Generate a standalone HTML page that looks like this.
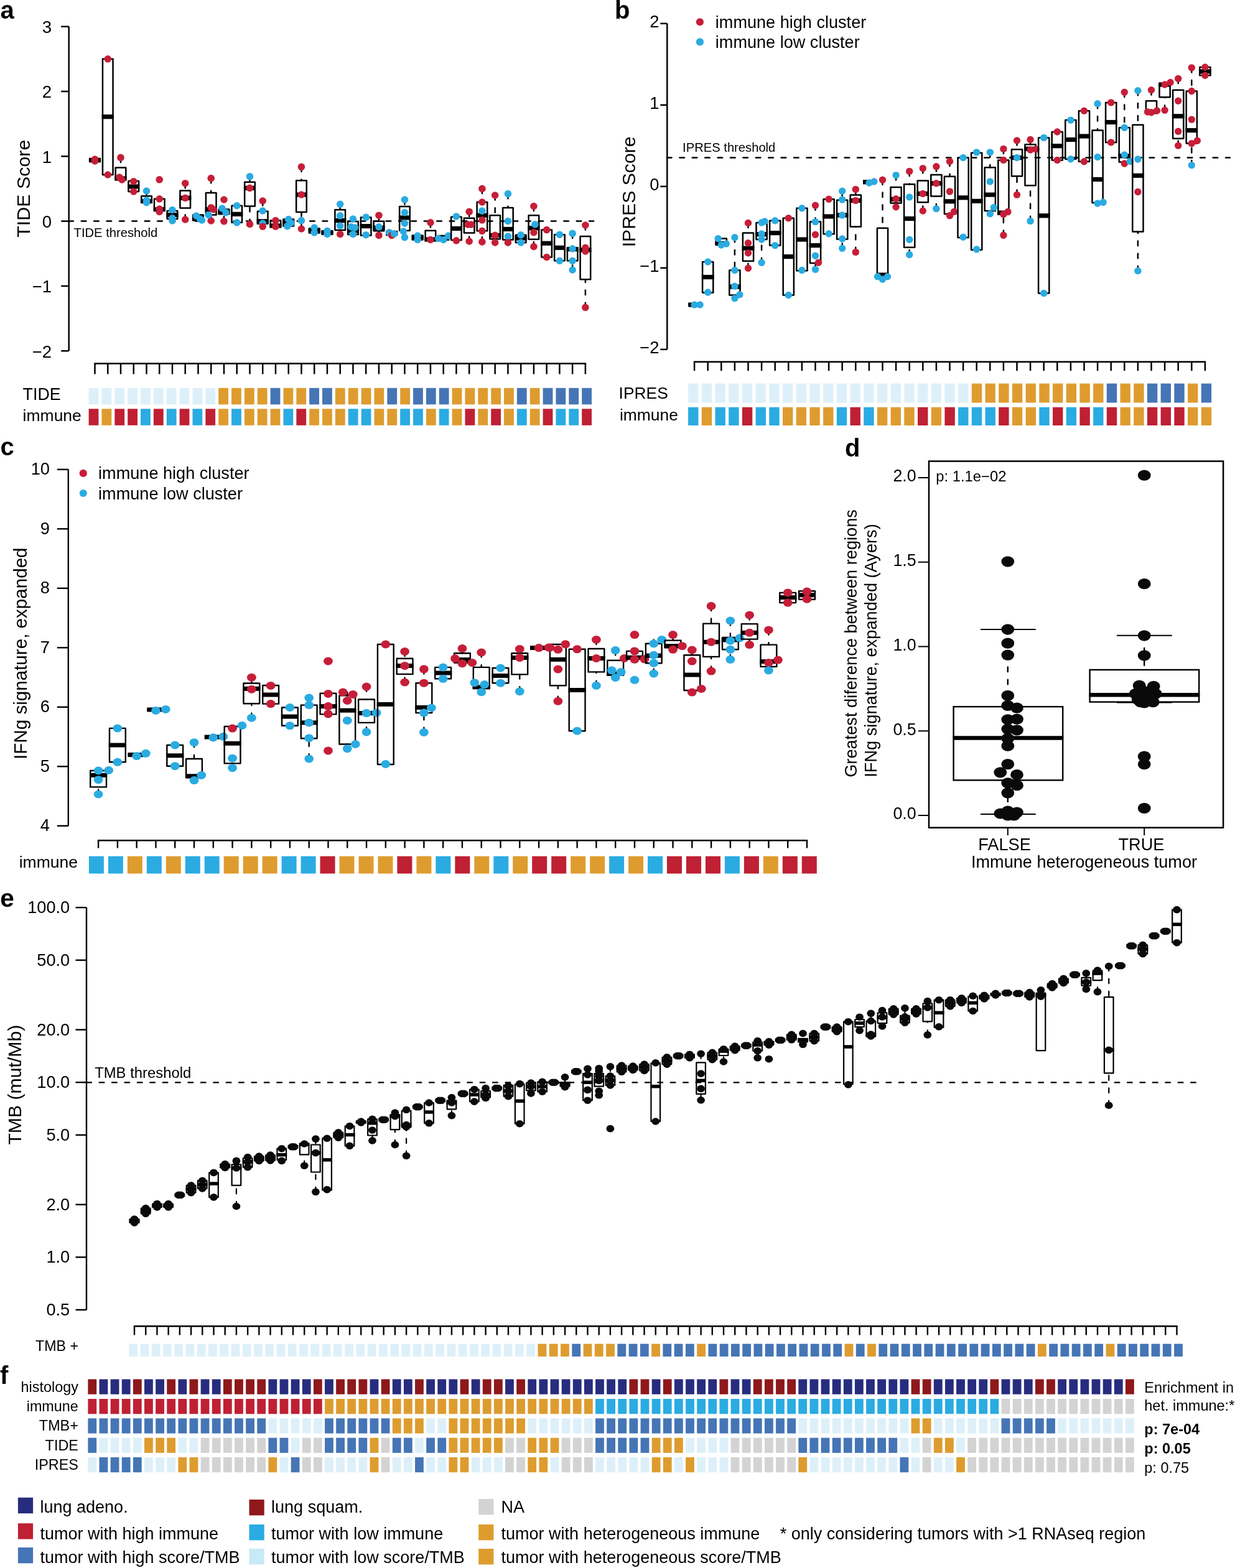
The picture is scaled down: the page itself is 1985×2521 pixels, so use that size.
<!DOCTYPE html>
<html><head><meta charset="utf-8"><title>Figure</title>
<style>html,body{margin:0;padding:0;background:#fff;} svg{display:block;} text{font-family:"Liberation Sans", Arial, Helvetica, sans-serif;}</style>
</head><body>
<svg xmlns="http://www.w3.org/2000/svg" width="1985" height="2521" viewBox="0 0 1985 2521">
<rect x="0" y="0" width="1985" height="2521" fill="#fff"/>
<line x1="110.7" y1="42.7" x2="110.7" y2="564.2" stroke="#000" stroke-width="2.5" stroke-linecap="butt"/>
<line x1="98.2" y1="42.7" x2="110.7" y2="42.7" stroke="#000" stroke-width="2.5" stroke-linecap="butt"/>
<text x="83" y="53.1" font-size="27.6" text-anchor="end" fill="#000">3</text>
<line x1="98.2" y1="147" x2="110.7" y2="147" stroke="#000" stroke-width="2.5" stroke-linecap="butt"/>
<text x="83" y="157.4" font-size="27.6" text-anchor="end" fill="#000">2</text>
<line x1="98.2" y1="251.3" x2="110.7" y2="251.3" stroke="#000" stroke-width="2.5" stroke-linecap="butt"/>
<text x="83" y="261.7" font-size="27.6" text-anchor="end" fill="#000">1</text>
<line x1="98.2" y1="355.6" x2="110.7" y2="355.6" stroke="#000" stroke-width="2.5" stroke-linecap="butt"/>
<text x="83" y="366" font-size="27.6" text-anchor="end" fill="#000">0</text>
<line x1="98.2" y1="459.9" x2="110.7" y2="459.9" stroke="#000" stroke-width="2.5" stroke-linecap="butt"/>
<text x="83" y="470.3" font-size="27.6" text-anchor="end" fill="#000">−1</text>
<line x1="98.2" y1="564.2" x2="110.7" y2="564.2" stroke="#000" stroke-width="2.5" stroke-linecap="butt"/>
<text x="83" y="574.6" font-size="27.6" text-anchor="end" fill="#000">−2</text>
<line x1="110.34" y1="355.6" x2="954.1" y2="355.6" stroke="#000" stroke-width="2.5" stroke-dasharray="7.6 12.81" stroke-linecap="round"/>
<text x="118.6" y="380.5" font-size="20.2" text-anchor="start" fill="#000">TIDE threshold</text>
<text transform="translate(48.4,303.2) rotate(-90)" font-size="30.4" text-anchor="middle" fill="#000">TIDE Score</text>
<text x="0.5" y="30.3" font-size="40" text-anchor="start" font-weight="bold" fill="#000">a</text>
<rect x="144.2" y="255" width="16.6" height="5" fill="none" stroke="#000" stroke-width="2.5" stroke-linejoin="round"/>
<line x1="142.95" y1="257.5" x2="162.05" y2="257.5" stroke="#000" stroke-width="7.2" stroke-linecap="butt"/>
<circle cx="152.5" cy="256" r="5.8" fill="#C61E38"/>
<circle cx="152.5" cy="259" r="5.8" fill="#C61E38"/>
<rect x="164.95" y="94.8" width="16.6" height="186.2" fill="none" stroke="#000" stroke-width="2.5" stroke-linejoin="round"/>
<line x1="163.7" y1="187.7" x2="182.8" y2="187.7" stroke="#000" stroke-width="7.2" stroke-linecap="butt"/>
<circle cx="173.25" cy="94.8" r="5.8" fill="#C61E38"/>
<circle cx="173.25" cy="281" r="5.8" fill="#C61E38"/>
<line x1="193.99" y1="253.4" x2="193.99" y2="269.6" stroke="#000" stroke-width="2.5" stroke-dasharray="7.6 12.6" stroke-linecap="round"/>
<line x1="193.99" y1="289" x2="193.99" y2="288" stroke="#000" stroke-width="2.5" stroke-dasharray="7.6 12.6" stroke-linecap="round"/>
<rect x="185.69" y="269.6" width="16.6" height="18.4" fill="none" stroke="#000" stroke-width="2.5" stroke-linejoin="round"/>
<line x1="184.44" y1="287" x2="203.54" y2="287" stroke="#000" stroke-width="7.2" stroke-linecap="butt"/>
<circle cx="193.99" cy="253.4" r="5.8" fill="#C61E38"/>
<circle cx="191.99" cy="285" r="5.8" fill="#C61E38"/>
<circle cx="195.99" cy="289" r="5.8" fill="#C61E38"/>
<rect x="206.44" y="291" width="16.6" height="17" fill="none" stroke="#000" stroke-width="2.5" stroke-linejoin="round"/>
<line x1="205.19" y1="300" x2="224.29" y2="300" stroke="#000" stroke-width="7.2" stroke-linecap="butt"/>
<circle cx="214.74" cy="291.7" r="5.8" fill="#C61E38"/>
<circle cx="214.74" cy="308" r="5.8" fill="#C61E38"/>
<line x1="235.49" y1="307" x2="235.49" y2="315.3" stroke="#000" stroke-width="2.5" stroke-dasharray="7.6 12.6" stroke-linecap="round"/>
<line x1="235.49" y1="325.7" x2="235.49" y2="325" stroke="#000" stroke-width="2.5" stroke-dasharray="7.6 12.6" stroke-linecap="round"/>
<rect x="227.19" y="315.3" width="16.6" height="9.7" fill="none" stroke="#000" stroke-width="2.5" stroke-linejoin="round"/>
<line x1="225.94" y1="323.5" x2="245.04" y2="323.5" stroke="#000" stroke-width="7.2" stroke-linecap="butt"/>
<circle cx="235.49" cy="307" r="5.8" fill="#2AABE2"/>
<circle cx="235.49" cy="322" r="5.8" fill="#2AABE2"/>
<circle cx="235.49" cy="325.7" r="5.8" fill="#2AABE2"/>
<line x1="256.24" y1="340.4" x2="256.24" y2="337.5" stroke="#000" stroke-width="2.5" stroke-dasharray="7.6 12.6" stroke-linecap="round"/>
<rect x="247.94" y="319.8" width="16.6" height="17.7" fill="none" stroke="#000" stroke-width="2.5" stroke-linejoin="round"/>
<line x1="246.69" y1="336.7" x2="265.79" y2="336.7" stroke="#000" stroke-width="7.2" stroke-linecap="butt"/>
<circle cx="256.24" cy="288.8" r="5.8" fill="#C61E38"/>
<circle cx="256.24" cy="319.8" r="5.8" fill="#C61E38"/>
<circle cx="256.24" cy="336" r="5.8" fill="#C61E38"/>
<circle cx="256.24" cy="340.4" r="5.8" fill="#C61E38"/>
<line x1="276.98" y1="337.5" x2="276.98" y2="339" stroke="#000" stroke-width="2.5" stroke-dasharray="7.6 12.6" stroke-linecap="round"/>
<line x1="276.98" y1="355" x2="276.98" y2="352" stroke="#000" stroke-width="2.5" stroke-dasharray="7.6 12.6" stroke-linecap="round"/>
<rect x="268.68" y="339" width="16.6" height="13" fill="none" stroke="#000" stroke-width="2.5" stroke-linejoin="round"/>
<line x1="267.43" y1="345.6" x2="286.53" y2="345.6" stroke="#000" stroke-width="7.2" stroke-linecap="butt"/>
<circle cx="276.98" cy="337.5" r="5.8" fill="#2AABE2"/>
<circle cx="276.98" cy="350.8" r="5.8" fill="#2AABE2"/>
<circle cx="276.98" cy="355" r="5.8" fill="#2AABE2"/>
<line x1="297.73" y1="294.7" x2="297.73" y2="306.5" stroke="#000" stroke-width="2.5" stroke-dasharray="7.6 12.6" stroke-linecap="round"/>
<line x1="297.73" y1="353" x2="297.73" y2="334.5" stroke="#000" stroke-width="2.5" stroke-dasharray="7.6 12.6" stroke-linecap="round"/>
<rect x="289.43" y="306.5" width="16.6" height="28" fill="none" stroke="#000" stroke-width="2.5" stroke-linejoin="round"/>
<line x1="288.18" y1="318.3" x2="307.28" y2="318.3" stroke="#000" stroke-width="7.2" stroke-linecap="butt"/>
<circle cx="297.73" cy="294.7" r="5.8" fill="#C61E38"/>
<circle cx="297.73" cy="318.3" r="5.8" fill="#C61E38"/>
<circle cx="297.73" cy="353" r="5.8" fill="#C61E38"/>
<rect x="310.18" y="345.6" width="16.6" height="8.9" fill="none" stroke="#000" stroke-width="2.5" stroke-linejoin="round"/>
<line x1="308.93" y1="350" x2="328.03" y2="350" stroke="#000" stroke-width="7.2" stroke-linecap="butt"/>
<circle cx="315.48" cy="347" r="5.8" fill="#2AABE2"/>
<circle cx="321.48" cy="352" r="5.8" fill="#2AABE2"/>
<circle cx="324.48" cy="354" r="5.8" fill="#2AABE2"/>
<line x1="339.23" y1="286.6" x2="339.23" y2="310" stroke="#000" stroke-width="2.5" stroke-dasharray="7.6 12.6" stroke-linecap="round"/>
<line x1="339.23" y1="355" x2="339.23" y2="345.6" stroke="#000" stroke-width="2.5" stroke-dasharray="7.6 12.6" stroke-linecap="round"/>
<rect x="330.93" y="310" width="16.6" height="35.6" fill="none" stroke="#000" stroke-width="2.5" stroke-linejoin="round"/>
<line x1="329.68" y1="336.7" x2="348.78" y2="336.7" stroke="#000" stroke-width="7.2" stroke-linecap="butt"/>
<circle cx="339.23" cy="286.6" r="5.8" fill="#C61E38"/>
<circle cx="339.23" cy="333.8" r="5.8" fill="#C61E38"/>
<circle cx="343.23" cy="336.7" r="5.8" fill="#C61E38"/>
<circle cx="339.23" cy="355" r="5.8" fill="#C61E38"/>
<circle cx="335.23" cy="345.6" r="5.8" fill="#2AABE2"/>
<line x1="359.97" y1="335" x2="359.97" y2="336.5" stroke="#000" stroke-width="2.5" stroke-dasharray="7.6 12.6" stroke-linecap="round"/>
<line x1="359.97" y1="355.8" x2="359.97" y2="344.3" stroke="#000" stroke-width="2.5" stroke-dasharray="7.6 12.6" stroke-linecap="round"/>
<rect x="351.67" y="336.5" width="16.6" height="7.8" fill="none" stroke="#000" stroke-width="2.5" stroke-linejoin="round"/>
<line x1="350.42" y1="341" x2="369.52" y2="341" stroke="#000" stroke-width="7.2" stroke-linecap="butt"/>
<circle cx="359.97" cy="321" r="5.8" fill="#C61E38"/>
<circle cx="356.97" cy="335" r="5.8" fill="#2AABE2"/>
<circle cx="362.97" cy="341.7" r="5.8" fill="#2AABE2"/>
<circle cx="359.97" cy="355.8" r="5.8" fill="#C61E38"/>
<rect x="372.42" y="330.7" width="16.6" height="27.1" fill="none" stroke="#000" stroke-width="2.5" stroke-linejoin="round"/>
<line x1="371.17" y1="344.3" x2="390.27" y2="344.3" stroke="#000" stroke-width="7.2" stroke-linecap="butt"/>
<circle cx="380.72" cy="330.7" r="5.8" fill="#2AABE2"/>
<circle cx="380.72" cy="357.8" r="5.8" fill="#2AABE2"/>
<line x1="401.47" y1="283.7" x2="401.47" y2="292.7" stroke="#000" stroke-width="2.5" stroke-dasharray="7.6 12.6" stroke-linecap="round"/>
<line x1="401.47" y1="360.4" x2="401.47" y2="331.4" stroke="#000" stroke-width="2.5" stroke-dasharray="7.6 12.6" stroke-linecap="round"/>
<rect x="393.17" y="292.7" width="16.6" height="38.7" fill="none" stroke="#000" stroke-width="2.5" stroke-linejoin="round"/>
<line x1="391.92" y1="302.4" x2="411.02" y2="302.4" stroke="#000" stroke-width="7.2" stroke-linecap="butt"/>
<circle cx="401.47" cy="283.7" r="5.8" fill="#2AABE2"/>
<circle cx="401.47" cy="302.4" r="5.8" fill="#C61E38"/>
<circle cx="401.47" cy="360.4" r="5.8" fill="#C61E38"/>
<line x1="422.22" y1="323" x2="422.22" y2="339.7" stroke="#000" stroke-width="2.5" stroke-dasharray="7.6 12.6" stroke-linecap="round"/>
<line x1="422.22" y1="364.2" x2="422.22" y2="359.7" stroke="#000" stroke-width="2.5" stroke-dasharray="7.6 12.6" stroke-linecap="round"/>
<rect x="413.92" y="339.7" width="16.6" height="20" fill="none" stroke="#000" stroke-width="2.5" stroke-linejoin="round"/>
<line x1="412.67" y1="355.8" x2="431.77" y2="355.8" stroke="#000" stroke-width="7.2" stroke-linecap="butt"/>
<circle cx="422.22" cy="323" r="5.8" fill="#C61E38"/>
<circle cx="422.22" cy="339" r="5.8" fill="#2AABE2"/>
<circle cx="422.22" cy="359" r="5.8" fill="#2AABE2"/>
<circle cx="422.22" cy="364.2" r="5.8" fill="#C61E38"/>
<rect x="434.66" y="354.6" width="16.6" height="9.6" fill="none" stroke="#000" stroke-width="2.5" stroke-linejoin="round"/>
<line x1="433.41" y1="363" x2="452.51" y2="363" stroke="#000" stroke-width="7.2" stroke-linecap="butt"/>
<circle cx="442.96" cy="354.6" r="5.8" fill="#C61E38"/>
<circle cx="442.96" cy="364.2" r="5.8" fill="#C61E38"/>
<rect x="455.41" y="352.6" width="16.6" height="11" fill="none" stroke="#000" stroke-width="2.5" stroke-linejoin="round"/>
<line x1="454.16" y1="358" x2="473.26" y2="358" stroke="#000" stroke-width="7.2" stroke-linecap="butt"/>
<circle cx="463.71" cy="352.6" r="5.8" fill="#2AABE2"/>
<circle cx="467.71" cy="358.4" r="5.8" fill="#2AABE2"/>
<circle cx="461.71" cy="363.6" r="5.8" fill="#2AABE2"/>
<line x1="484.46" y1="268.3" x2="484.46" y2="290.2" stroke="#000" stroke-width="2.5" stroke-dasharray="7.6 12.6" stroke-linecap="round"/>
<line x1="484.46" y1="368" x2="484.46" y2="341" stroke="#000" stroke-width="2.5" stroke-dasharray="7.6 12.6" stroke-linecap="round"/>
<rect x="476.16" y="290.2" width="16.6" height="50.8" fill="none" stroke="#000" stroke-width="2.5" stroke-linejoin="round"/>
<line x1="474.91" y1="313" x2="494.01" y2="313" stroke="#000" stroke-width="7.2" stroke-linecap="butt"/>
<circle cx="484.46" cy="268.3" r="5.8" fill="#C61E38"/>
<circle cx="484.46" cy="313" r="5.8" fill="#C61E38"/>
<circle cx="484.46" cy="354.6" r="5.8" fill="#2AABE2"/>
<circle cx="484.46" cy="368" r="5.8" fill="#C61E38"/>
<line x1="505.21" y1="366" x2="505.21" y2="367.4" stroke="#000" stroke-width="2.5" stroke-dasharray="7.6 12.6" stroke-linecap="round"/>
<rect x="496.91" y="367.4" width="16.6" height="7.1" fill="none" stroke="#000" stroke-width="2.5" stroke-linejoin="round"/>
<line x1="495.66" y1="370" x2="514.76" y2="370" stroke="#000" stroke-width="7.2" stroke-linecap="butt"/>
<circle cx="505.21" cy="366" r="5.8" fill="#2AABE2"/>
<circle cx="505.21" cy="374" r="5.8" fill="#2AABE2"/>
<rect x="517.65" y="371.3" width="16.6" height="5.2" fill="none" stroke="#000" stroke-width="2.5" stroke-linejoin="round"/>
<line x1="516.4" y1="374" x2="535.5" y2="374" stroke="#000" stroke-width="7.2" stroke-linecap="butt"/>
<circle cx="525.95" cy="371.3" r="5.8" fill="#2AABE2"/>
<circle cx="525.95" cy="376.5" r="5.8" fill="#2AABE2"/>
<line x1="546.7" y1="328.2" x2="546.7" y2="337.2" stroke="#000" stroke-width="2.5" stroke-dasharray="7.6 12.6" stroke-linecap="round"/>
<line x1="546.7" y1="376.5" x2="546.7" y2="370" stroke="#000" stroke-width="2.5" stroke-dasharray="7.6 12.6" stroke-linecap="round"/>
<rect x="538.4" y="337.2" width="16.6" height="32.8" fill="none" stroke="#000" stroke-width="2.5" stroke-linejoin="round"/>
<line x1="537.15" y1="354.6" x2="556.25" y2="354.6" stroke="#000" stroke-width="7.2" stroke-linecap="butt"/>
<circle cx="546.7" cy="328.2" r="5.8" fill="#2AABE2"/>
<circle cx="546.7" cy="346.8" r="5.8" fill="#2AABE2"/>
<circle cx="546.7" cy="363" r="5.8" fill="#2AABE2"/>
<circle cx="546.7" cy="376.5" r="5.8" fill="#C61E38"/>
<line x1="567.45" y1="352" x2="567.45" y2="356" stroke="#000" stroke-width="2.5" stroke-dasharray="7.6 12.6" stroke-linecap="round"/>
<rect x="559.15" y="356" width="16.6" height="21" fill="none" stroke="#000" stroke-width="2.5" stroke-linejoin="round"/>
<line x1="557.9" y1="371" x2="577" y2="371" stroke="#000" stroke-width="7.2" stroke-linecap="butt"/>
<circle cx="567.45" cy="352" r="5.8" fill="#2AABE2"/>
<circle cx="564.45" cy="364.9" r="5.8" fill="#2AABE2"/>
<circle cx="570.45" cy="366" r="5.8" fill="#2AABE2"/>
<circle cx="567.45" cy="376.5" r="5.8" fill="#2AABE2"/>
<rect x="579.89" y="349.4" width="16.6" height="29" fill="none" stroke="#000" stroke-width="2.5" stroke-linejoin="round"/>
<line x1="578.64" y1="363.6" x2="597.74" y2="363.6" stroke="#000" stroke-width="7.2" stroke-linecap="butt"/>
<circle cx="588.19" cy="349.4" r="5.8" fill="#2AABE2"/>
<circle cx="588.19" cy="377.7" r="5.8" fill="#2AABE2"/>
<line x1="608.94" y1="346.2" x2="608.94" y2="355.8" stroke="#000" stroke-width="2.5" stroke-dasharray="7.6 12.6" stroke-linecap="round"/>
<line x1="608.94" y1="378.4" x2="608.94" y2="371.3" stroke="#000" stroke-width="2.5" stroke-dasharray="7.6 12.6" stroke-linecap="round"/>
<rect x="600.64" y="355.8" width="16.6" height="15.5" fill="none" stroke="#000" stroke-width="2.5" stroke-linejoin="round"/>
<line x1="599.39" y1="366.2" x2="618.49" y2="366.2" stroke="#000" stroke-width="7.2" stroke-linecap="butt"/>
<circle cx="608.94" cy="346.2" r="5.8" fill="#C61E38"/>
<circle cx="608.94" cy="364.9" r="5.8" fill="#2AABE2"/>
<circle cx="608.94" cy="378.4" r="5.8" fill="#C61E38"/>
<rect x="621.39" y="372" width="16.6" height="6" fill="none" stroke="#000" stroke-width="2.5" stroke-linejoin="round"/>
<line x1="620.14" y1="375" x2="639.24" y2="375" stroke="#000" stroke-width="7.2" stroke-linecap="butt"/>
<circle cx="625.69" cy="373.9" r="5.8" fill="#2AABE2"/>
<circle cx="629.69" cy="378.4" r="5.8" fill="#C61E38"/>
<circle cx="633.69" cy="376" r="5.8" fill="#2AABE2"/>
<line x1="650.44" y1="321" x2="650.44" y2="332" stroke="#000" stroke-width="2.5" stroke-dasharray="7.6 12.6" stroke-linecap="round"/>
<line x1="650.44" y1="381.6" x2="650.44" y2="370.7" stroke="#000" stroke-width="2.5" stroke-dasharray="7.6 12.6" stroke-linecap="round"/>
<rect x="642.14" y="332" width="16.6" height="38.7" fill="none" stroke="#000" stroke-width="2.5" stroke-linejoin="round"/>
<line x1="640.89" y1="350" x2="659.99" y2="350" stroke="#000" stroke-width="7.2" stroke-linecap="butt"/>
<circle cx="650.44" cy="321" r="5.8" fill="#2AABE2"/>
<circle cx="650.44" cy="341.7" r="5.8" fill="#2AABE2"/>
<circle cx="650.44" cy="359" r="5.8" fill="#2AABE2"/>
<circle cx="648.44" cy="372" r="5.8" fill="#2AABE2"/>
<circle cx="650.44" cy="381.6" r="5.8" fill="#2AABE2"/>
<rect x="662.88" y="378.4" width="16.6" height="7.1" fill="none" stroke="#000" stroke-width="2.5" stroke-linejoin="round"/>
<line x1="661.63" y1="382" x2="680.73" y2="382" stroke="#000" stroke-width="7.2" stroke-linecap="butt"/>
<circle cx="671.18" cy="379" r="5.8" fill="#2AABE2"/>
<circle cx="671.18" cy="385.5" r="5.8" fill="#2AABE2"/>
<line x1="691.93" y1="357.8" x2="691.93" y2="370.7" stroke="#000" stroke-width="2.5" stroke-dasharray="7.6 12.6" stroke-linecap="round"/>
<rect x="683.63" y="370.7" width="16.6" height="14.8" fill="none" stroke="#000" stroke-width="2.5" stroke-linejoin="round"/>
<line x1="682.38" y1="385" x2="701.48" y2="385" stroke="#000" stroke-width="7.2" stroke-linecap="butt"/>
<circle cx="691.93" cy="357.8" r="5.8" fill="#C61E38"/>
<circle cx="691.93" cy="385.5" r="5.8" fill="#C61E38"/>
<rect x="704.38" y="379" width="16.6" height="6.5" fill="none" stroke="#000" stroke-width="2.5" stroke-linejoin="round"/>
<line x1="703.13" y1="383" x2="722.23" y2="383" stroke="#000" stroke-width="7.2" stroke-linecap="butt"/>
<circle cx="704.68" cy="383.5" r="5.8" fill="#2AABE2"/>
<circle cx="712.68" cy="385.5" r="5.8" fill="#2AABE2"/>
<circle cx="720.68" cy="379" r="5.8" fill="#2AABE2"/>
<line x1="733.43" y1="348" x2="733.43" y2="348.8" stroke="#000" stroke-width="2.5" stroke-dasharray="7.6 12.6" stroke-linecap="round"/>
<line x1="733.43" y1="386.8" x2="733.43" y2="386" stroke="#000" stroke-width="2.5" stroke-dasharray="7.6 12.6" stroke-linecap="round"/>
<rect x="725.13" y="348.8" width="16.6" height="37.2" fill="none" stroke="#000" stroke-width="2.5" stroke-linejoin="round"/>
<line x1="723.88" y1="367.4" x2="742.98" y2="367.4" stroke="#000" stroke-width="7.2" stroke-linecap="butt"/>
<circle cx="733.43" cy="348" r="5.8" fill="#2AABE2"/>
<circle cx="733.43" cy="386.8" r="5.8" fill="#C61E38"/>
<line x1="754.17" y1="340.4" x2="754.17" y2="350.7" stroke="#000" stroke-width="2.5" stroke-dasharray="7.6 12.6" stroke-linecap="round"/>
<line x1="754.17" y1="388" x2="754.17" y2="374.5" stroke="#000" stroke-width="2.5" stroke-dasharray="7.6 12.6" stroke-linecap="round"/>
<rect x="745.87" y="350.7" width="16.6" height="23.8" fill="none" stroke="#000" stroke-width="2.5" stroke-linejoin="round"/>
<line x1="744.62" y1="361" x2="763.72" y2="361" stroke="#000" stroke-width="7.2" stroke-linecap="butt"/>
<circle cx="754.17" cy="340.4" r="5.8" fill="#C61E38"/>
<circle cx="752.17" cy="361" r="5.8" fill="#C61E38"/>
<circle cx="757.17" cy="361" r="5.8" fill="#C61E38"/>
<circle cx="754.17" cy="388" r="5.8" fill="#C61E38"/>
<line x1="774.92" y1="303.4" x2="774.92" y2="325.1" stroke="#000" stroke-width="2.5" stroke-dasharray="7.6 12.6" stroke-linecap="round"/>
<line x1="774.92" y1="388.9" x2="774.92" y2="371.3" stroke="#000" stroke-width="2.5" stroke-dasharray="7.6 12.6" stroke-linecap="round"/>
<rect x="766.62" y="325.1" width="16.6" height="46.2" fill="none" stroke="#000" stroke-width="2.5" stroke-linejoin="round"/>
<line x1="765.37" y1="346.2" x2="784.47" y2="346.2" stroke="#000" stroke-width="7.2" stroke-linecap="butt"/>
<circle cx="774.92" cy="303.4" r="5.8" fill="#C61E38"/>
<circle cx="774.92" cy="325" r="5.8" fill="#C61E38"/>
<circle cx="774.92" cy="339.1" r="5.8" fill="#2AABE2"/>
<circle cx="774.92" cy="353.8" r="5.8" fill="#C61E38"/>
<circle cx="774.92" cy="371.3" r="5.8" fill="#C61E38"/>
<circle cx="774.92" cy="388.9" r="5.8" fill="#C61E38"/>
<line x1="795.67" y1="314" x2="795.67" y2="346.2" stroke="#000" stroke-width="2.5" stroke-dasharray="7.6 12.6" stroke-linecap="round"/>
<line x1="795.67" y1="390" x2="795.67" y2="384.2" stroke="#000" stroke-width="2.5" stroke-dasharray="7.6 12.6" stroke-linecap="round"/>
<rect x="787.37" y="346.2" width="16.6" height="38" fill="none" stroke="#000" stroke-width="2.5" stroke-linejoin="round"/>
<line x1="786.12" y1="378.4" x2="805.22" y2="378.4" stroke="#000" stroke-width="7.2" stroke-linecap="butt"/>
<circle cx="795.67" cy="314" r="5.8" fill="#C61E38"/>
<circle cx="795.67" cy="378.4" r="5.8" fill="#C61E38"/>
<circle cx="795.67" cy="390" r="5.8" fill="#C61E38"/>
<line x1="816.42" y1="311.6" x2="816.42" y2="333.9" stroke="#000" stroke-width="2.5" stroke-dasharray="7.6 12.6" stroke-linecap="round"/>
<line x1="816.42" y1="390" x2="816.42" y2="385.4" stroke="#000" stroke-width="2.5" stroke-dasharray="7.6 12.6" stroke-linecap="round"/>
<rect x="808.12" y="333.9" width="16.6" height="51.5" fill="none" stroke="#000" stroke-width="2.5" stroke-linejoin="round"/>
<line x1="806.87" y1="368.4" x2="825.97" y2="368.4" stroke="#000" stroke-width="7.2" stroke-linecap="butt"/>
<circle cx="816.42" cy="311.6" r="5.8" fill="#2AABE2"/>
<circle cx="816.42" cy="355.5" r="5.8" fill="#2AABE2"/>
<circle cx="816.42" cy="380.1" r="5.8" fill="#2AABE2"/>
<circle cx="816.42" cy="390" r="5.8" fill="#C61E38"/>
<rect x="828.86" y="377.8" width="16.6" height="12.2" fill="none" stroke="#000" stroke-width="2.5" stroke-linejoin="round"/>
<line x1="827.61" y1="383" x2="846.71" y2="383" stroke="#000" stroke-width="7.2" stroke-linecap="butt"/>
<circle cx="837.16" cy="377.8" r="5.8" fill="#2AABE2"/>
<circle cx="837.16" cy="390" r="5.8" fill="#2AABE2"/>
<line x1="857.91" y1="331.5" x2="857.91" y2="346.2" stroke="#000" stroke-width="2.5" stroke-dasharray="7.6 12.6" stroke-linecap="round"/>
<line x1="857.91" y1="396.5" x2="857.91" y2="384.8" stroke="#000" stroke-width="2.5" stroke-dasharray="7.6 12.6" stroke-linecap="round"/>
<rect x="849.61" y="346.2" width="16.6" height="38.6" fill="none" stroke="#000" stroke-width="2.5" stroke-linejoin="round"/>
<line x1="848.36" y1="366.7" x2="867.46" y2="366.7" stroke="#000" stroke-width="7.2" stroke-linecap="butt"/>
<circle cx="857.91" cy="331.5" r="5.8" fill="#C61E38"/>
<circle cx="859.91" cy="360.8" r="5.8" fill="#2AABE2"/>
<circle cx="857.91" cy="373.7" r="5.8" fill="#C61E38"/>
<circle cx="857.91" cy="396.5" r="5.8" fill="#C61E38"/>
<rect x="870.36" y="369.6" width="16.6" height="43.9" fill="none" stroke="#000" stroke-width="2.5" stroke-linejoin="round"/>
<line x1="869.11" y1="391.2" x2="888.21" y2="391.2" stroke="#000" stroke-width="7.2" stroke-linecap="butt"/>
<circle cx="878.66" cy="369.6" r="5.8" fill="#C61E38"/>
<circle cx="878.66" cy="413.5" r="5.8" fill="#C61E38"/>
<rect x="891.11" y="377.2" width="16.6" height="42.1" fill="none" stroke="#000" stroke-width="2.5" stroke-linejoin="round"/>
<line x1="889.86" y1="398.3" x2="908.96" y2="398.3" stroke="#000" stroke-width="7.2" stroke-linecap="butt"/>
<circle cx="899.41" cy="377.2" r="5.8" fill="#2AABE2"/>
<circle cx="899.41" cy="419.3" r="5.8" fill="#2AABE2"/>
<line x1="920.15" y1="375.4" x2="920.15" y2="399.4" stroke="#000" stroke-width="2.5" stroke-dasharray="7.6 12.6" stroke-linecap="round"/>
<line x1="920.15" y1="434" x2="920.15" y2="419.3" stroke="#000" stroke-width="2.5" stroke-dasharray="7.6 12.6" stroke-linecap="round"/>
<rect x="911.85" y="399.4" width="16.6" height="19.9" fill="none" stroke="#000" stroke-width="2.5" stroke-linejoin="round"/>
<line x1="910.6" y1="400.6" x2="929.7" y2="400.6" stroke="#000" stroke-width="7.2" stroke-linecap="butt"/>
<circle cx="920.15" cy="375.4" r="5.8" fill="#2AABE2"/>
<circle cx="920.15" cy="400" r="5.8" fill="#2AABE2"/>
<circle cx="920.15" cy="419.3" r="5.8" fill="#2AABE2"/>
<circle cx="920.15" cy="434" r="5.8" fill="#2AABE2"/>
<line x1="940.9" y1="362" x2="940.9" y2="380.1" stroke="#000" stroke-width="2.5" stroke-dasharray="7.6 12.6" stroke-linecap="round"/>
<line x1="940.9" y1="494.3" x2="940.9" y2="449.2" stroke="#000" stroke-width="2.5" stroke-dasharray="7.6 12.6" stroke-linecap="round"/>
<rect x="932.6" y="380.1" width="16.6" height="69.1" fill="none" stroke="#000" stroke-width="2.5" stroke-linejoin="round"/>
<line x1="931.35" y1="401.8" x2="950.45" y2="401.8" stroke="#000" stroke-width="7.2" stroke-linecap="butt"/>
<circle cx="940.9" cy="362" r="5.8" fill="#C61E38"/>
<circle cx="940.9" cy="398.3" r="5.8" fill="#C61E38"/>
<circle cx="940.9" cy="404" r="5.8" fill="#C61E38"/>
<circle cx="940.9" cy="494.3" r="5.8" fill="#C61E38"/>
<line x1="151.3" y1="584.5" x2="942.1" y2="584.5" stroke="#000" stroke-width="2.5" stroke-linecap="butt"/>
<line x1="152.5" y1="584.5" x2="152.5" y2="601.5" stroke="#000" stroke-width="2.5" stroke-linecap="butt"/>
<line x1="173.25" y1="584.5" x2="173.25" y2="601.5" stroke="#000" stroke-width="2.5" stroke-linecap="butt"/>
<line x1="193.99" y1="584.5" x2="193.99" y2="601.5" stroke="#000" stroke-width="2.5" stroke-linecap="butt"/>
<line x1="214.74" y1="584.5" x2="214.74" y2="601.5" stroke="#000" stroke-width="2.5" stroke-linecap="butt"/>
<line x1="235.49" y1="584.5" x2="235.49" y2="601.5" stroke="#000" stroke-width="2.5" stroke-linecap="butt"/>
<line x1="256.24" y1="584.5" x2="256.24" y2="601.5" stroke="#000" stroke-width="2.5" stroke-linecap="butt"/>
<line x1="276.98" y1="584.5" x2="276.98" y2="601.5" stroke="#000" stroke-width="2.5" stroke-linecap="butt"/>
<line x1="297.73" y1="584.5" x2="297.73" y2="601.5" stroke="#000" stroke-width="2.5" stroke-linecap="butt"/>
<line x1="318.48" y1="584.5" x2="318.48" y2="601.5" stroke="#000" stroke-width="2.5" stroke-linecap="butt"/>
<line x1="339.23" y1="584.5" x2="339.23" y2="601.5" stroke="#000" stroke-width="2.5" stroke-linecap="butt"/>
<line x1="359.97" y1="584.5" x2="359.97" y2="601.5" stroke="#000" stroke-width="2.5" stroke-linecap="butt"/>
<line x1="380.72" y1="584.5" x2="380.72" y2="601.5" stroke="#000" stroke-width="2.5" stroke-linecap="butt"/>
<line x1="401.47" y1="584.5" x2="401.47" y2="601.5" stroke="#000" stroke-width="2.5" stroke-linecap="butt"/>
<line x1="422.22" y1="584.5" x2="422.22" y2="601.5" stroke="#000" stroke-width="2.5" stroke-linecap="butt"/>
<line x1="442.96" y1="584.5" x2="442.96" y2="601.5" stroke="#000" stroke-width="2.5" stroke-linecap="butt"/>
<line x1="463.71" y1="584.5" x2="463.71" y2="601.5" stroke="#000" stroke-width="2.5" stroke-linecap="butt"/>
<line x1="484.46" y1="584.5" x2="484.46" y2="601.5" stroke="#000" stroke-width="2.5" stroke-linecap="butt"/>
<line x1="505.21" y1="584.5" x2="505.21" y2="601.5" stroke="#000" stroke-width="2.5" stroke-linecap="butt"/>
<line x1="525.95" y1="584.5" x2="525.95" y2="601.5" stroke="#000" stroke-width="2.5" stroke-linecap="butt"/>
<line x1="546.7" y1="584.5" x2="546.7" y2="601.5" stroke="#000" stroke-width="2.5" stroke-linecap="butt"/>
<line x1="567.45" y1="584.5" x2="567.45" y2="601.5" stroke="#000" stroke-width="2.5" stroke-linecap="butt"/>
<line x1="588.19" y1="584.5" x2="588.19" y2="601.5" stroke="#000" stroke-width="2.5" stroke-linecap="butt"/>
<line x1="608.94" y1="584.5" x2="608.94" y2="601.5" stroke="#000" stroke-width="2.5" stroke-linecap="butt"/>
<line x1="629.69" y1="584.5" x2="629.69" y2="601.5" stroke="#000" stroke-width="2.5" stroke-linecap="butt"/>
<line x1="650.44" y1="584.5" x2="650.44" y2="601.5" stroke="#000" stroke-width="2.5" stroke-linecap="butt"/>
<line x1="671.18" y1="584.5" x2="671.18" y2="601.5" stroke="#000" stroke-width="2.5" stroke-linecap="butt"/>
<line x1="691.93" y1="584.5" x2="691.93" y2="601.5" stroke="#000" stroke-width="2.5" stroke-linecap="butt"/>
<line x1="712.68" y1="584.5" x2="712.68" y2="601.5" stroke="#000" stroke-width="2.5" stroke-linecap="butt"/>
<line x1="733.43" y1="584.5" x2="733.43" y2="601.5" stroke="#000" stroke-width="2.5" stroke-linecap="butt"/>
<line x1="754.17" y1="584.5" x2="754.17" y2="601.5" stroke="#000" stroke-width="2.5" stroke-linecap="butt"/>
<line x1="774.92" y1="584.5" x2="774.92" y2="601.5" stroke="#000" stroke-width="2.5" stroke-linecap="butt"/>
<line x1="795.67" y1="584.5" x2="795.67" y2="601.5" stroke="#000" stroke-width="2.5" stroke-linecap="butt"/>
<line x1="816.42" y1="584.5" x2="816.42" y2="601.5" stroke="#000" stroke-width="2.5" stroke-linecap="butt"/>
<line x1="837.16" y1="584.5" x2="837.16" y2="601.5" stroke="#000" stroke-width="2.5" stroke-linecap="butt"/>
<line x1="857.91" y1="584.5" x2="857.91" y2="601.5" stroke="#000" stroke-width="2.5" stroke-linecap="butt"/>
<line x1="878.66" y1="584.5" x2="878.66" y2="601.5" stroke="#000" stroke-width="2.5" stroke-linecap="butt"/>
<line x1="899.41" y1="584.5" x2="899.41" y2="601.5" stroke="#000" stroke-width="2.5" stroke-linecap="butt"/>
<line x1="920.15" y1="584.5" x2="920.15" y2="601.5" stroke="#000" stroke-width="2.5" stroke-linecap="butt"/>
<line x1="940.9" y1="584.5" x2="940.9" y2="601.5" stroke="#000" stroke-width="2.5" stroke-linecap="butt"/>
<rect x="142.6" y="623.8" width="15.8" height="26.5" fill="#DDF0F9"/>
<rect x="163.46" y="623.8" width="15.8" height="26.5" fill="#DDF0F9"/>
<rect x="184.32" y="623.8" width="15.8" height="26.5" fill="#DDF0F9"/>
<rect x="205.17" y="623.8" width="15.8" height="26.5" fill="#DDF0F9"/>
<rect x="226.03" y="623.8" width="15.8" height="26.5" fill="#DDF0F9"/>
<rect x="246.89" y="623.8" width="15.8" height="26.5" fill="#DDF0F9"/>
<rect x="267.75" y="623.8" width="15.8" height="26.5" fill="#DDF0F9"/>
<rect x="288.61" y="623.8" width="15.8" height="26.5" fill="#DDF0F9"/>
<rect x="309.46" y="623.8" width="15.8" height="26.5" fill="#DDF0F9"/>
<rect x="330.32" y="623.8" width="15.8" height="26.5" fill="#DDF0F9"/>
<rect x="351.18" y="623.8" width="15.8" height="26.5" fill="#DE9C2F"/>
<rect x="372.04" y="623.8" width="15.8" height="26.5" fill="#DE9C2F"/>
<rect x="392.89" y="623.8" width="15.8" height="26.5" fill="#DE9C2F"/>
<rect x="413.75" y="623.8" width="15.8" height="26.5" fill="#DE9C2F"/>
<rect x="434.61" y="623.8" width="15.8" height="26.5" fill="#4575B5"/>
<rect x="455.47" y="623.8" width="15.8" height="26.5" fill="#DE9C2F"/>
<rect x="476.33" y="623.8" width="15.8" height="26.5" fill="#DE9C2F"/>
<rect x="497.18" y="623.8" width="15.8" height="26.5" fill="#4575B5"/>
<rect x="518.04" y="623.8" width="15.8" height="26.5" fill="#4575B5"/>
<rect x="538.9" y="623.8" width="15.8" height="26.5" fill="#DE9C2F"/>
<rect x="559.76" y="623.8" width="15.8" height="26.5" fill="#DE9C2F"/>
<rect x="580.62" y="623.8" width="15.8" height="26.5" fill="#DE9C2F"/>
<rect x="601.47" y="623.8" width="15.8" height="26.5" fill="#DE9C2F"/>
<rect x="622.33" y="623.8" width="15.8" height="26.5" fill="#4575B5"/>
<rect x="643.19" y="623.8" width="15.8" height="26.5" fill="#DE9C2F"/>
<rect x="664.05" y="623.8" width="15.8" height="26.5" fill="#4575B5"/>
<rect x="684.91" y="623.8" width="15.8" height="26.5" fill="#4575B5"/>
<rect x="705.76" y="623.8" width="15.8" height="26.5" fill="#4575B5"/>
<rect x="726.62" y="623.8" width="15.8" height="26.5" fill="#DE9C2F"/>
<rect x="747.48" y="623.8" width="15.8" height="26.5" fill="#DE9C2F"/>
<rect x="768.34" y="623.8" width="15.8" height="26.5" fill="#DE9C2F"/>
<rect x="789.19" y="623.8" width="15.8" height="26.5" fill="#DE9C2F"/>
<rect x="810.05" y="623.8" width="15.8" height="26.5" fill="#DE9C2F"/>
<rect x="830.91" y="623.8" width="15.8" height="26.5" fill="#4575B5"/>
<rect x="851.77" y="623.8" width="15.8" height="26.5" fill="#DE9C2F"/>
<rect x="872.63" y="623.8" width="15.8" height="26.5" fill="#4575B5"/>
<rect x="893.48" y="623.8" width="15.8" height="26.5" fill="#4575B5"/>
<rect x="914.34" y="623.8" width="15.8" height="26.5" fill="#4575B5"/>
<rect x="935.2" y="623.8" width="15.8" height="26.5" fill="#4575B5"/>
<rect x="142.6" y="657.3" width="15.8" height="26.5" fill="#BF2033"/>
<rect x="163.46" y="657.3" width="15.8" height="26.5" fill="#DE9C2F"/>
<rect x="184.32" y="657.3" width="15.8" height="26.5" fill="#BF2033"/>
<rect x="205.17" y="657.3" width="15.8" height="26.5" fill="#BF2033"/>
<rect x="226.03" y="657.3" width="15.8" height="26.5" fill="#2AABE2"/>
<rect x="246.89" y="657.3" width="15.8" height="26.5" fill="#BF2033"/>
<rect x="267.75" y="657.3" width="15.8" height="26.5" fill="#2AABE2"/>
<rect x="288.61" y="657.3" width="15.8" height="26.5" fill="#BF2033"/>
<rect x="309.46" y="657.3" width="15.8" height="26.5" fill="#2AABE2"/>
<rect x="330.32" y="657.3" width="15.8" height="26.5" fill="#BF2033"/>
<rect x="351.18" y="657.3" width="15.8" height="26.5" fill="#DE9C2F"/>
<rect x="372.04" y="657.3" width="15.8" height="26.5" fill="#2AABE2"/>
<rect x="392.89" y="657.3" width="15.8" height="26.5" fill="#DE9C2F"/>
<rect x="413.75" y="657.3" width="15.8" height="26.5" fill="#DE9C2F"/>
<rect x="434.61" y="657.3" width="15.8" height="26.5" fill="#DE9C2F"/>
<rect x="455.47" y="657.3" width="15.8" height="26.5" fill="#2AABE2"/>
<rect x="476.33" y="657.3" width="15.8" height="26.5" fill="#BF2033"/>
<rect x="497.18" y="657.3" width="15.8" height="26.5" fill="#DE9C2F"/>
<rect x="518.04" y="657.3" width="15.8" height="26.5" fill="#DE9C2F"/>
<rect x="538.9" y="657.3" width="15.8" height="26.5" fill="#DE9C2F"/>
<rect x="559.76" y="657.3" width="15.8" height="26.5" fill="#2AABE2"/>
<rect x="580.62" y="657.3" width="15.8" height="26.5" fill="#2AABE2"/>
<rect x="601.47" y="657.3" width="15.8" height="26.5" fill="#DE9C2F"/>
<rect x="622.33" y="657.3" width="15.8" height="26.5" fill="#DE9C2F"/>
<rect x="643.19" y="657.3" width="15.8" height="26.5" fill="#2AABE2"/>
<rect x="664.05" y="657.3" width="15.8" height="26.5" fill="#2AABE2"/>
<rect x="684.91" y="657.3" width="15.8" height="26.5" fill="#DE9C2F"/>
<rect x="705.76" y="657.3" width="15.8" height="26.5" fill="#2AABE2"/>
<rect x="726.62" y="657.3" width="15.8" height="26.5" fill="#DE9C2F"/>
<rect x="747.48" y="657.3" width="15.8" height="26.5" fill="#BF2033"/>
<rect x="768.34" y="657.3" width="15.8" height="26.5" fill="#DE9C2F"/>
<rect x="789.19" y="657.3" width="15.8" height="26.5" fill="#BF2033"/>
<rect x="810.05" y="657.3" width="15.8" height="26.5" fill="#DE9C2F"/>
<rect x="830.91" y="657.3" width="15.8" height="26.5" fill="#2AABE2"/>
<rect x="851.77" y="657.3" width="15.8" height="26.5" fill="#DE9C2F"/>
<rect x="872.63" y="657.3" width="15.8" height="26.5" fill="#BF2033"/>
<rect x="893.48" y="657.3" width="15.8" height="26.5" fill="#2AABE2"/>
<rect x="914.34" y="657.3" width="15.8" height="26.5" fill="#2AABE2"/>
<rect x="935.2" y="657.3" width="15.8" height="26.5" fill="#BF2033"/>
<text x="36.6" y="643" font-size="26.8" text-anchor="start" fill="#000">TIDE</text>
<text x="36.6" y="676.8" font-size="26.5" text-anchor="start" fill="#000">immune</text>
<line x1="1072.3" y1="37.8" x2="1072.3" y2="561.8" stroke="#000" stroke-width="2.5" stroke-linecap="butt"/>
<line x1="1061.3" y1="37.8" x2="1072.3" y2="37.8" stroke="#000" stroke-width="2.5" stroke-linecap="butt"/>
<text x="1059.5" y="44.1" font-size="27.4" text-anchor="end" fill="#000">2</text>
<line x1="1061.3" y1="168.8" x2="1072.3" y2="168.8" stroke="#000" stroke-width="2.5" stroke-linecap="butt"/>
<text x="1059.5" y="175.1" font-size="27.4" text-anchor="end" fill="#000">1</text>
<line x1="1061.3" y1="299.8" x2="1072.3" y2="299.8" stroke="#000" stroke-width="2.5" stroke-linecap="butt"/>
<text x="1059.5" y="306.1" font-size="27.4" text-anchor="end" fill="#000">0</text>
<line x1="1061.3" y1="430.8" x2="1072.3" y2="430.8" stroke="#000" stroke-width="2.5" stroke-linecap="butt"/>
<text x="1059.5" y="437.1" font-size="27.4" text-anchor="end" fill="#000">−1</text>
<line x1="1061.3" y1="561.8" x2="1072.3" y2="561.8" stroke="#000" stroke-width="2.5" stroke-linecap="butt"/>
<text x="1059.5" y="568.1" font-size="27.4" text-anchor="end" fill="#000">−2</text>
<line x1="1071.94" y1="253.6" x2="1976.8" y2="253.6" stroke="#000" stroke-width="2.5" stroke-dasharray="7.6 12.81" stroke-linecap="round"/>
<text x="1097.1" y="244.4" font-size="20.2" text-anchor="start" fill="#000">IPRES threshold</text>
<text transform="translate(1021,308.4) rotate(-90)" font-size="30.2" text-anchor="middle" fill="#000">IPRES Score</text>
<text x="988" y="30.4" font-size="40" text-anchor="start" font-weight="bold" fill="#000">b</text>
<circle cx="1124.9" cy="35.3" r="6.1" fill="#C61E38"/>
<circle cx="1124.9" cy="67.4" r="6.1" fill="#2AABE2"/>
<text x="1149.8" y="44.5" font-size="27.1" text-anchor="start" fill="#000">immune high cluster</text>
<text x="1149.8" y="76.7" font-size="27.1" text-anchor="start" fill="#000">immune low cluster</text>
<rect x="1107.5" y="489" width="17.2" height="2" fill="none" stroke="#000" stroke-width="2.5" stroke-linejoin="round"/>
<line x1="1106.25" y1="490" x2="1125.95" y2="490" stroke="#000" stroke-width="7.2" stroke-linecap="butt"/>
<circle cx="1116.1" cy="490" r="5.7" fill="#2AABE2"/>
<circle cx="1125.1" cy="490" r="5.7" fill="#2AABE2"/>
<rect x="1129.1" y="421" width="17.2" height="49.6" fill="none" stroke="#000" stroke-width="2.5" stroke-linejoin="round"/>
<line x1="1127.85" y1="445.5" x2="1147.55" y2="445.5" stroke="#000" stroke-width="7.2" stroke-linecap="butt"/>
<circle cx="1137.7" cy="421" r="5.7" fill="#2AABE2"/>
<circle cx="1137.7" cy="470" r="5.7" fill="#2AABE2"/>
<line x1="1159.3" y1="394" x2="1159.3" y2="392.7" stroke="#000" stroke-width="2.5" stroke-dasharray="7.6 12.6" stroke-linecap="round"/>
<rect x="1150.7" y="383.6" width="17.2" height="9.1" fill="none" stroke="#000" stroke-width="2.5" stroke-linejoin="round"/>
<line x1="1149.45" y1="391.4" x2="1169.15" y2="391.4" stroke="#000" stroke-width="7.2" stroke-linecap="butt"/>
<circle cx="1154.3" cy="383.6" r="5.7" fill="#2AABE2"/>
<circle cx="1159.3" cy="394" r="5.7" fill="#2AABE2"/>
<circle cx="1167.3" cy="392" r="5.7" fill="#2AABE2"/>
<line x1="1180.9" y1="381.7" x2="1180.9" y2="434.5" stroke="#000" stroke-width="2.5" stroke-dasharray="7.6 12.6" stroke-linecap="round"/>
<line x1="1180.9" y1="479.6" x2="1180.9" y2="474.5" stroke="#000" stroke-width="2.5" stroke-dasharray="7.6 12.6" stroke-linecap="round"/>
<rect x="1172.3" y="434.5" width="17.2" height="40" fill="none" stroke="#000" stroke-width="2.5" stroke-linejoin="round"/>
<line x1="1171.05" y1="461" x2="1190.75" y2="461" stroke="#000" stroke-width="7.2" stroke-linecap="butt"/>
<circle cx="1180.9" cy="381.7" r="5.7" fill="#2AABE2"/>
<circle cx="1180.9" cy="434.5" r="5.7" fill="#2AABE2"/>
<circle cx="1180.9" cy="460.3" r="5.7" fill="#2AABE2"/>
<circle cx="1188.9" cy="473.8" r="5.7" fill="#2AABE2"/>
<circle cx="1180.9" cy="479.6" r="5.7" fill="#2AABE2"/>
<line x1="1202.5" y1="358.5" x2="1202.5" y2="374.6" stroke="#000" stroke-width="2.5" stroke-dasharray="7.6 12.6" stroke-linecap="round"/>
<line x1="1202.5" y1="431.3" x2="1202.5" y2="419.7" stroke="#000" stroke-width="2.5" stroke-dasharray="7.6 12.6" stroke-linecap="round"/>
<rect x="1193.9" y="374.6" width="17.2" height="45.1" fill="none" stroke="#000" stroke-width="2.5" stroke-linejoin="round"/>
<line x1="1192.65" y1="399.1" x2="1212.35" y2="399.1" stroke="#000" stroke-width="7.2" stroke-linecap="butt"/>
<circle cx="1202.5" cy="358.5" r="5.7" fill="#C61E38"/>
<circle cx="1202.5" cy="390.7" r="5.7" fill="#C61E38"/>
<circle cx="1202.5" cy="406.8" r="5.7" fill="#C61E38"/>
<circle cx="1202.5" cy="431.3" r="5.7" fill="#C61E38"/>
<line x1="1224.1" y1="356" x2="1224.1" y2="357.9" stroke="#000" stroke-width="2.5" stroke-dasharray="7.6 12.6" stroke-linecap="round"/>
<line x1="1224.1" y1="422.3" x2="1224.1" y2="385" stroke="#000" stroke-width="2.5" stroke-dasharray="7.6 12.6" stroke-linecap="round"/>
<rect x="1215.5" y="357.9" width="17.2" height="27.1" fill="none" stroke="#000" stroke-width="2.5" stroke-linejoin="round"/>
<line x1="1214.25" y1="376.6" x2="1233.95" y2="376.6" stroke="#000" stroke-width="7.2" stroke-linecap="butt"/>
<circle cx="1229.1" cy="356" r="5.7" fill="#2AABE2"/>
<circle cx="1224.1" cy="358" r="5.7" fill="#2AABE2"/>
<circle cx="1224.1" cy="376" r="5.7" fill="#2AABE2"/>
<circle cx="1224.1" cy="385" r="5.7" fill="#2AABE2"/>
<circle cx="1224.1" cy="422.3" r="5.7" fill="#2AABE2"/>
<rect x="1237.1" y="354.7" width="17.2" height="39.9" fill="none" stroke="#000" stroke-width="2.5" stroke-linejoin="round"/>
<line x1="1235.85" y1="374.6" x2="1255.55" y2="374.6" stroke="#000" stroke-width="7.2" stroke-linecap="butt"/>
<circle cx="1245.7" cy="354.7" r="5.7" fill="#2AABE2"/>
<circle cx="1245.7" cy="394.6" r="5.7" fill="#2AABE2"/>
<rect x="1258.7" y="350.8" width="17.2" height="123.7" fill="none" stroke="#000" stroke-width="2.5" stroke-linejoin="round"/>
<line x1="1257.45" y1="412.6" x2="1277.15" y2="412.6" stroke="#000" stroke-width="7.2" stroke-linecap="butt"/>
<circle cx="1267.3" cy="350.8" r="5.7" fill="#C61E38"/>
<circle cx="1267.3" cy="474.5" r="5.7" fill="#2AABE2"/>
<rect x="1280.3" y="334.7" width="17.2" height="100.5" fill="none" stroke="#000" stroke-width="2.5" stroke-linejoin="round"/>
<line x1="1279.05" y1="385" x2="1298.75" y2="385" stroke="#000" stroke-width="7.2" stroke-linecap="butt"/>
<circle cx="1288.9" cy="334.7" r="5.7" fill="#2AABE2"/>
<circle cx="1288.9" cy="434.5" r="5.7" fill="#2AABE2"/>
<line x1="1310.5" y1="330.2" x2="1310.5" y2="356.6" stroke="#000" stroke-width="2.5" stroke-dasharray="7.6 12.6" stroke-linecap="round"/>
<line x1="1310.5" y1="433.2" x2="1310.5" y2="422.9" stroke="#000" stroke-width="2.5" stroke-dasharray="7.6 12.6" stroke-linecap="round"/>
<rect x="1301.9" y="356.6" width="17.2" height="66.3" fill="none" stroke="#000" stroke-width="2.5" stroke-linejoin="round"/>
<line x1="1300.65" y1="394.6" x2="1320.35" y2="394.6" stroke="#000" stroke-width="7.2" stroke-linecap="butt"/>
<circle cx="1310.5" cy="330.2" r="5.7" fill="#C61E38"/>
<circle cx="1310.5" cy="356.6" r="5.7" fill="#2AABE2"/>
<circle cx="1310.5" cy="377.2" r="5.7" fill="#C61E38"/>
<circle cx="1310.5" cy="411.3" r="5.7" fill="#2AABE2"/>
<circle cx="1315.5" cy="422.3" r="5.7" fill="#C61E38"/>
<circle cx="1310.5" cy="433.2" r="5.7" fill="#2AABE2"/>
<rect x="1323.5" y="320.3" width="17.2" height="56" fill="none" stroke="#000" stroke-width="2.5" stroke-linejoin="round"/>
<line x1="1322.25" y1="348" x2="1341.95" y2="348" stroke="#000" stroke-width="7.2" stroke-linecap="butt"/>
<circle cx="1332.1" cy="320.3" r="5.7" fill="#C61E38"/>
<circle cx="1332.1" cy="375.7" r="5.7" fill="#2AABE2"/>
<line x1="1353.7" y1="307.2" x2="1353.7" y2="321.7" stroke="#000" stroke-width="2.5" stroke-dasharray="7.6 12.6" stroke-linecap="round"/>
<line x1="1353.7" y1="399.2" x2="1353.7" y2="384.6" stroke="#000" stroke-width="2.5" stroke-dasharray="7.6 12.6" stroke-linecap="round"/>
<rect x="1345.1" y="321.7" width="17.2" height="62.9" fill="none" stroke="#000" stroke-width="2.5" stroke-linejoin="round"/>
<line x1="1343.85" y1="345.9" x2="1363.55" y2="345.9" stroke="#000" stroke-width="7.2" stroke-linecap="butt"/>
<circle cx="1353.7" cy="307.2" r="5.7" fill="#2AABE2"/>
<circle cx="1353.7" cy="321" r="5.7" fill="#2AABE2"/>
<circle cx="1353.7" cy="346" r="5.7" fill="#2AABE2"/>
<circle cx="1353.7" cy="384" r="5.7" fill="#2AABE2"/>
<circle cx="1353.7" cy="399.2" r="5.7" fill="#2AABE2"/>
<line x1="1375.3" y1="304.4" x2="1375.3" y2="313.4" stroke="#000" stroke-width="2.5" stroke-dasharray="7.6 12.6" stroke-linecap="round"/>
<line x1="1375.3" y1="405.4" x2="1375.3" y2="364.6" stroke="#000" stroke-width="2.5" stroke-dasharray="7.6 12.6" stroke-linecap="round"/>
<rect x="1366.7" y="313.4" width="17.2" height="51.2" fill="none" stroke="#000" stroke-width="2.5" stroke-linejoin="round"/>
<line x1="1365.45" y1="322.4" x2="1385.15" y2="322.4" stroke="#000" stroke-width="7.2" stroke-linecap="butt"/>
<circle cx="1375.3" cy="304.4" r="5.7" fill="#C61E38"/>
<circle cx="1375.3" cy="322.4" r="5.7" fill="#C61E38"/>
<circle cx="1375.3" cy="405.4" r="5.7" fill="#C61E38"/>
<rect x="1388.3" y="291.5" width="17.2" height="2" fill="none" stroke="#000" stroke-width="2.5" stroke-linejoin="round"/>
<line x1="1387.05" y1="292.7" x2="1406.75" y2="292.7" stroke="#000" stroke-width="7.2" stroke-linecap="butt"/>
<circle cx="1396.9" cy="294" r="5.7" fill="#2AABE2"/>
<circle cx="1404.9" cy="292" r="5.7" fill="#2AABE2"/>
<line x1="1418.5" y1="289.2" x2="1418.5" y2="366.7" stroke="#000" stroke-width="2.5" stroke-dasharray="7.6 12.6" stroke-linecap="round"/>
<line x1="1418.5" y1="449" x2="1418.5" y2="442" stroke="#000" stroke-width="2.5" stroke-dasharray="7.6 12.6" stroke-linecap="round"/>
<rect x="1409.9" y="366.7" width="17.2" height="75.3" fill="none" stroke="#000" stroke-width="2.5" stroke-linejoin="round"/>
<line x1="1408.65" y1="442" x2="1428.35" y2="442" stroke="#000" stroke-width="7.2" stroke-linecap="butt"/>
<circle cx="1418.5" cy="289.2" r="5.7" fill="#C61E38"/>
<circle cx="1410.5" cy="444.8" r="5.7" fill="#2AABE2"/>
<circle cx="1418.5" cy="449" r="5.7" fill="#2AABE2"/>
<circle cx="1426.5" cy="444.8" r="5.7" fill="#2AABE2"/>
<line x1="1440.1" y1="281.6" x2="1440.1" y2="301" stroke="#000" stroke-width="2.5" stroke-dasharray="7.6 12.6" stroke-linecap="round"/>
<line x1="1440.1" y1="332.8" x2="1440.1" y2="326.6" stroke="#000" stroke-width="2.5" stroke-dasharray="7.6 12.6" stroke-linecap="round"/>
<rect x="1431.5" y="301" width="17.2" height="25.6" fill="none" stroke="#000" stroke-width="2.5" stroke-linejoin="round"/>
<line x1="1430.25" y1="320.3" x2="1449.95" y2="320.3" stroke="#000" stroke-width="7.2" stroke-linecap="butt"/>
<circle cx="1440.1" cy="281.6" r="5.7" fill="#2AABE2"/>
<circle cx="1440.1" cy="319.7" r="5.7" fill="#C61E38"/>
<circle cx="1440.1" cy="332.8" r="5.7" fill="#C61E38"/>
<line x1="1461.7" y1="275.4" x2="1461.7" y2="296.2" stroke="#000" stroke-width="2.5" stroke-dasharray="7.6 12.6" stroke-linecap="round"/>
<line x1="1461.7" y1="409.5" x2="1461.7" y2="397.8" stroke="#000" stroke-width="2.5" stroke-dasharray="7.6 12.6" stroke-linecap="round"/>
<rect x="1453.1" y="296.2" width="17.2" height="101.6" fill="none" stroke="#000" stroke-width="2.5" stroke-linejoin="round"/>
<line x1="1451.85" y1="351.5" x2="1471.55" y2="351.5" stroke="#000" stroke-width="7.2" stroke-linecap="butt"/>
<circle cx="1461.7" cy="275.4" r="5.7" fill="#C61E38"/>
<circle cx="1461.7" cy="316.9" r="5.7" fill="#2AABE2"/>
<circle cx="1461.7" cy="385.3" r="5.7" fill="#2AABE2"/>
<circle cx="1461.7" cy="409.5" r="5.7" fill="#2AABE2"/>
<line x1="1483.3" y1="270.6" x2="1483.3" y2="290.6" stroke="#000" stroke-width="2.5" stroke-dasharray="7.6 12.6" stroke-linecap="round"/>
<line x1="1483.3" y1="339" x2="1483.3" y2="325.2" stroke="#000" stroke-width="2.5" stroke-dasharray="7.6 12.6" stroke-linecap="round"/>
<rect x="1474.7" y="290.6" width="17.2" height="34.6" fill="none" stroke="#000" stroke-width="2.5" stroke-linejoin="round"/>
<line x1="1473.45" y1="311.4" x2="1493.15" y2="311.4" stroke="#000" stroke-width="7.2" stroke-linecap="butt"/>
<circle cx="1483.3" cy="270.6" r="5.7" fill="#C61E38"/>
<circle cx="1483.3" cy="311.4" r="5.7" fill="#C61E38"/>
<circle cx="1483.3" cy="339" r="5.7" fill="#C61E38"/>
<line x1="1504.9" y1="267.8" x2="1504.9" y2="281" stroke="#000" stroke-width="2.5" stroke-dasharray="7.6 12.6" stroke-linecap="round"/>
<line x1="1504.9" y1="335.6" x2="1504.9" y2="315.5" stroke="#000" stroke-width="2.5" stroke-dasharray="7.6 12.6" stroke-linecap="round"/>
<rect x="1496.3" y="281" width="17.2" height="34.5" fill="none" stroke="#000" stroke-width="2.5" stroke-linejoin="round"/>
<line x1="1495.05" y1="294.8" x2="1514.75" y2="294.8" stroke="#000" stroke-width="7.2" stroke-linecap="butt"/>
<circle cx="1504.9" cy="267.8" r="5.7" fill="#C61E38"/>
<circle cx="1504.9" cy="294.8" r="5.7" fill="#C61E38"/>
<circle cx="1504.9" cy="335.6" r="5.7" fill="#2AABE2"/>
<line x1="1526.5" y1="259.5" x2="1526.5" y2="283.7" stroke="#000" stroke-width="2.5" stroke-dasharray="7.6 12.6" stroke-linecap="round"/>
<line x1="1526.5" y1="346.6" x2="1526.5" y2="343.9" stroke="#000" stroke-width="2.5" stroke-dasharray="7.6 12.6" stroke-linecap="round"/>
<rect x="1517.9" y="283.7" width="17.2" height="60.2" fill="none" stroke="#000" stroke-width="2.5" stroke-linejoin="round"/>
<line x1="1516.65" y1="323.8" x2="1536.35" y2="323.8" stroke="#000" stroke-width="7.2" stroke-linecap="butt"/>
<circle cx="1526.5" cy="259.5" r="5.7" fill="#C61E38"/>
<circle cx="1526.5" cy="307.9" r="5.7" fill="#C61E38"/>
<circle cx="1526.5" cy="346.6" r="5.7" fill="#C61E38"/>
<circle cx="1533.5" cy="340.4" r="5.7" fill="#C61E38"/>
<rect x="1539.5" y="253.5" width="17.2" height="128.6" fill="none" stroke="#000" stroke-width="2.5" stroke-linejoin="round"/>
<line x1="1538.25" y1="317.8" x2="1557.95" y2="317.8" stroke="#000" stroke-width="7.2" stroke-linecap="butt"/>
<circle cx="1548.1" cy="253.5" r="5.7" fill="#2AABE2"/>
<circle cx="1548.1" cy="381.3" r="5.7" fill="#2AABE2"/>
<line x1="1569.7" y1="244.9" x2="1569.7" y2="245.7" stroke="#000" stroke-width="2.5" stroke-dasharray="7.6 12.6" stroke-linecap="round"/>
<rect x="1561.1" y="245.7" width="17.2" height="156" fill="none" stroke="#000" stroke-width="2.5" stroke-linejoin="round"/>
<line x1="1559.85" y1="323.3" x2="1579.55" y2="323.3" stroke="#000" stroke-width="7.2" stroke-linecap="butt"/>
<circle cx="1569.7" cy="244.9" r="5.7" fill="#2AABE2"/>
<circle cx="1569.7" cy="400.9" r="5.7" fill="#2AABE2"/>
<line x1="1591.3" y1="244.9" x2="1591.3" y2="269.2" stroke="#000" stroke-width="2.5" stroke-dasharray="7.6 12.6" stroke-linecap="round"/>
<line x1="1591.3" y1="343.7" x2="1591.3" y2="339" stroke="#000" stroke-width="2.5" stroke-dasharray="7.6 12.6" stroke-linecap="round"/>
<rect x="1582.7" y="269.2" width="17.2" height="69.8" fill="none" stroke="#000" stroke-width="2.5" stroke-linejoin="round"/>
<line x1="1581.45" y1="313.1" x2="1601.15" y2="313.1" stroke="#000" stroke-width="7.2" stroke-linecap="butt"/>
<circle cx="1591.3" cy="244.9" r="5.7" fill="#2AABE2"/>
<circle cx="1591.3" cy="291.9" r="5.7" fill="#2AABE2"/>
<circle cx="1597.3" cy="333.5" r="5.7" fill="#2AABE2"/>
<circle cx="1591.3" cy="343.7" r="5.7" fill="#2AABE2"/>
<line x1="1612.9" y1="239.4" x2="1612.9" y2="257.4" stroke="#000" stroke-width="2.5" stroke-dasharray="7.6 12.6" stroke-linecap="round"/>
<line x1="1612.9" y1="378.2" x2="1612.9" y2="344.4" stroke="#000" stroke-width="2.5" stroke-dasharray="7.6 12.6" stroke-linecap="round"/>
<rect x="1604.3" y="257.4" width="17.2" height="87" fill="none" stroke="#000" stroke-width="2.5" stroke-linejoin="round"/>
<line x1="1603.05" y1="342.1" x2="1622.75" y2="342.1" stroke="#000" stroke-width="7.2" stroke-linecap="butt"/>
<circle cx="1612.9" cy="239.4" r="5.7" fill="#C61E38"/>
<circle cx="1612.9" cy="257.4" r="5.7" fill="#C61E38"/>
<circle cx="1619.9" cy="340.5" r="5.7" fill="#C61E38"/>
<circle cx="1612.9" cy="344.4" r="5.7" fill="#C61E38"/>
<circle cx="1612.9" cy="378.2" r="5.7" fill="#C61E38"/>
<line x1="1634.5" y1="226" x2="1634.5" y2="240.2" stroke="#000" stroke-width="2.5" stroke-dasharray="7.6 12.6" stroke-linecap="round"/>
<line x1="1634.5" y1="313.1" x2="1634.5" y2="283.3" stroke="#000" stroke-width="2.5" stroke-dasharray="7.6 12.6" stroke-linecap="round"/>
<rect x="1625.9" y="240.2" width="17.2" height="43.1" fill="none" stroke="#000" stroke-width="2.5" stroke-linejoin="round"/>
<line x1="1624.65" y1="253.5" x2="1644.35" y2="253.5" stroke="#000" stroke-width="7.2" stroke-linecap="butt"/>
<circle cx="1634.5" cy="226" r="5.7" fill="#C61E38"/>
<circle cx="1634.5" cy="253.5" r="5.7" fill="#2AABE2"/>
<circle cx="1634.5" cy="313.1" r="5.7" fill="#C61E38"/>
<line x1="1656.1" y1="224.5" x2="1656.1" y2="232.3" stroke="#000" stroke-width="2.5" stroke-dasharray="7.6 12.6" stroke-linecap="round"/>
<line x1="1656.1" y1="355.4" x2="1656.1" y2="298.2" stroke="#000" stroke-width="2.5" stroke-dasharray="7.6 12.6" stroke-linecap="round"/>
<rect x="1647.5" y="232.3" width="17.2" height="65.9" fill="none" stroke="#000" stroke-width="2.5" stroke-linejoin="round"/>
<line x1="1646.25" y1="239.4" x2="1665.95" y2="239.4" stroke="#000" stroke-width="7.2" stroke-linecap="butt"/>
<circle cx="1656.1" cy="224.5" r="5.7" fill="#C61E38"/>
<circle cx="1656.1" cy="241" r="5.7" fill="#C61E38"/>
<circle cx="1665.1" cy="240" r="5.7" fill="#C61E38"/>
<circle cx="1656.1" cy="355.4" r="5.7" fill="#2AABE2"/>
<rect x="1669.1" y="221.4" width="17.2" height="250.1" fill="none" stroke="#000" stroke-width="2.5" stroke-linejoin="round"/>
<line x1="1667.85" y1="346.8" x2="1687.55" y2="346.8" stroke="#000" stroke-width="7.2" stroke-linecap="butt"/>
<circle cx="1677.7" cy="221.4" r="5.7" fill="#2AABE2"/>
<circle cx="1677.7" cy="471.5" r="5.7" fill="#2AABE2"/>
<rect x="1690.7" y="212" width="17.2" height="45.4" fill="none" stroke="#000" stroke-width="2.5" stroke-linejoin="round"/>
<line x1="1689.45" y1="234.7" x2="1709.15" y2="234.7" stroke="#000" stroke-width="7.2" stroke-linecap="butt"/>
<circle cx="1699.3" cy="212" r="5.7" fill="#C61E38"/>
<circle cx="1699.3" cy="257.4" r="5.7" fill="#C61E38"/>
<rect x="1712.3" y="193.1" width="17.2" height="62.7" fill="none" stroke="#000" stroke-width="2.5" stroke-linejoin="round"/>
<line x1="1711.05" y1="224.5" x2="1730.75" y2="224.5" stroke="#000" stroke-width="7.2" stroke-linecap="butt"/>
<circle cx="1720.9" cy="193.1" r="5.7" fill="#2AABE2"/>
<circle cx="1720.9" cy="255.8" r="5.7" fill="#2AABE2"/>
<rect x="1733.9" y="178.2" width="17.2" height="81.6" fill="none" stroke="#000" stroke-width="2.5" stroke-linejoin="round"/>
<line x1="1732.65" y1="219" x2="1752.35" y2="219" stroke="#000" stroke-width="7.2" stroke-linecap="butt"/>
<circle cx="1742.5" cy="178.2" r="5.7" fill="#C61E38"/>
<circle cx="1742.5" cy="259.8" r="5.7" fill="#C61E38"/>
<line x1="1764.1" y1="166.7" x2="1764.1" y2="209.6" stroke="#000" stroke-width="2.5" stroke-dasharray="7.6 12.6" stroke-linecap="round"/>
<line x1="1764.1" y1="327" x2="1764.1" y2="326" stroke="#000" stroke-width="2.5" stroke-dasharray="7.6 12.6" stroke-linecap="round"/>
<rect x="1755.5" y="209.6" width="17.2" height="116.4" fill="none" stroke="#000" stroke-width="2.5" stroke-linejoin="round"/>
<line x1="1754.25" y1="288.4" x2="1773.95" y2="288.4" stroke="#000" stroke-width="7.2" stroke-linecap="butt"/>
<circle cx="1764.1" cy="166.7" r="5.7" fill="#2AABE2"/>
<circle cx="1764.1" cy="252.5" r="5.7" fill="#2AABE2"/>
<circle cx="1764.1" cy="327" r="5.7" fill="#2AABE2"/>
<circle cx="1773.1" cy="325.2" r="5.7" fill="#2AABE2"/>
<rect x="1777.1" y="164.9" width="17.2" height="64" fill="none" stroke="#000" stroke-width="2.5" stroke-linejoin="round"/>
<line x1="1775.85" y1="196.5" x2="1795.55" y2="196.5" stroke="#000" stroke-width="7.2" stroke-linecap="butt"/>
<circle cx="1785.7" cy="164.9" r="5.7" fill="#C61E38"/>
<circle cx="1785.7" cy="228.9" r="5.7" fill="#C61E38"/>
<line x1="1807.3" y1="148.3" x2="1807.3" y2="205.2" stroke="#000" stroke-width="2.5" stroke-dasharray="7.6 12.6" stroke-linecap="round"/>
<line x1="1807.3" y1="263" x2="1807.3" y2="260.4" stroke="#000" stroke-width="2.5" stroke-dasharray="7.6 12.6" stroke-linecap="round"/>
<rect x="1798.7" y="205.2" width="17.2" height="55.2" fill="none" stroke="#000" stroke-width="2.5" stroke-linejoin="round"/>
<line x1="1797.45" y1="250.8" x2="1817.15" y2="250.8" stroke="#000" stroke-width="7.2" stroke-linecap="butt"/>
<circle cx="1807.3" cy="148.3" r="5.7" fill="#C61E38"/>
<circle cx="1807.3" cy="205.2" r="5.7" fill="#2AABE2"/>
<circle cx="1807.3" cy="249" r="5.7" fill="#2AABE2"/>
<circle cx="1807.3" cy="263" r="5.7" fill="#C61E38"/>
<circle cx="1816.3" cy="259.5" r="5.7" fill="#2AABE2"/>
<line x1="1828.9" y1="145.7" x2="1828.9" y2="200.8" stroke="#000" stroke-width="2.5" stroke-dasharray="7.6 12.6" stroke-linecap="round"/>
<line x1="1828.9" y1="435.5" x2="1828.9" y2="372.5" stroke="#000" stroke-width="2.5" stroke-dasharray="7.6 12.6" stroke-linecap="round"/>
<rect x="1820.3" y="200.8" width="17.2" height="171.7" fill="none" stroke="#000" stroke-width="2.5" stroke-linejoin="round"/>
<line x1="1819.05" y1="282.3" x2="1838.75" y2="282.3" stroke="#000" stroke-width="7.2" stroke-linecap="butt"/>
<circle cx="1828.9" cy="145.7" r="5.7" fill="#2AABE2"/>
<circle cx="1828.9" cy="256" r="5.7" fill="#2AABE2"/>
<circle cx="1828.9" cy="308.5" r="5.7" fill="#C61E38"/>
<circle cx="1828.9" cy="435.5" r="5.7" fill="#2AABE2"/>
<line x1="1850.5" y1="144.8" x2="1850.5" y2="162.3" stroke="#000" stroke-width="2.5" stroke-dasharray="7.6 12.6" stroke-linecap="round"/>
<rect x="1841.9" y="162.3" width="17.2" height="18.4" fill="none" stroke="#000" stroke-width="2.5" stroke-linejoin="round"/>
<line x1="1840.65" y1="179.8" x2="1860.35" y2="179.8" stroke="#000" stroke-width="7.2" stroke-linecap="butt"/>
<circle cx="1850.5" cy="144.8" r="5.7" fill="#C61E38"/>
<circle cx="1850.5" cy="180.7" r="5.7" fill="#C61E38"/>
<circle cx="1859.5" cy="178" r="5.7" fill="#C61E38"/>
<circle cx="1844.5" cy="180" r="5.7" fill="#C61E38"/>
<line x1="1872.1" y1="132.5" x2="1872.1" y2="134.3" stroke="#000" stroke-width="2.5" stroke-dasharray="7.6 12.6" stroke-linecap="round"/>
<line x1="1872.1" y1="177.2" x2="1872.1" y2="156.2" stroke="#000" stroke-width="2.5" stroke-dasharray="7.6 12.6" stroke-linecap="round"/>
<rect x="1863.5" y="134.3" width="17.2" height="21.9" fill="none" stroke="#000" stroke-width="2.5" stroke-linejoin="round"/>
<line x1="1862.25" y1="136" x2="1881.95" y2="136" stroke="#000" stroke-width="7.2" stroke-linecap="butt"/>
<circle cx="1872.1" cy="136" r="5.7" fill="#C61E38"/>
<circle cx="1881.1" cy="132.5" r="5.7" fill="#C61E38"/>
<circle cx="1872.1" cy="177.2" r="5.7" fill="#C61E38"/>
<line x1="1893.7" y1="126.4" x2="1893.7" y2="144.8" stroke="#000" stroke-width="2.5" stroke-dasharray="7.6 12.6" stroke-linecap="round"/>
<line x1="1893.7" y1="234.1" x2="1893.7" y2="222.7" stroke="#000" stroke-width="2.5" stroke-dasharray="7.6 12.6" stroke-linecap="round"/>
<rect x="1885.1" y="144.8" width="17.2" height="77.9" fill="none" stroke="#000" stroke-width="2.5" stroke-linejoin="round"/>
<line x1="1883.85" y1="186.8" x2="1903.55" y2="186.8" stroke="#000" stroke-width="7.2" stroke-linecap="butt"/>
<circle cx="1893.7" cy="126.4" r="5.7" fill="#C61E38"/>
<circle cx="1893.7" cy="162.3" r="5.7" fill="#C61E38"/>
<circle cx="1893.7" cy="211.3" r="5.7" fill="#C61E38"/>
<circle cx="1893.7" cy="234.1" r="5.7" fill="#C61E38"/>
<line x1="1915.3" y1="108.9" x2="1915.3" y2="146.5" stroke="#000" stroke-width="2.5" stroke-dasharray="7.6 12.6" stroke-linecap="round"/>
<line x1="1915.3" y1="265.6" x2="1915.3" y2="230.6" stroke="#000" stroke-width="2.5" stroke-dasharray="7.6 12.6" stroke-linecap="round"/>
<rect x="1906.7" y="146.5" width="17.2" height="84.1" fill="none" stroke="#000" stroke-width="2.5" stroke-linejoin="round"/>
<line x1="1905.45" y1="209.6" x2="1925.15" y2="209.6" stroke="#000" stroke-width="7.2" stroke-linecap="butt"/>
<circle cx="1915.3" cy="108.9" r="5.7" fill="#C61E38"/>
<circle cx="1915.3" cy="146.5" r="5.7" fill="#C61E38"/>
<circle cx="1915.3" cy="192.1" r="5.7" fill="#C61E38"/>
<circle cx="1915.3" cy="230.6" r="5.7" fill="#C61E38"/>
<circle cx="1924.3" cy="226.2" r="5.7" fill="#C61E38"/>
<circle cx="1915.3" cy="265.6" r="5.7" fill="#2AABE2"/>
<rect x="1928.3" y="108" width="17.2" height="13.2" fill="none" stroke="#000" stroke-width="2.5" stroke-linejoin="round"/>
<line x1="1927.05" y1="115" x2="1946.75" y2="115" stroke="#000" stroke-width="7.2" stroke-linecap="butt"/>
<circle cx="1936.9" cy="108" r="5.7" fill="#C61E38"/>
<circle cx="1936.9" cy="121.2" r="5.7" fill="#C61E38"/>
<line x1="1114.9" y1="581.8" x2="1938.1" y2="581.8" stroke="#000" stroke-width="2.5" stroke-linecap="butt"/>
<line x1="1116.1" y1="581.8" x2="1116.1" y2="596.2" stroke="#000" stroke-width="2.5" stroke-linecap="butt"/>
<line x1="1137.7" y1="581.8" x2="1137.7" y2="596.2" stroke="#000" stroke-width="2.5" stroke-linecap="butt"/>
<line x1="1159.3" y1="581.8" x2="1159.3" y2="596.2" stroke="#000" stroke-width="2.5" stroke-linecap="butt"/>
<line x1="1180.9" y1="581.8" x2="1180.9" y2="596.2" stroke="#000" stroke-width="2.5" stroke-linecap="butt"/>
<line x1="1202.5" y1="581.8" x2="1202.5" y2="596.2" stroke="#000" stroke-width="2.5" stroke-linecap="butt"/>
<line x1="1224.1" y1="581.8" x2="1224.1" y2="596.2" stroke="#000" stroke-width="2.5" stroke-linecap="butt"/>
<line x1="1245.7" y1="581.8" x2="1245.7" y2="596.2" stroke="#000" stroke-width="2.5" stroke-linecap="butt"/>
<line x1="1267.3" y1="581.8" x2="1267.3" y2="596.2" stroke="#000" stroke-width="2.5" stroke-linecap="butt"/>
<line x1="1288.9" y1="581.8" x2="1288.9" y2="596.2" stroke="#000" stroke-width="2.5" stroke-linecap="butt"/>
<line x1="1310.5" y1="581.8" x2="1310.5" y2="596.2" stroke="#000" stroke-width="2.5" stroke-linecap="butt"/>
<line x1="1332.1" y1="581.8" x2="1332.1" y2="596.2" stroke="#000" stroke-width="2.5" stroke-linecap="butt"/>
<line x1="1353.7" y1="581.8" x2="1353.7" y2="596.2" stroke="#000" stroke-width="2.5" stroke-linecap="butt"/>
<line x1="1375.3" y1="581.8" x2="1375.3" y2="596.2" stroke="#000" stroke-width="2.5" stroke-linecap="butt"/>
<line x1="1396.9" y1="581.8" x2="1396.9" y2="596.2" stroke="#000" stroke-width="2.5" stroke-linecap="butt"/>
<line x1="1418.5" y1="581.8" x2="1418.5" y2="596.2" stroke="#000" stroke-width="2.5" stroke-linecap="butt"/>
<line x1="1440.1" y1="581.8" x2="1440.1" y2="596.2" stroke="#000" stroke-width="2.5" stroke-linecap="butt"/>
<line x1="1461.7" y1="581.8" x2="1461.7" y2="596.2" stroke="#000" stroke-width="2.5" stroke-linecap="butt"/>
<line x1="1483.3" y1="581.8" x2="1483.3" y2="596.2" stroke="#000" stroke-width="2.5" stroke-linecap="butt"/>
<line x1="1504.9" y1="581.8" x2="1504.9" y2="596.2" stroke="#000" stroke-width="2.5" stroke-linecap="butt"/>
<line x1="1526.5" y1="581.8" x2="1526.5" y2="596.2" stroke="#000" stroke-width="2.5" stroke-linecap="butt"/>
<line x1="1548.1" y1="581.8" x2="1548.1" y2="596.2" stroke="#000" stroke-width="2.5" stroke-linecap="butt"/>
<line x1="1569.7" y1="581.8" x2="1569.7" y2="596.2" stroke="#000" stroke-width="2.5" stroke-linecap="butt"/>
<line x1="1591.3" y1="581.8" x2="1591.3" y2="596.2" stroke="#000" stroke-width="2.5" stroke-linecap="butt"/>
<line x1="1612.9" y1="581.8" x2="1612.9" y2="596.2" stroke="#000" stroke-width="2.5" stroke-linecap="butt"/>
<line x1="1634.5" y1="581.8" x2="1634.5" y2="596.2" stroke="#000" stroke-width="2.5" stroke-linecap="butt"/>
<line x1="1656.1" y1="581.8" x2="1656.1" y2="596.2" stroke="#000" stroke-width="2.5" stroke-linecap="butt"/>
<line x1="1677.7" y1="581.8" x2="1677.7" y2="596.2" stroke="#000" stroke-width="2.5" stroke-linecap="butt"/>
<line x1="1699.3" y1="581.8" x2="1699.3" y2="596.2" stroke="#000" stroke-width="2.5" stroke-linecap="butt"/>
<line x1="1720.9" y1="581.8" x2="1720.9" y2="596.2" stroke="#000" stroke-width="2.5" stroke-linecap="butt"/>
<line x1="1742.5" y1="581.8" x2="1742.5" y2="596.2" stroke="#000" stroke-width="2.5" stroke-linecap="butt"/>
<line x1="1764.1" y1="581.8" x2="1764.1" y2="596.2" stroke="#000" stroke-width="2.5" stroke-linecap="butt"/>
<line x1="1785.7" y1="581.8" x2="1785.7" y2="596.2" stroke="#000" stroke-width="2.5" stroke-linecap="butt"/>
<line x1="1807.3" y1="581.8" x2="1807.3" y2="596.2" stroke="#000" stroke-width="2.5" stroke-linecap="butt"/>
<line x1="1828.9" y1="581.8" x2="1828.9" y2="596.2" stroke="#000" stroke-width="2.5" stroke-linecap="butt"/>
<line x1="1850.5" y1="581.8" x2="1850.5" y2="596.2" stroke="#000" stroke-width="2.5" stroke-linecap="butt"/>
<line x1="1872.1" y1="581.8" x2="1872.1" y2="596.2" stroke="#000" stroke-width="2.5" stroke-linecap="butt"/>
<line x1="1893.7" y1="581.8" x2="1893.7" y2="596.2" stroke="#000" stroke-width="2.5" stroke-linecap="butt"/>
<line x1="1915.3" y1="581.8" x2="1915.3" y2="596.2" stroke="#000" stroke-width="2.5" stroke-linecap="butt"/>
<line x1="1936.9" y1="581.8" x2="1936.9" y2="596.2" stroke="#000" stroke-width="2.5" stroke-linecap="butt"/>
<rect x="1106.1" y="616.6" width="16.4" height="30.8" fill="#DDF0F9"/>
<rect x="1127.8" y="616.6" width="16.4" height="30.8" fill="#DDF0F9"/>
<rect x="1149.5" y="616.6" width="16.4" height="30.8" fill="#DDF0F9"/>
<rect x="1171.2" y="616.6" width="16.4" height="30.8" fill="#DDF0F9"/>
<rect x="1192.9" y="616.6" width="16.4" height="30.8" fill="#DDF0F9"/>
<rect x="1214.6" y="616.6" width="16.4" height="30.8" fill="#DDF0F9"/>
<rect x="1236.3" y="616.6" width="16.4" height="30.8" fill="#DDF0F9"/>
<rect x="1258" y="616.6" width="16.4" height="30.8" fill="#DDF0F9"/>
<rect x="1279.7" y="616.6" width="16.4" height="30.8" fill="#DDF0F9"/>
<rect x="1301.4" y="616.6" width="16.4" height="30.8" fill="#DDF0F9"/>
<rect x="1323.1" y="616.6" width="16.4" height="30.8" fill="#DDF0F9"/>
<rect x="1344.8" y="616.6" width="16.4" height="30.8" fill="#DDF0F9"/>
<rect x="1366.5" y="616.6" width="16.4" height="30.8" fill="#DDF0F9"/>
<rect x="1388.2" y="616.6" width="16.4" height="30.8" fill="#DDF0F9"/>
<rect x="1409.9" y="616.6" width="16.4" height="30.8" fill="#DDF0F9"/>
<rect x="1431.6" y="616.6" width="16.4" height="30.8" fill="#DDF0F9"/>
<rect x="1453.3" y="616.6" width="16.4" height="30.8" fill="#DDF0F9"/>
<rect x="1475" y="616.6" width="16.4" height="30.8" fill="#DDF0F9"/>
<rect x="1496.7" y="616.6" width="16.4" height="30.8" fill="#DDF0F9"/>
<rect x="1518.4" y="616.6" width="16.4" height="30.8" fill="#DDF0F9"/>
<rect x="1540.1" y="616.6" width="16.4" height="30.8" fill="#DDF0F9"/>
<rect x="1561.8" y="616.6" width="16.4" height="30.8" fill="#DE9C2F"/>
<rect x="1583.5" y="616.6" width="16.4" height="30.8" fill="#DE9C2F"/>
<rect x="1605.2" y="616.6" width="16.4" height="30.8" fill="#DE9C2F"/>
<rect x="1626.9" y="616.6" width="16.4" height="30.8" fill="#DE9C2F"/>
<rect x="1648.6" y="616.6" width="16.4" height="30.8" fill="#DE9C2F"/>
<rect x="1670.3" y="616.6" width="16.4" height="30.8" fill="#DE9C2F"/>
<rect x="1692" y="616.6" width="16.4" height="30.8" fill="#DE9C2F"/>
<rect x="1713.7" y="616.6" width="16.4" height="30.8" fill="#DE9C2F"/>
<rect x="1735.4" y="616.6" width="16.4" height="30.8" fill="#DE9C2F"/>
<rect x="1757.1" y="616.6" width="16.4" height="30.8" fill="#DE9C2F"/>
<rect x="1778.8" y="616.6" width="16.4" height="30.8" fill="#4575B5"/>
<rect x="1800.5" y="616.6" width="16.4" height="30.8" fill="#DE9C2F"/>
<rect x="1822.2" y="616.6" width="16.4" height="30.8" fill="#DE9C2F"/>
<rect x="1843.9" y="616.6" width="16.4" height="30.8" fill="#4575B5"/>
<rect x="1865.6" y="616.6" width="16.4" height="30.8" fill="#4575B5"/>
<rect x="1887.3" y="616.6" width="16.4" height="30.8" fill="#4575B5"/>
<rect x="1909" y="616.6" width="16.4" height="30.8" fill="#DE9C2F"/>
<rect x="1930.7" y="616.6" width="16.4" height="30.8" fill="#4575B5"/>
<rect x="1106.1" y="654.7" width="16.4" height="29.3" fill="#2AABE2"/>
<rect x="1127.8" y="654.7" width="16.4" height="29.3" fill="#DE9C2F"/>
<rect x="1149.5" y="654.7" width="16.4" height="29.3" fill="#2AABE2"/>
<rect x="1171.2" y="654.7" width="16.4" height="29.3" fill="#2AABE2"/>
<rect x="1192.9" y="654.7" width="16.4" height="29.3" fill="#BF2033"/>
<rect x="1214.6" y="654.7" width="16.4" height="29.3" fill="#2AABE2"/>
<rect x="1236.3" y="654.7" width="16.4" height="29.3" fill="#2AABE2"/>
<rect x="1258" y="654.7" width="16.4" height="29.3" fill="#DE9C2F"/>
<rect x="1279.7" y="654.7" width="16.4" height="29.3" fill="#DE9C2F"/>
<rect x="1301.4" y="654.7" width="16.4" height="29.3" fill="#DE9C2F"/>
<rect x="1323.1" y="654.7" width="16.4" height="29.3" fill="#DE9C2F"/>
<rect x="1344.8" y="654.7" width="16.4" height="29.3" fill="#2AABE2"/>
<rect x="1366.5" y="654.7" width="16.4" height="29.3" fill="#BF2033"/>
<rect x="1388.2" y="654.7" width="16.4" height="29.3" fill="#2AABE2"/>
<rect x="1409.9" y="654.7" width="16.4" height="29.3" fill="#DE9C2F"/>
<rect x="1431.6" y="654.7" width="16.4" height="29.3" fill="#DE9C2F"/>
<rect x="1453.3" y="654.7" width="16.4" height="29.3" fill="#DE9C2F"/>
<rect x="1475" y="654.7" width="16.4" height="29.3" fill="#BF2033"/>
<rect x="1496.7" y="654.7" width="16.4" height="29.3" fill="#DE9C2F"/>
<rect x="1518.4" y="654.7" width="16.4" height="29.3" fill="#BF2033"/>
<rect x="1540.1" y="654.7" width="16.4" height="29.3" fill="#2AABE2"/>
<rect x="1561.8" y="654.7" width="16.4" height="29.3" fill="#2AABE2"/>
<rect x="1583.5" y="654.7" width="16.4" height="29.3" fill="#2AABE2"/>
<rect x="1605.2" y="654.7" width="16.4" height="29.3" fill="#BF2033"/>
<rect x="1626.9" y="654.7" width="16.4" height="29.3" fill="#DE9C2F"/>
<rect x="1648.6" y="654.7" width="16.4" height="29.3" fill="#DE9C2F"/>
<rect x="1670.3" y="654.7" width="16.4" height="29.3" fill="#2AABE2"/>
<rect x="1692" y="654.7" width="16.4" height="29.3" fill="#BF2033"/>
<rect x="1713.7" y="654.7" width="16.4" height="29.3" fill="#2AABE2"/>
<rect x="1735.4" y="654.7" width="16.4" height="29.3" fill="#BF2033"/>
<rect x="1757.1" y="654.7" width="16.4" height="29.3" fill="#2AABE2"/>
<rect x="1778.8" y="654.7" width="16.4" height="29.3" fill="#BF2033"/>
<rect x="1800.5" y="654.7" width="16.4" height="29.3" fill="#DE9C2F"/>
<rect x="1822.2" y="654.7" width="16.4" height="29.3" fill="#DE9C2F"/>
<rect x="1843.9" y="654.7" width="16.4" height="29.3" fill="#BF2033"/>
<rect x="1865.6" y="654.7" width="16.4" height="29.3" fill="#BF2033"/>
<rect x="1887.3" y="654.7" width="16.4" height="29.3" fill="#BF2033"/>
<rect x="1909" y="654.7" width="16.4" height="29.3" fill="#DE9C2F"/>
<rect x="1930.7" y="654.7" width="16.4" height="29.3" fill="#DE9C2F"/>
<text x="994.6" y="640.5" font-size="26.4" text-anchor="start" fill="#000">IPRES</text>
<text x="996" y="675.5" font-size="26.4" text-anchor="start" fill="#000">immune</text>
<line x1="109.8" y1="754.8" x2="109.8" y2="1327.8" stroke="#000" stroke-width="2.4" stroke-linecap="butt"/>
<line x1="91.8" y1="1327.8" x2="109.8" y2="1327.8" stroke="#000" stroke-width="2.4" stroke-linecap="butt"/>
<text x="80" y="1336" font-size="27.3" text-anchor="end" fill="#000">4</text>
<line x1="91.8" y1="1232.3" x2="109.8" y2="1232.3" stroke="#000" stroke-width="2.4" stroke-linecap="butt"/>
<text x="80" y="1240.5" font-size="27.3" text-anchor="end" fill="#000">5</text>
<line x1="91.8" y1="1136.8" x2="109.8" y2="1136.8" stroke="#000" stroke-width="2.4" stroke-linecap="butt"/>
<text x="80" y="1145" font-size="27.3" text-anchor="end" fill="#000">6</text>
<line x1="91.8" y1="1041.3" x2="109.8" y2="1041.3" stroke="#000" stroke-width="2.4" stroke-linecap="butt"/>
<text x="80" y="1049.5" font-size="27.3" text-anchor="end" fill="#000">7</text>
<line x1="91.8" y1="945.8" x2="109.8" y2="945.8" stroke="#000" stroke-width="2.4" stroke-linecap="butt"/>
<text x="80" y="954" font-size="27.3" text-anchor="end" fill="#000">8</text>
<line x1="91.8" y1="850.3" x2="109.8" y2="850.3" stroke="#000" stroke-width="2.4" stroke-linecap="butt"/>
<text x="80" y="858.5" font-size="27.3" text-anchor="end" fill="#000">9</text>
<line x1="91.8" y1="754.8" x2="109.8" y2="754.8" stroke="#000" stroke-width="2.4" stroke-linecap="butt"/>
<text x="80" y="763" font-size="27.3" text-anchor="end" fill="#000">10</text>
<text transform="translate(43.3,1050.7) rotate(-90)" font-size="29.6" text-anchor="middle" fill="#000">IFNg signature, expanded</text>
<text x="0.6" y="732" font-size="40" text-anchor="start" font-weight="bold" fill="#000">c</text>
<circle cx="133.8" cy="760.9" r="6.1" fill="#C61E38"/>
<circle cx="133.8" cy="793" r="6.1" fill="#2AABE2"/>
<text x="158.1" y="770.3" font-size="27.1" text-anchor="start" fill="#000">immune high cluster</text>
<text x="158.1" y="802.5" font-size="27.1" text-anchor="start" fill="#000">immune low cluster</text>
<line x1="158.1" y1="1277" x2="158.1" y2="1265.4" stroke="#000" stroke-width="2.4" stroke-dasharray="7.6 12.6" stroke-linecap="round"/>
<rect x="145.2" y="1239" width="25.8" height="26.4" fill="none" stroke="#000" stroke-width="2.4" stroke-linejoin="round"/>
<line x1="144" y1="1246.4" x2="172.2" y2="1246.4" stroke="#000" stroke-width="7" stroke-linecap="butt"/>
<ellipse cx="158.1" cy="1239" rx="7.4" ry="6.5" fill="#2AABE2"/>
<ellipse cx="158.1" cy="1253.7" rx="7.4" ry="6.5" fill="#2AABE2"/>
<ellipse cx="158.1" cy="1277" rx="7.4" ry="6.5" fill="#2AABE2"/>
<ellipse cx="174.7" cy="1238.5" rx="7.4" ry="6.5" fill="#2AABE2"/>
<rect x="175.98" y="1170.9" width="25.8" height="54.4" fill="none" stroke="#000" stroke-width="2.4" stroke-linejoin="round"/>
<line x1="174.78" y1="1198" x2="202.98" y2="1198" stroke="#000" stroke-width="7" stroke-linecap="butt"/>
<ellipse cx="188.88" cy="1170.9" rx="7.4" ry="6.5" fill="#2AABE2"/>
<ellipse cx="188.88" cy="1225.3" rx="7.4" ry="6.5" fill="#2AABE2"/>
<rect x="206.76" y="1211.3" width="25.8" height="4.3" fill="none" stroke="#000" stroke-width="2.4" stroke-linejoin="round"/>
<line x1="205.56" y1="1213.6" x2="233.76" y2="1213.6" stroke="#000" stroke-width="7" stroke-linecap="butt"/>
<ellipse cx="219.66" cy="1215.6" rx="7.4" ry="6.5" fill="#2AABE2"/>
<ellipse cx="234.26" cy="1211.3" rx="7.4" ry="6.5" fill="#2AABE2"/>
<rect x="237.54" y="1140.4" width="25.8" height="2.1" fill="none" stroke="#000" stroke-width="2.4" stroke-linejoin="round"/>
<line x1="236.34" y1="1141" x2="264.54" y2="1141" stroke="#000" stroke-width="7" stroke-linecap="butt"/>
<ellipse cx="250.44" cy="1142.5" rx="7.4" ry="6.5" fill="#2AABE2"/>
<ellipse cx="266.24" cy="1140.4" rx="7.4" ry="6.5" fill="#2AABE2"/>
<rect x="268.32" y="1198" width="25.8" height="33.7" fill="none" stroke="#000" stroke-width="2.4" stroke-linejoin="round"/>
<line x1="267.12" y1="1214.8" x2="295.32" y2="1214.8" stroke="#000" stroke-width="7" stroke-linecap="butt"/>
<ellipse cx="281.22" cy="1198" rx="7.4" ry="6.5" fill="#2AABE2"/>
<ellipse cx="281.22" cy="1231.7" rx="7.4" ry="6.5" fill="#2AABE2"/>
<line x1="312.01" y1="1193.7" x2="312.01" y2="1220" stroke="#000" stroke-width="2.4" stroke-dasharray="7.6 12.6" stroke-linecap="round"/>
<line x1="312.01" y1="1254.6" x2="312.01" y2="1250.2" stroke="#000" stroke-width="2.4" stroke-dasharray="7.6 12.6" stroke-linecap="round"/>
<rect x="299.11" y="1220" width="25.8" height="30.2" fill="none" stroke="#000" stroke-width="2.4" stroke-linejoin="round"/>
<line x1="297.91" y1="1247.8" x2="326.11" y2="1247.8" stroke="#000" stroke-width="7" stroke-linecap="butt"/>
<ellipse cx="312.01" cy="1193.7" rx="7.4" ry="6.5" fill="#2AABE2"/>
<ellipse cx="312.01" cy="1254.6" rx="7.4" ry="6.5" fill="#2AABE2"/>
<ellipse cx="323.71" cy="1246.4" rx="7.4" ry="6.5" fill="#2AABE2"/>
<line x1="328.69" y1="1185" x2="356.89" y2="1185" stroke="#000" stroke-width="7" stroke-linecap="butt"/>
<ellipse cx="342.79" cy="1185.8" rx="7.4" ry="6.5" fill="#2AABE2"/>
<ellipse cx="358.79" cy="1184.3" rx="7.4" ry="6.5" fill="#2AABE2"/>
<line x1="373.57" y1="1166.5" x2="373.57" y2="1168" stroke="#000" stroke-width="2.4" stroke-dasharray="7.6 12.6" stroke-linecap="round"/>
<line x1="373.57" y1="1234.7" x2="373.57" y2="1227.4" stroke="#000" stroke-width="2.4" stroke-dasharray="7.6 12.6" stroke-linecap="round"/>
<rect x="360.67" y="1168" width="25.8" height="59.4" fill="none" stroke="#000" stroke-width="2.4" stroke-linejoin="round"/>
<line x1="359.47" y1="1195.2" x2="387.67" y2="1195.2" stroke="#000" stroke-width="7" stroke-linecap="butt"/>
<ellipse cx="373.57" cy="1171.1" rx="7.4" ry="6.5" fill="#C61E38"/>
<ellipse cx="373.57" cy="1219.2" rx="7.4" ry="6.5" fill="#2AABE2"/>
<ellipse cx="373.57" cy="1234.7" rx="7.4" ry="6.5" fill="#2AABE2"/>
<ellipse cx="389.07" cy="1166.5" rx="7.4" ry="6.5" fill="#2AABE2"/>
<line x1="404.35" y1="1089.2" x2="404.35" y2="1098.5" stroke="#000" stroke-width="2.4" stroke-dasharray="7.6 12.6" stroke-linecap="round"/>
<line x1="404.35" y1="1154.2" x2="404.35" y2="1131.3" stroke="#000" stroke-width="2.4" stroke-dasharray="7.6 12.6" stroke-linecap="round"/>
<rect x="391.45" y="1098.5" width="25.8" height="32.8" fill="none" stroke="#000" stroke-width="2.4" stroke-linejoin="round"/>
<line x1="390.25" y1="1107.3" x2="418.45" y2="1107.3" stroke="#000" stroke-width="7" stroke-linecap="butt"/>
<ellipse cx="404.35" cy="1089.2" rx="7.4" ry="6.5" fill="#C61E38"/>
<ellipse cx="404.35" cy="1108.2" rx="7.4" ry="6.5" fill="#C61E38"/>
<ellipse cx="404.35" cy="1154.2" rx="7.4" ry="6.5" fill="#2AABE2"/>
<rect x="422.23" y="1102" width="25.8" height="29.6" fill="none" stroke="#000" stroke-width="2.4" stroke-linejoin="round"/>
<line x1="421.03" y1="1117" x2="449.23" y2="1117" stroke="#000" stroke-width="7" stroke-linecap="butt"/>
<ellipse cx="435.13" cy="1102.4" rx="7.4" ry="6.5" fill="#C61E38"/>
<ellipse cx="435.13" cy="1131.6" rx="7.4" ry="6.5" fill="#C61E38"/>
<rect x="453.01" y="1137.5" width="25.8" height="29.3" fill="none" stroke="#000" stroke-width="2.4" stroke-linejoin="round"/>
<line x1="451.81" y1="1152.1" x2="480.01" y2="1152.1" stroke="#000" stroke-width="7" stroke-linecap="butt"/>
<ellipse cx="465.91" cy="1137.5" rx="7.4" ry="6.5" fill="#2AABE2"/>
<ellipse cx="465.91" cy="1166.8" rx="7.4" ry="6.5" fill="#2AABE2"/>
<line x1="496.69" y1="1122" x2="496.69" y2="1133.6" stroke="#000" stroke-width="2.4" stroke-dasharray="7.6 12.6" stroke-linecap="round"/>
<line x1="496.69" y1="1219.9" x2="496.69" y2="1187.2" stroke="#000" stroke-width="2.4" stroke-dasharray="7.6 12.6" stroke-linecap="round"/>
<rect x="483.79" y="1133.6" width="25.8" height="53.6" fill="none" stroke="#000" stroke-width="2.4" stroke-linejoin="round"/>
<line x1="482.59" y1="1161.9" x2="510.79" y2="1161.9" stroke="#000" stroke-width="7" stroke-linecap="butt"/>
<ellipse cx="496.69" cy="1122" rx="7.4" ry="6.5" fill="#2AABE2"/>
<ellipse cx="496.69" cy="1133.6" rx="7.4" ry="6.5" fill="#2AABE2"/>
<ellipse cx="496.69" cy="1161.9" rx="7.4" ry="6.5" fill="#2AABE2"/>
<ellipse cx="496.69" cy="1186.7" rx="7.4" ry="6.5" fill="#2AABE2"/>
<ellipse cx="496.69" cy="1219.9" rx="7.4" ry="6.5" fill="#2AABE2"/>
<rect x="514.57" y="1114.7" width="25.8" height="33.7" fill="none" stroke="#000" stroke-width="2.4" stroke-linejoin="round"/>
<line x1="513.37" y1="1135.6" x2="541.57" y2="1135.6" stroke="#000" stroke-width="7" stroke-linecap="butt"/>
<ellipse cx="527.47" cy="1063" rx="7.4" ry="6.5" fill="#C61E38"/>
<ellipse cx="527.47" cy="1115.4" rx="7.4" ry="6.5" fill="#C61E38"/>
<ellipse cx="527.47" cy="1135.6" rx="7.4" ry="6.5" fill="#C61E38"/>
<ellipse cx="527.47" cy="1147.9" rx="7.4" ry="6.5" fill="#C61E38"/>
<ellipse cx="527.47" cy="1206.9" rx="7.4" ry="6.5" fill="#C61E38"/>
<line x1="558.25" y1="1112.9" x2="558.25" y2="1118.4" stroke="#000" stroke-width="2.4" stroke-dasharray="7.6 12.6" stroke-linecap="round"/>
<line x1="558.25" y1="1203.7" x2="558.25" y2="1196.5" stroke="#000" stroke-width="2.4" stroke-dasharray="7.6 12.6" stroke-linecap="round"/>
<rect x="545.35" y="1118.4" width="25.8" height="78.1" fill="none" stroke="#000" stroke-width="2.4" stroke-linejoin="round"/>
<line x1="544.15" y1="1142.2" x2="572.35" y2="1142.2" stroke="#000" stroke-width="7" stroke-linecap="butt"/>
<ellipse cx="551.25" cy="1112.9" rx="7.4" ry="6.5" fill="#C61E38"/>
<ellipse cx="567.25" cy="1116.4" rx="7.4" ry="6.5" fill="#C61E38"/>
<ellipse cx="558.25" cy="1126.5" rx="7.4" ry="6.5" fill="#C61E38"/>
<ellipse cx="558.25" cy="1158.4" rx="7.4" ry="6.5" fill="#2AABE2"/>
<ellipse cx="558.25" cy="1203.7" rx="7.4" ry="6.5" fill="#2AABE2"/>
<ellipse cx="571.25" cy="1196.5" rx="7.4" ry="6.5" fill="#2AABE2"/>
<line x1="589.04" y1="1104.1" x2="589.04" y2="1124.5" stroke="#000" stroke-width="2.4" stroke-dasharray="7.6 12.6" stroke-linecap="round"/>
<line x1="589.04" y1="1176.9" x2="589.04" y2="1161.9" stroke="#000" stroke-width="2.4" stroke-dasharray="7.6 12.6" stroke-linecap="round"/>
<rect x="576.14" y="1124.5" width="25.8" height="37.4" fill="none" stroke="#000" stroke-width="2.4" stroke-linejoin="round"/>
<line x1="574.94" y1="1146.6" x2="603.14" y2="1146.6" stroke="#000" stroke-width="7" stroke-linecap="butt"/>
<ellipse cx="589.04" cy="1104.1" rx="7.4" ry="6.5" fill="#C61E38"/>
<ellipse cx="589.04" cy="1146.6" rx="7.4" ry="6.5" fill="#2AABE2"/>
<ellipse cx="605.04" cy="1145.9" rx="7.4" ry="6.5" fill="#2AABE2"/>
<ellipse cx="589.04" cy="1176.9" rx="7.4" ry="6.5" fill="#2AABE2"/>
<rect x="606.92" y="1036" width="25.8" height="193" fill="none" stroke="#000" stroke-width="2.4" stroke-linejoin="round"/>
<line x1="605.72" y1="1132.4" x2="633.92" y2="1132.4" stroke="#000" stroke-width="7" stroke-linecap="butt"/>
<ellipse cx="619.82" cy="1036" rx="7.4" ry="6.5" fill="#C61E38"/>
<ellipse cx="619.82" cy="1228.5" rx="7.4" ry="6.5" fill="#2AABE2"/>
<line x1="650.6" y1="1047.5" x2="650.6" y2="1058.8" stroke="#000" stroke-width="2.4" stroke-dasharray="7.6 12.6" stroke-linecap="round"/>
<line x1="650.6" y1="1097" x2="650.6" y2="1083.9" stroke="#000" stroke-width="2.4" stroke-dasharray="7.6 12.6" stroke-linecap="round"/>
<rect x="637.7" y="1058.8" width="25.8" height="25.1" fill="none" stroke="#000" stroke-width="2.4" stroke-linejoin="round"/>
<line x1="636.5" y1="1070.4" x2="664.7" y2="1070.4" stroke="#000" stroke-width="7" stroke-linecap="butt"/>
<ellipse cx="650.6" cy="1047.5" rx="7.4" ry="6.5" fill="#C61E38"/>
<ellipse cx="650.6" cy="1070.4" rx="7.4" ry="6.5" fill="#C61E38"/>
<ellipse cx="650.6" cy="1097" rx="7.4" ry="6.5" fill="#C61E38"/>
<line x1="681.38" y1="1075.8" x2="681.38" y2="1098.2" stroke="#000" stroke-width="2.4" stroke-dasharray="7.6 12.6" stroke-linecap="round"/>
<line x1="681.38" y1="1177.4" x2="681.38" y2="1146.1" stroke="#000" stroke-width="2.4" stroke-dasharray="7.6 12.6" stroke-linecap="round"/>
<rect x="668.48" y="1098.2" width="25.8" height="47.9" fill="none" stroke="#000" stroke-width="2.4" stroke-linejoin="round"/>
<line x1="667.28" y1="1137.5" x2="695.48" y2="1137.5" stroke="#000" stroke-width="7" stroke-linecap="butt"/>
<ellipse cx="681.38" cy="1075.8" rx="7.4" ry="6.5" fill="#C61E38"/>
<ellipse cx="681.38" cy="1098.2" rx="7.4" ry="6.5" fill="#C61E38"/>
<ellipse cx="681.38" cy="1146.1" rx="7.4" ry="6.5" fill="#2AABE2"/>
<ellipse cx="693.38" cy="1138" rx="7.4" ry="6.5" fill="#2AABE2"/>
<ellipse cx="681.38" cy="1177.4" rx="7.4" ry="6.5" fill="#2AABE2"/>
<rect x="699.26" y="1072.9" width="25.8" height="18.4" fill="none" stroke="#000" stroke-width="2.4" stroke-linejoin="round"/>
<line x1="698.06" y1="1082" x2="726.26" y2="1082" stroke="#000" stroke-width="7" stroke-linecap="butt"/>
<ellipse cx="712.16" cy="1072.9" rx="7.4" ry="6.5" fill="#2AABE2"/>
<ellipse cx="712.16" cy="1091.3" rx="7.4" ry="6.5" fill="#2AABE2"/>
<line x1="742.94" y1="1042.6" x2="742.94" y2="1050.2" stroke="#000" stroke-width="2.4" stroke-dasharray="7.6 12.6" stroke-linecap="round"/>
<line x1="742.94" y1="1066.7" x2="742.94" y2="1065.5" stroke="#000" stroke-width="2.4" stroke-dasharray="7.6 12.6" stroke-linecap="round"/>
<rect x="730.04" y="1050.2" width="25.8" height="15.3" fill="none" stroke="#000" stroke-width="2.4" stroke-linejoin="round"/>
<line x1="728.84" y1="1060.6" x2="757.04" y2="1060.6" stroke="#000" stroke-width="7" stroke-linecap="butt"/>
<ellipse cx="742.94" cy="1042.6" rx="7.4" ry="6.5" fill="#C61E38"/>
<ellipse cx="731.44" cy="1058.8" rx="7.4" ry="6.5" fill="#C61E38"/>
<ellipse cx="742.94" cy="1066.7" rx="7.4" ry="6.5" fill="#C61E38"/>
<ellipse cx="758.94" cy="1065.5" rx="7.4" ry="6.5" fill="#C61E38"/>
<line x1="773.72" y1="1049" x2="773.72" y2="1072.9" stroke="#000" stroke-width="2.4" stroke-dasharray="7.6 12.6" stroke-linecap="round"/>
<line x1="773.72" y1="1112.7" x2="773.72" y2="1106.6" stroke="#000" stroke-width="2.4" stroke-dasharray="7.6 12.6" stroke-linecap="round"/>
<rect x="760.82" y="1072.9" width="25.8" height="33.7" fill="none" stroke="#000" stroke-width="2.4" stroke-linejoin="round"/>
<line x1="759.62" y1="1104.8" x2="787.82" y2="1104.8" stroke="#000" stroke-width="7" stroke-linecap="butt"/>
<ellipse cx="773.72" cy="1049" rx="7.4" ry="6.5" fill="#C61E38"/>
<ellipse cx="762.72" cy="1097.7" rx="7.4" ry="6.5" fill="#2AABE2"/>
<ellipse cx="778.72" cy="1100.6" rx="7.4" ry="6.5" fill="#2AABE2"/>
<ellipse cx="773.72" cy="1112.7" rx="7.4" ry="6.5" fill="#2AABE2"/>
<rect x="791.6" y="1074" width="25.8" height="24.2" fill="none" stroke="#000" stroke-width="2.4" stroke-linejoin="round"/>
<line x1="790.4" y1="1086.4" x2="818.6" y2="1086.4" stroke="#000" stroke-width="7" stroke-linecap="butt"/>
<ellipse cx="804.5" cy="1074" rx="7.4" ry="6.5" fill="#2AABE2"/>
<ellipse cx="804.5" cy="1098.2" rx="7.4" ry="6.5" fill="#2AABE2"/>
<line x1="835.28" y1="1043.4" x2="835.28" y2="1050.2" stroke="#000" stroke-width="2.4" stroke-dasharray="7.6 12.6" stroke-linecap="round"/>
<line x1="835.28" y1="1111.7" x2="835.28" y2="1084.4" stroke="#000" stroke-width="2.4" stroke-dasharray="7.6 12.6" stroke-linecap="round"/>
<rect x="822.38" y="1050.2" width="25.8" height="34.2" fill="none" stroke="#000" stroke-width="2.4" stroke-linejoin="round"/>
<line x1="821.18" y1="1057.4" x2="849.38" y2="1057.4" stroke="#000" stroke-width="7" stroke-linecap="butt"/>
<ellipse cx="835.28" cy="1043.4" rx="7.4" ry="6.5" fill="#C61E38"/>
<ellipse cx="835.28" cy="1057.4" rx="7.4" ry="6.5" fill="#C61E38"/>
<ellipse cx="835.28" cy="1111.7" rx="7.4" ry="6.5" fill="#2AABE2"/>
<line x1="851.96" y1="1041.6" x2="880.16" y2="1041.6" stroke="#000" stroke-width="7" stroke-linecap="butt"/>
<ellipse cx="866.06" cy="1041.6" rx="7.4" ry="6.5" fill="#C61E38"/>
<ellipse cx="882.06" cy="1041.1" rx="7.4" ry="6.5" fill="#C61E38"/>
<line x1="896.85" y1="1127.3" x2="896.85" y2="1102.3" stroke="#000" stroke-width="2.4" stroke-dasharray="7.6 12.6" stroke-linecap="round"/>
<rect x="883.95" y="1036" width="25.8" height="66.3" fill="none" stroke="#000" stroke-width="2.4" stroke-linejoin="round"/>
<line x1="882.75" y1="1060.3" x2="910.95" y2="1060.3" stroke="#000" stroke-width="7" stroke-linecap="butt"/>
<ellipse cx="883.85" cy="1041.2" rx="7.4" ry="6.5" fill="#C61E38"/>
<ellipse cx="896.85" cy="1044.3" rx="7.4" ry="6.5" fill="#C61E38"/>
<ellipse cx="908.85" cy="1035.8" rx="7.4" ry="6.5" fill="#C61E38"/>
<ellipse cx="896.85" cy="1076" rx="7.4" ry="6.5" fill="#C61E38"/>
<ellipse cx="896.85" cy="1127.3" rx="7.4" ry="6.5" fill="#C61E38"/>
<rect x="914.73" y="1043.8" width="25.8" height="131.4" fill="none" stroke="#000" stroke-width="2.4" stroke-linejoin="round"/>
<line x1="913.53" y1="1109.5" x2="941.73" y2="1109.5" stroke="#000" stroke-width="7" stroke-linecap="butt"/>
<ellipse cx="927.63" cy="1043.8" rx="7.4" ry="6.5" fill="#C61E38"/>
<ellipse cx="927.63" cy="1175.2" rx="7.4" ry="6.5" fill="#2AABE2"/>
<line x1="958.41" y1="1028.4" x2="958.41" y2="1043" stroke="#000" stroke-width="2.4" stroke-dasharray="7.6 12.6" stroke-linecap="round"/>
<line x1="958.41" y1="1102.3" x2="958.41" y2="1080.4" stroke="#000" stroke-width="2.4" stroke-dasharray="7.6 12.6" stroke-linecap="round"/>
<rect x="945.51" y="1043" width="25.8" height="37.4" fill="none" stroke="#000" stroke-width="2.4" stroke-linejoin="round"/>
<line x1="944.31" y1="1058.5" x2="972.51" y2="1058.5" stroke="#000" stroke-width="7" stroke-linecap="butt"/>
<ellipse cx="958.41" cy="1028.4" rx="7.4" ry="6.5" fill="#C61E38"/>
<ellipse cx="958.41" cy="1058.5" rx="7.4" ry="6.5" fill="#C61E38"/>
<ellipse cx="958.41" cy="1102.3" rx="7.4" ry="6.5" fill="#2AABE2"/>
<line x1="989.19" y1="1045.6" x2="989.19" y2="1061.8" stroke="#000" stroke-width="2.4" stroke-dasharray="7.6 12.6" stroke-linecap="round"/>
<line x1="989.19" y1="1089.4" x2="989.19" y2="1085.5" stroke="#000" stroke-width="2.4" stroke-dasharray="7.6 12.6" stroke-linecap="round"/>
<rect x="976.29" y="1061.8" width="25.8" height="23.7" fill="none" stroke="#000" stroke-width="2.4" stroke-linejoin="round"/>
<line x1="975.09" y1="1083" x2="1003.29" y2="1083" stroke="#000" stroke-width="7" stroke-linecap="butt"/>
<ellipse cx="989.19" cy="1045.6" rx="7.4" ry="6.5" fill="#2AABE2"/>
<ellipse cx="983.19" cy="1077.8" rx="7.4" ry="6.5" fill="#2AABE2"/>
<ellipse cx="989.19" cy="1089.4" rx="7.4" ry="6.5" fill="#2AABE2"/>
<ellipse cx="998.19" cy="1080.4" rx="7.4" ry="6.5" fill="#2AABE2"/>
<ellipse cx="1003.19" cy="1058.5" rx="7.4" ry="6.5" fill="#C61E38"/>
<rect x="1007.07" y="1046.9" width="25.8" height="12.9" fill="none" stroke="#000" stroke-width="2.4" stroke-linejoin="round"/>
<line x1="1005.87" y1="1057.2" x2="1034.07" y2="1057.2" stroke="#000" stroke-width="7" stroke-linecap="butt"/>
<ellipse cx="1019.97" cy="1020.6" rx="7.4" ry="6.5" fill="#C61E38"/>
<ellipse cx="1019.97" cy="1046.9" rx="7.4" ry="6.5" fill="#C61E38"/>
<ellipse cx="1019.97" cy="1060.3" rx="7.4" ry="6.5" fill="#C61E38"/>
<ellipse cx="1019.97" cy="1093.3" rx="7.4" ry="6.5" fill="#2AABE2"/>
<ellipse cx="1035.97" cy="1059.8" rx="7.4" ry="6.5" fill="#C61E38"/>
<line x1="1050.75" y1="1028.4" x2="1050.75" y2="1034.8" stroke="#000" stroke-width="2.4" stroke-dasharray="7.6 12.6" stroke-linecap="round"/>
<line x1="1050.75" y1="1083" x2="1050.75" y2="1066.2" stroke="#000" stroke-width="2.4" stroke-dasharray="7.6 12.6" stroke-linecap="round"/>
<rect x="1037.85" y="1034.8" width="25.8" height="31.4" fill="none" stroke="#000" stroke-width="2.4" stroke-linejoin="round"/>
<line x1="1036.65" y1="1054.1" x2="1064.85" y2="1054.1" stroke="#000" stroke-width="7" stroke-linecap="butt"/>
<ellipse cx="1050.75" cy="1034.8" rx="7.4" ry="6.5" fill="#2AABE2"/>
<ellipse cx="1050.75" cy="1053.3" rx="7.4" ry="6.5" fill="#2AABE2"/>
<ellipse cx="1050.75" cy="1066.2" rx="7.4" ry="6.5" fill="#2AABE2"/>
<ellipse cx="1050.75" cy="1083" rx="7.4" ry="6.5" fill="#2AABE2"/>
<ellipse cx="1063.75" cy="1028.4" rx="7.4" ry="6.5" fill="#2AABE2"/>
<line x1="1081.53" y1="1020.6" x2="1081.53" y2="1029.6" stroke="#000" stroke-width="2.4" stroke-dasharray="7.6 12.6" stroke-linecap="round"/>
<line x1="1081.53" y1="1044.3" x2="1081.53" y2="1041.2" stroke="#000" stroke-width="2.4" stroke-dasharray="7.6 12.6" stroke-linecap="round"/>
<rect x="1068.63" y="1029.6" width="25.8" height="11.6" fill="none" stroke="#000" stroke-width="2.4" stroke-linejoin="round"/>
<line x1="1067.43" y1="1038.7" x2="1095.63" y2="1038.7" stroke="#000" stroke-width="7" stroke-linecap="butt"/>
<ellipse cx="1081.53" cy="1020.6" rx="7.4" ry="6.5" fill="#C61E38"/>
<ellipse cx="1081.53" cy="1044.3" rx="7.4" ry="6.5" fill="#C61E38"/>
<ellipse cx="1096.53" cy="1038.7" rx="7.4" ry="6.5" fill="#C61E38"/>
<line x1="1112.31" y1="1045.1" x2="1112.31" y2="1053.3" stroke="#000" stroke-width="2.4" stroke-dasharray="7.6 12.6" stroke-linecap="round"/>
<line x1="1112.31" y1="1113.1" x2="1112.31" y2="1110" stroke="#000" stroke-width="2.4" stroke-dasharray="7.6 12.6" stroke-linecap="round"/>
<rect x="1099.41" y="1053.3" width="25.8" height="56.7" fill="none" stroke="#000" stroke-width="2.4" stroke-linejoin="round"/>
<line x1="1098.21" y1="1085" x2="1126.41" y2="1085" stroke="#000" stroke-width="7" stroke-linecap="butt"/>
<ellipse cx="1112.31" cy="1045.1" rx="7.4" ry="6.5" fill="#C61E38"/>
<ellipse cx="1112.31" cy="1063.1" rx="7.4" ry="6.5" fill="#C61E38"/>
<ellipse cx="1112.31" cy="1113.1" rx="7.4" ry="6.5" fill="#C61E38"/>
<ellipse cx="1127.31" cy="1107.4" rx="7.4" ry="6.5" fill="#C61E38"/>
<line x1="1143.09" y1="974.3" x2="1143.09" y2="1002.6" stroke="#000" stroke-width="2.4" stroke-dasharray="7.6 12.6" stroke-linecap="round"/>
<line x1="1143.09" y1="1079.1" x2="1143.09" y2="1055.9" stroke="#000" stroke-width="2.4" stroke-dasharray="7.6 12.6" stroke-linecap="round"/>
<rect x="1130.19" y="1002.6" width="25.8" height="53.3" fill="none" stroke="#000" stroke-width="2.4" stroke-linejoin="round"/>
<line x1="1128.99" y1="1032.2" x2="1157.19" y2="1032.2" stroke="#000" stroke-width="7" stroke-linecap="butt"/>
<ellipse cx="1143.09" cy="974.3" rx="7.4" ry="6.5" fill="#C61E38"/>
<ellipse cx="1143.09" cy="1032.2" rx="7.4" ry="6.5" fill="#C61E38"/>
<ellipse cx="1143.09" cy="1079.1" rx="7.4" ry="6.5" fill="#C61E38"/>
<line x1="1173.88" y1="998" x2="1173.88" y2="1025" stroke="#000" stroke-width="2.4" stroke-dasharray="7.6 12.6" stroke-linecap="round"/>
<line x1="1173.88" y1="1060.3" x2="1173.88" y2="1044.3" stroke="#000" stroke-width="2.4" stroke-dasharray="7.6 12.6" stroke-linecap="round"/>
<rect x="1160.98" y="1025" width="25.8" height="19.3" fill="none" stroke="#000" stroke-width="2.4" stroke-linejoin="round"/>
<line x1="1159.78" y1="1028.9" x2="1187.98" y2="1028.9" stroke="#000" stroke-width="7" stroke-linecap="butt"/>
<ellipse cx="1173.88" cy="998" rx="7.4" ry="6.5" fill="#2AABE2"/>
<ellipse cx="1173.88" cy="1030.2" rx="7.4" ry="6.5" fill="#2AABE2"/>
<ellipse cx="1173.88" cy="1044.3" rx="7.4" ry="6.5" fill="#2AABE2"/>
<ellipse cx="1173.88" cy="1060.3" rx="7.4" ry="6.5" fill="#2AABE2"/>
<ellipse cx="1188.88" cy="1025.8" rx="7.4" ry="6.5" fill="#2AABE2"/>
<line x1="1204.66" y1="988.9" x2="1204.66" y2="1003.1" stroke="#000" stroke-width="2.4" stroke-dasharray="7.6 12.6" stroke-linecap="round"/>
<line x1="1204.66" y1="1036.6" x2="1204.66" y2="1027.6" stroke="#000" stroke-width="2.4" stroke-dasharray="7.6 12.6" stroke-linecap="round"/>
<rect x="1191.76" y="1003.1" width="25.8" height="24.5" fill="none" stroke="#000" stroke-width="2.4" stroke-linejoin="round"/>
<line x1="1190.56" y1="1017.3" x2="1218.76" y2="1017.3" stroke="#000" stroke-width="7" stroke-linecap="butt"/>
<ellipse cx="1204.66" cy="988.9" rx="7.4" ry="6.5" fill="#C61E38"/>
<ellipse cx="1204.66" cy="1017.3" rx="7.4" ry="6.5" fill="#C61E38"/>
<ellipse cx="1204.66" cy="1036.6" rx="7.4" ry="6.5" fill="#C61E38"/>
<line x1="1235.44" y1="1012.9" x2="1235.44" y2="1036.6" stroke="#000" stroke-width="2.4" stroke-dasharray="7.6 12.6" stroke-linecap="round"/>
<line x1="1235.44" y1="1077.8" x2="1235.44" y2="1071.9" stroke="#000" stroke-width="2.4" stroke-dasharray="7.6 12.6" stroke-linecap="round"/>
<rect x="1222.54" y="1036.6" width="25.8" height="35.3" fill="none" stroke="#000" stroke-width="2.4" stroke-linejoin="round"/>
<line x1="1221.34" y1="1063.6" x2="1249.54" y2="1063.6" stroke="#000" stroke-width="7" stroke-linecap="butt"/>
<ellipse cx="1235.44" cy="1012.9" rx="7.4" ry="6.5" fill="#C61E38"/>
<ellipse cx="1235.44" cy="1065.5" rx="7.4" ry="6.5" fill="#C61E38"/>
<ellipse cx="1250.44" cy="1061.1" rx="7.4" ry="6.5" fill="#C61E38"/>
<ellipse cx="1235.44" cy="1077.8" rx="7.4" ry="6.5" fill="#2AABE2"/>
<rect x="1253.32" y="952.9" width="25.8" height="16.2" fill="none" stroke="#000" stroke-width="2.4" stroke-linejoin="round"/>
<line x1="1252.12" y1="960.6" x2="1280.32" y2="960.6" stroke="#000" stroke-width="7" stroke-linecap="butt"/>
<ellipse cx="1266.22" cy="952.9" rx="7.4" ry="6.5" fill="#C61E38"/>
<ellipse cx="1266.22" cy="969.1" rx="7.4" ry="6.5" fill="#C61E38"/>
<rect x="1284.1" y="950.3" width="25.8" height="13.4" fill="none" stroke="#000" stroke-width="2.4" stroke-linejoin="round"/>
<line x1="1282.9" y1="956.7" x2="1311.1" y2="956.7" stroke="#000" stroke-width="7" stroke-linecap="butt"/>
<ellipse cx="1297" cy="951.1" rx="7.4" ry="6.5" fill="#C61E38"/>
<ellipse cx="1297" cy="963.2" rx="7.4" ry="6.5" fill="#C61E38"/>
<line x1="156.9" y1="1351.2" x2="1298.2" y2="1351.2" stroke="#000" stroke-width="2.4" stroke-linecap="butt"/>
<line x1="158.1" y1="1351.2" x2="158.1" y2="1363.5" stroke="#000" stroke-width="2.4" stroke-linecap="butt"/>
<line x1="188.88" y1="1351.2" x2="188.88" y2="1363.5" stroke="#000" stroke-width="2.4" stroke-linecap="butt"/>
<line x1="219.66" y1="1351.2" x2="219.66" y2="1363.5" stroke="#000" stroke-width="2.4" stroke-linecap="butt"/>
<line x1="250.44" y1="1351.2" x2="250.44" y2="1363.5" stroke="#000" stroke-width="2.4" stroke-linecap="butt"/>
<line x1="281.22" y1="1351.2" x2="281.22" y2="1363.5" stroke="#000" stroke-width="2.4" stroke-linecap="butt"/>
<line x1="312.01" y1="1351.2" x2="312.01" y2="1363.5" stroke="#000" stroke-width="2.4" stroke-linecap="butt"/>
<line x1="342.79" y1="1351.2" x2="342.79" y2="1363.5" stroke="#000" stroke-width="2.4" stroke-linecap="butt"/>
<line x1="373.57" y1="1351.2" x2="373.57" y2="1363.5" stroke="#000" stroke-width="2.4" stroke-linecap="butt"/>
<line x1="404.35" y1="1351.2" x2="404.35" y2="1363.5" stroke="#000" stroke-width="2.4" stroke-linecap="butt"/>
<line x1="435.13" y1="1351.2" x2="435.13" y2="1363.5" stroke="#000" stroke-width="2.4" stroke-linecap="butt"/>
<line x1="465.91" y1="1351.2" x2="465.91" y2="1363.5" stroke="#000" stroke-width="2.4" stroke-linecap="butt"/>
<line x1="496.69" y1="1351.2" x2="496.69" y2="1363.5" stroke="#000" stroke-width="2.4" stroke-linecap="butt"/>
<line x1="527.47" y1="1351.2" x2="527.47" y2="1363.5" stroke="#000" stroke-width="2.4" stroke-linecap="butt"/>
<line x1="558.25" y1="1351.2" x2="558.25" y2="1363.5" stroke="#000" stroke-width="2.4" stroke-linecap="butt"/>
<line x1="589.04" y1="1351.2" x2="589.04" y2="1363.5" stroke="#000" stroke-width="2.4" stroke-linecap="butt"/>
<line x1="619.82" y1="1351.2" x2="619.82" y2="1363.5" stroke="#000" stroke-width="2.4" stroke-linecap="butt"/>
<line x1="650.6" y1="1351.2" x2="650.6" y2="1363.5" stroke="#000" stroke-width="2.4" stroke-linecap="butt"/>
<line x1="681.38" y1="1351.2" x2="681.38" y2="1363.5" stroke="#000" stroke-width="2.4" stroke-linecap="butt"/>
<line x1="712.16" y1="1351.2" x2="712.16" y2="1363.5" stroke="#000" stroke-width="2.4" stroke-linecap="butt"/>
<line x1="742.94" y1="1351.2" x2="742.94" y2="1363.5" stroke="#000" stroke-width="2.4" stroke-linecap="butt"/>
<line x1="773.72" y1="1351.2" x2="773.72" y2="1363.5" stroke="#000" stroke-width="2.4" stroke-linecap="butt"/>
<line x1="804.5" y1="1351.2" x2="804.5" y2="1363.5" stroke="#000" stroke-width="2.4" stroke-linecap="butt"/>
<line x1="835.28" y1="1351.2" x2="835.28" y2="1363.5" stroke="#000" stroke-width="2.4" stroke-linecap="butt"/>
<line x1="866.06" y1="1351.2" x2="866.06" y2="1363.5" stroke="#000" stroke-width="2.4" stroke-linecap="butt"/>
<line x1="896.85" y1="1351.2" x2="896.85" y2="1363.5" stroke="#000" stroke-width="2.4" stroke-linecap="butt"/>
<line x1="927.63" y1="1351.2" x2="927.63" y2="1363.5" stroke="#000" stroke-width="2.4" stroke-linecap="butt"/>
<line x1="958.41" y1="1351.2" x2="958.41" y2="1363.5" stroke="#000" stroke-width="2.4" stroke-linecap="butt"/>
<line x1="989.19" y1="1351.2" x2="989.19" y2="1363.5" stroke="#000" stroke-width="2.4" stroke-linecap="butt"/>
<line x1="1019.97" y1="1351.2" x2="1019.97" y2="1363.5" stroke="#000" stroke-width="2.4" stroke-linecap="butt"/>
<line x1="1050.75" y1="1351.2" x2="1050.75" y2="1363.5" stroke="#000" stroke-width="2.4" stroke-linecap="butt"/>
<line x1="1081.53" y1="1351.2" x2="1081.53" y2="1363.5" stroke="#000" stroke-width="2.4" stroke-linecap="butt"/>
<line x1="1112.31" y1="1351.2" x2="1112.31" y2="1363.5" stroke="#000" stroke-width="2.4" stroke-linecap="butt"/>
<line x1="1143.09" y1="1351.2" x2="1143.09" y2="1363.5" stroke="#000" stroke-width="2.4" stroke-linecap="butt"/>
<line x1="1173.88" y1="1351.2" x2="1173.88" y2="1363.5" stroke="#000" stroke-width="2.4" stroke-linecap="butt"/>
<line x1="1204.66" y1="1351.2" x2="1204.66" y2="1363.5" stroke="#000" stroke-width="2.4" stroke-linecap="butt"/>
<line x1="1235.44" y1="1351.2" x2="1235.44" y2="1363.5" stroke="#000" stroke-width="2.4" stroke-linecap="butt"/>
<line x1="1266.22" y1="1351.2" x2="1266.22" y2="1363.5" stroke="#000" stroke-width="2.4" stroke-linecap="butt"/>
<line x1="1297" y1="1351.2" x2="1297" y2="1363.5" stroke="#000" stroke-width="2.4" stroke-linecap="butt"/>
<rect x="142.9" y="1376.6" width="24" height="27.9" fill="#2AABE2"/>
<rect x="173.87" y="1376.6" width="24" height="27.9" fill="#2AABE2"/>
<rect x="204.84" y="1376.6" width="24" height="27.9" fill="#DE9C2F"/>
<rect x="235.81" y="1376.6" width="24" height="27.9" fill="#2AABE2"/>
<rect x="266.78" y="1376.6" width="24" height="27.9" fill="#DE9C2F"/>
<rect x="297.75" y="1376.6" width="24" height="27.9" fill="#2AABE2"/>
<rect x="328.72" y="1376.6" width="24" height="27.9" fill="#2AABE2"/>
<rect x="359.69" y="1376.6" width="24" height="27.9" fill="#DE9C2F"/>
<rect x="390.66" y="1376.6" width="24" height="27.9" fill="#DE9C2F"/>
<rect x="421.63" y="1376.6" width="24" height="27.9" fill="#DE9C2F"/>
<rect x="452.6" y="1376.6" width="24" height="27.9" fill="#2AABE2"/>
<rect x="483.57" y="1376.6" width="24" height="27.9" fill="#2AABE2"/>
<rect x="514.54" y="1376.6" width="24" height="27.9" fill="#BF2033"/>
<rect x="545.51" y="1376.6" width="24" height="27.9" fill="#DE9C2F"/>
<rect x="576.48" y="1376.6" width="24" height="27.9" fill="#DE9C2F"/>
<rect x="607.45" y="1376.6" width="24" height="27.9" fill="#DE9C2F"/>
<rect x="638.42" y="1376.6" width="24" height="27.9" fill="#BF2033"/>
<rect x="669.39" y="1376.6" width="24" height="27.9" fill="#DE9C2F"/>
<rect x="700.36" y="1376.6" width="24" height="27.9" fill="#2AABE2"/>
<rect x="731.34" y="1376.6" width="24" height="27.9" fill="#BF2033"/>
<rect x="762.31" y="1376.6" width="24" height="27.9" fill="#DE9C2F"/>
<rect x="793.28" y="1376.6" width="24" height="27.9" fill="#2AABE2"/>
<rect x="824.25" y="1376.6" width="24" height="27.9" fill="#DE9C2F"/>
<rect x="855.22" y="1376.6" width="24" height="27.9" fill="#BF2033"/>
<rect x="886.19" y="1376.6" width="24" height="27.9" fill="#BF2033"/>
<rect x="917.16" y="1376.6" width="24" height="27.9" fill="#DE9C2F"/>
<rect x="948.13" y="1376.6" width="24" height="27.9" fill="#DE9C2F"/>
<rect x="979.1" y="1376.6" width="24" height="27.9" fill="#2AABE2"/>
<rect x="1010.07" y="1376.6" width="24" height="27.9" fill="#DE9C2F"/>
<rect x="1041.04" y="1376.6" width="24" height="27.9" fill="#2AABE2"/>
<rect x="1072.01" y="1376.6" width="24" height="27.9" fill="#BF2033"/>
<rect x="1102.98" y="1376.6" width="24" height="27.9" fill="#BF2033"/>
<rect x="1133.95" y="1376.6" width="24" height="27.9" fill="#BF2033"/>
<rect x="1164.92" y="1376.6" width="24" height="27.9" fill="#2AABE2"/>
<rect x="1195.89" y="1376.6" width="24" height="27.9" fill="#BF2033"/>
<rect x="1226.86" y="1376.6" width="24" height="27.9" fill="#DE9C2F"/>
<rect x="1257.83" y="1376.6" width="24" height="27.9" fill="#BF2033"/>
<rect x="1288.8" y="1376.6" width="24" height="27.9" fill="#BF2033"/>
<text x="30.7" y="1395" font-size="26.5" text-anchor="start" fill="#000">immune</text>
<rect x="1493" y="741.5" width="473.1" height="589.2" fill="none" stroke="#000" stroke-width="2.5"/>
<line x1="1475.7" y1="1311" x2="1493" y2="1311" stroke="#000" stroke-width="2" stroke-linecap="butt"/>
<text x="1472.7" y="1317.4" font-size="26.8" text-anchor="end" fill="#000">0.0</text>
<line x1="1475.7" y1="1175.25" x2="1493" y2="1175.25" stroke="#000" stroke-width="2" stroke-linecap="butt"/>
<text x="1472.7" y="1181.65" font-size="26.8" text-anchor="end" fill="#000">0.5</text>
<line x1="1475.7" y1="1039.5" x2="1493" y2="1039.5" stroke="#000" stroke-width="2" stroke-linecap="butt"/>
<text x="1472.7" y="1045.9" font-size="26.8" text-anchor="end" fill="#000">1.0</text>
<line x1="1475.7" y1="903.75" x2="1493" y2="903.75" stroke="#000" stroke-width="2" stroke-linecap="butt"/>
<text x="1472.7" y="910.15" font-size="26.8" text-anchor="end" fill="#000">1.5</text>
<line x1="1475.7" y1="768" x2="1493" y2="768" stroke="#000" stroke-width="2" stroke-linecap="butt"/>
<text x="1472.7" y="774.4" font-size="26.8" text-anchor="end" fill="#000">2.0</text>
<text x="1504.3" y="774.4" font-size="23.8" text-anchor="start" fill="#000">p: 1.1e−02</text>
<text x="1358" y="734" font-size="40" text-anchor="start" font-weight="bold" fill="#000">d</text>
<text transform="translate(1377.1,1249.8) rotate(-90)" font-size="27.2" text-anchor="start" fill="#000">Greatest diference between regions</text>
<text transform="translate(1408.5,1249.8) rotate(-90)" font-size="27.2" text-anchor="start" fill="#000">IFNg signature, expanded (Ayers)</text>
<line x1="1619.8" y1="1330.7" x2="1619.8" y2="1343" stroke="#000" stroke-width="2" stroke-linecap="butt"/>
<line x1="1839.2" y1="1330.7" x2="1839.2" y2="1343" stroke="#000" stroke-width="2" stroke-linecap="butt"/>
<text x="1614.5" y="1366.5" font-size="27.2" text-anchor="middle" fill="#000">FALSE</text>
<text x="1834.5" y="1366.5" font-size="27.2" text-anchor="middle" fill="#000">TRUE</text>
<text x="1742.5" y="1394.9" font-size="27.1" text-anchor="middle" fill="#000">Immune heterogeneous tumor</text>
<line x1="1619.8" y1="1011.9" x2="1619.8" y2="1136.2" stroke="#000" stroke-width="2.4" stroke-dasharray="7.6 12.6" stroke-linecap="round"/>
<line x1="1619.8" y1="1309.1" x2="1619.8" y2="1254.4" stroke="#000" stroke-width="2.4" stroke-dasharray="7.6 12.6" stroke-linecap="round"/>
<line x1="1576" y1="1011.9" x2="1664.8" y2="1011.9" stroke="#000" stroke-width="2" stroke-linecap="butt"/>
<line x1="1576" y1="1309.1" x2="1664.8" y2="1309.1" stroke="#000" stroke-width="2" stroke-linecap="butt"/>
<rect x="1532.6" y="1136.2" width="175.6" height="118.2" fill="none" stroke="#000" stroke-width="2.4"/>
<line x1="1531.6" y1="1186.4" x2="1709.2" y2="1186.4" stroke="#000" stroke-width="6.5" stroke-linecap="butt"/>
<ellipse cx="1619.8" cy="902.8" rx="10.4" ry="8.6" fill="#0A0A0A"/>
<ellipse cx="1619.8" cy="1011.9" rx="10.4" ry="8.6" fill="#0A0A0A"/>
<ellipse cx="1619.8" cy="1034.2" rx="10.4" ry="8.6" fill="#0A0A0A"/>
<ellipse cx="1619.8" cy="1053.1" rx="10.4" ry="8.6" fill="#0A0A0A"/>
<ellipse cx="1619.8" cy="1118.4" rx="10.4" ry="8.6" fill="#0A0A0A"/>
<ellipse cx="1619.8" cy="1134.3" rx="10.4" ry="8.6" fill="#0A0A0A"/>
<ellipse cx="1634.5" cy="1138.1" rx="10.4" ry="8.6" fill="#0A0A0A"/>
<ellipse cx="1619.8" cy="1156.9" rx="10.4" ry="8.6" fill="#0A0A0A"/>
<ellipse cx="1634.5" cy="1156.2" rx="10.4" ry="8.6" fill="#0A0A0A"/>
<ellipse cx="1619.8" cy="1172.1" rx="10.4" ry="8.6" fill="#0A0A0A"/>
<ellipse cx="1634.5" cy="1173.9" rx="10.4" ry="8.6" fill="#0A0A0A"/>
<ellipse cx="1619.8" cy="1187.2" rx="10.4" ry="8.6" fill="#0A0A0A"/>
<ellipse cx="1619.8" cy="1199.2" rx="10.4" ry="8.6" fill="#0A0A0A"/>
<ellipse cx="1619.8" cy="1228.7" rx="10.4" ry="8.6" fill="#0A0A0A"/>
<ellipse cx="1607.8" cy="1241.9" rx="10.4" ry="8.6" fill="#0A0A0A"/>
<ellipse cx="1634.5" cy="1245.7" rx="10.4" ry="8.6" fill="#0A0A0A"/>
<ellipse cx="1619.8" cy="1258.9" rx="10.4" ry="8.6" fill="#0A0A0A"/>
<ellipse cx="1634.5" cy="1262.7" rx="10.4" ry="8.6" fill="#0A0A0A"/>
<ellipse cx="1619.8" cy="1274.8" rx="10.4" ry="8.6" fill="#0A0A0A"/>
<ellipse cx="1619.8" cy="1304.2" rx="10.4" ry="8.6" fill="#0A0A0A"/>
<ellipse cx="1607.8" cy="1308" rx="10.4" ry="8.6" fill="#0A0A0A"/>
<ellipse cx="1634.5" cy="1306.1" rx="10.4" ry="8.6" fill="#0A0A0A"/>
<ellipse cx="1619.8" cy="1311" rx="10.4" ry="8.6" fill="#0A0A0A"/>
<ellipse cx="1629.8" cy="1311" rx="10.4" ry="8.6" fill="#0A0A0A"/>
<line x1="1839.2" y1="1021.8" x2="1839.2" y2="1076.9" stroke="#000" stroke-width="2.4" stroke-dasharray="7.6 12.6" stroke-linecap="round"/>
<line x1="1795" y1="1021.8" x2="1883.8" y2="1021.8" stroke="#000" stroke-width="2" stroke-linecap="butt"/>
<line x1="1795" y1="1129.5" x2="1883.8" y2="1129.5" stroke="#000" stroke-width="2" stroke-linecap="butt"/>
<rect x="1751.6" y="1076.9" width="175.6" height="51.7" fill="none" stroke="#000" stroke-width="2.4"/>
<line x1="1750.6" y1="1117.3" x2="1928.2" y2="1117.3" stroke="#000" stroke-width="6.5" stroke-linecap="butt"/>
<ellipse cx="1839.2" cy="764.2" rx="10.4" ry="8.6" fill="#0A0A0A"/>
<ellipse cx="1839.2" cy="938.7" rx="10.4" ry="8.6" fill="#0A0A0A"/>
<ellipse cx="1839.2" cy="1021.8" rx="10.4" ry="8.6" fill="#0A0A0A"/>
<ellipse cx="1839.2" cy="1053.9" rx="10.4" ry="8.6" fill="#0A0A0A"/>
<ellipse cx="1831.2" cy="1102.2" rx="10.4" ry="8.6" fill="#0A0A0A"/>
<ellipse cx="1854.2" cy="1103.3" rx="10.4" ry="8.6" fill="#0A0A0A"/>
<ellipse cx="1839.2" cy="1111.6" rx="10.4" ry="8.6" fill="#0A0A0A"/>
<ellipse cx="1825.2" cy="1115.4" rx="10.4" ry="8.6" fill="#0A0A0A"/>
<ellipse cx="1857.2" cy="1115.4" rx="10.4" ry="8.6" fill="#0A0A0A"/>
<ellipse cx="1839.2" cy="1119.2" rx="10.4" ry="8.6" fill="#0A0A0A"/>
<ellipse cx="1829.2" cy="1124.8" rx="10.4" ry="8.6" fill="#0A0A0A"/>
<ellipse cx="1851.2" cy="1124.8" rx="10.4" ry="8.6" fill="#0A0A0A"/>
<ellipse cx="1833.2" cy="1128.6" rx="10.4" ry="8.6" fill="#0A0A0A"/>
<ellipse cx="1853.2" cy="1128.6" rx="10.4" ry="8.6" fill="#0A0A0A"/>
<ellipse cx="1839.2" cy="1130" rx="10.4" ry="8.6" fill="#0A0A0A"/>
<ellipse cx="1839.2" cy="1216.2" rx="10.4" ry="8.6" fill="#0A0A0A"/>
<ellipse cx="1839.2" cy="1228.7" rx="10.4" ry="8.6" fill="#0A0A0A"/>
<ellipse cx="1839.2" cy="1299.3" rx="10.4" ry="8.6" fill="#0A0A0A"/>
<line x1="139" y1="1459.1" x2="139" y2="2105.92" stroke="#000" stroke-width="2.4" stroke-linecap="butt"/>
<line x1="121.5" y1="1459.1" x2="139" y2="1459.1" stroke="#000" stroke-width="2.4" stroke-linecap="butt"/>
<text x="112.2" y="1468.1" font-size="27.2" text-anchor="end" fill="#000">100.0</text>
<line x1="121.5" y1="1543.72" x2="139" y2="1543.72" stroke="#000" stroke-width="2.4" stroke-linecap="butt"/>
<text x="112.2" y="1552.72" font-size="27.2" text-anchor="end" fill="#000">50.0</text>
<line x1="121.5" y1="1655.58" x2="139" y2="1655.58" stroke="#000" stroke-width="2.4" stroke-linecap="butt"/>
<text x="112.2" y="1664.58" font-size="27.2" text-anchor="end" fill="#000">20.0</text>
<line x1="121.5" y1="1740.2" x2="139" y2="1740.2" stroke="#000" stroke-width="2.4" stroke-linecap="butt"/>
<text x="112.2" y="1749.2" font-size="27.2" text-anchor="end" fill="#000">10.0</text>
<line x1="121.5" y1="1824.82" x2="139" y2="1824.82" stroke="#000" stroke-width="2.4" stroke-linecap="butt"/>
<text x="112.2" y="1833.82" font-size="27.2" text-anchor="end" fill="#000">5.0</text>
<line x1="121.5" y1="1936.68" x2="139" y2="1936.68" stroke="#000" stroke-width="2.4" stroke-linecap="butt"/>
<text x="112.2" y="1945.68" font-size="27.2" text-anchor="end" fill="#000">2.0</text>
<line x1="121.5" y1="2021.3" x2="139" y2="2021.3" stroke="#000" stroke-width="2.4" stroke-linecap="butt"/>
<text x="112.2" y="2030.3" font-size="27.2" text-anchor="end" fill="#000">1.0</text>
<line x1="121.5" y1="2105.92" x2="139" y2="2105.92" stroke="#000" stroke-width="2.4" stroke-linecap="butt"/>
<text x="112.2" y="2114.92" font-size="27.2" text-anchor="end" fill="#000">0.5</text>
<line x1="139.34" y1="1740.4" x2="1922.2" y2="1740.4" stroke="#000" stroke-width="2.4" stroke-dasharray="7.6 12.8" stroke-linecap="round"/>
<text x="152.2" y="1733.1" font-size="23.85" text-anchor="start" fill="#000">TMB threshold</text>
<text transform="translate(33.9,1744.2) rotate(-90)" font-size="30.2" text-anchor="middle" fill="#000">TMB (mut/Mb)</text>
<text x="0.3" y="1457.8" font-size="40.5" text-anchor="start" font-weight="bold" fill="#000">e</text>
<rect x="208.7" y="1960" width="14.6" height="6" fill="none" stroke="#000" stroke-width="2.2" stroke-linejoin="round"/>
<line x1="207.6" y1="1963" x2="224.4" y2="1963" stroke="#000" stroke-width="5.5" stroke-linecap="butt"/>
<ellipse cx="216" cy="1960" rx="6.4" ry="5.8" fill="#0A0A0A"/>
<ellipse cx="216" cy="1965.9" rx="6.4" ry="5.8" fill="#0A0A0A"/>
<rect x="226.91" y="1942.5" width="14.6" height="8.8" fill="none" stroke="#000" stroke-width="2.2" stroke-linejoin="round"/>
<line x1="225.81" y1="1946.9" x2="242.61" y2="1946.9" stroke="#000" stroke-width="5.5" stroke-linecap="butt"/>
<ellipse cx="234.21" cy="1942.5" rx="6.4" ry="5.8" fill="#0A0A0A"/>
<ellipse cx="234.21" cy="1951.3" rx="6.4" ry="5.8" fill="#0A0A0A"/>
<rect x="245.12" y="1935.5" width="14.6" height="5.5" fill="none" stroke="#000" stroke-width="2.2" stroke-linejoin="round"/>
<line x1="244.02" y1="1938.2" x2="260.82" y2="1938.2" stroke="#000" stroke-width="5.5" stroke-linecap="butt"/>
<ellipse cx="252.42" cy="1935.5" rx="6.4" ry="5.8" fill="#0A0A0A"/>
<ellipse cx="252.42" cy="1941" rx="6.4" ry="5.8" fill="#0A0A0A"/>
<rect x="263.34" y="1935.5" width="14.6" height="5.5" fill="none" stroke="#000" stroke-width="2.2" stroke-linejoin="round"/>
<line x1="262.24" y1="1938.2" x2="279.04" y2="1938.2" stroke="#000" stroke-width="5.5" stroke-linecap="butt"/>
<ellipse cx="270.64" cy="1935.5" rx="6.4" ry="5.8" fill="#0A0A0A"/>
<ellipse cx="270.64" cy="1941" rx="6.4" ry="5.8" fill="#0A0A0A"/>
<line x1="280.45" y1="1921.4" x2="297.25" y2="1921.4" stroke="#000" stroke-width="5.5" stroke-linecap="butt"/>
<ellipse cx="287.05" cy="1921.4" rx="6.4" ry="5.8" fill="#0A0A0A"/>
<ellipse cx="290.65" cy="1921.4" rx="6.4" ry="5.8" fill="#0A0A0A"/>
<rect x="299.76" y="1905.9" width="14.6" height="11.7" fill="none" stroke="#000" stroke-width="2.2" stroke-linejoin="round"/>
<line x1="298.66" y1="1911.7" x2="315.46" y2="1911.7" stroke="#000" stroke-width="5.5" stroke-linecap="butt"/>
<ellipse cx="307.06" cy="1905.9" rx="6.4" ry="5.8" fill="#0A0A0A"/>
<ellipse cx="307.06" cy="1917.6" rx="6.4" ry="5.8" fill="#0A0A0A"/>
<rect x="317.97" y="1898.2" width="14.6" height="12.8" fill="none" stroke="#000" stroke-width="2.2" stroke-linejoin="round"/>
<line x1="316.87" y1="1904.6" x2="333.67" y2="1904.6" stroke="#000" stroke-width="5.5" stroke-linecap="butt"/>
<ellipse cx="325.27" cy="1898.2" rx="6.4" ry="5.8" fill="#0A0A0A"/>
<ellipse cx="325.27" cy="1911" rx="6.4" ry="5.8" fill="#0A0A0A"/>
<rect x="336.18" y="1885.4" width="14.6" height="39.5" fill="none" stroke="#000" stroke-width="2.2" stroke-linejoin="round"/>
<line x1="335.08" y1="1903" x2="351.88" y2="1903" stroke="#000" stroke-width="5.5" stroke-linecap="butt"/>
<ellipse cx="343.48" cy="1885.4" rx="6.4" ry="5.8" fill="#0A0A0A"/>
<ellipse cx="343.48" cy="1924.9" rx="6.4" ry="5.8" fill="#0A0A0A"/>
<rect x="354.4" y="1871.5" width="14.6" height="6" fill="none" stroke="#000" stroke-width="2.2" stroke-linejoin="round"/>
<line x1="353.3" y1="1874.5" x2="370.1" y2="1874.5" stroke="#000" stroke-width="5.5" stroke-linecap="butt"/>
<ellipse cx="361.7" cy="1871.5" rx="6.4" ry="5.8" fill="#0A0A0A"/>
<ellipse cx="361.7" cy="1877.5" rx="6.4" ry="5.8" fill="#0A0A0A"/>
<line x1="379.91" y1="1866.4" x2="379.91" y2="1872.2" stroke="#000" stroke-width="2.2" stroke-dasharray="7.6 12.6" stroke-linecap="round"/>
<line x1="379.91" y1="1939.5" x2="379.91" y2="1905.9" stroke="#000" stroke-width="2.2" stroke-dasharray="7.6 12.6" stroke-linecap="round"/>
<rect x="372.61" y="1872.2" width="14.6" height="33.7" fill="none" stroke="#000" stroke-width="2.2" stroke-linejoin="round"/>
<line x1="371.51" y1="1878" x2="388.31" y2="1878" stroke="#000" stroke-width="5.5" stroke-linecap="butt"/>
<ellipse cx="379.91" cy="1866.4" rx="6.4" ry="5.8" fill="#0A0A0A"/>
<ellipse cx="379.91" cy="1878" rx="6.4" ry="5.8" fill="#0A0A0A"/>
<ellipse cx="379.91" cy="1939.5" rx="6.4" ry="5.8" fill="#0A0A0A"/>
<line x1="398.12" y1="1860.5" x2="398.12" y2="1862" stroke="#000" stroke-width="2.2" stroke-dasharray="7.6 12.6" stroke-linecap="round"/>
<rect x="390.82" y="1862" width="14.6" height="14.6" fill="none" stroke="#000" stroke-width="2.2" stroke-linejoin="round"/>
<line x1="389.72" y1="1867.8" x2="406.52" y2="1867.8" stroke="#000" stroke-width="5.5" stroke-linecap="butt"/>
<ellipse cx="398.12" cy="1860.5" rx="6.4" ry="5.8" fill="#0A0A0A"/>
<ellipse cx="398.12" cy="1867.8" rx="6.4" ry="5.8" fill="#0A0A0A"/>
<ellipse cx="398.12" cy="1876.6" rx="6.4" ry="5.8" fill="#0A0A0A"/>
<rect x="409.03" y="1859" width="14.6" height="7.4" fill="none" stroke="#000" stroke-width="2.2" stroke-linejoin="round"/>
<line x1="407.93" y1="1862.5" x2="424.73" y2="1862.5" stroke="#000" stroke-width="5.5" stroke-linecap="butt"/>
<ellipse cx="416.33" cy="1859" rx="6.4" ry="5.8" fill="#0A0A0A"/>
<ellipse cx="416.33" cy="1866.4" rx="6.4" ry="5.8" fill="#0A0A0A"/>
<rect x="427.24" y="1857" width="14.6" height="9" fill="none" stroke="#000" stroke-width="2.2" stroke-linejoin="round"/>
<line x1="426.14" y1="1861.5" x2="442.94" y2="1861.5" stroke="#000" stroke-width="5.5" stroke-linecap="butt"/>
<ellipse cx="434.54" cy="1857" rx="6.4" ry="5.8" fill="#0A0A0A"/>
<ellipse cx="434.54" cy="1866" rx="6.4" ry="5.8" fill="#0A0A0A"/>
<line x1="452.76" y1="1866.4" x2="452.76" y2="1864.9" stroke="#000" stroke-width="2.2" stroke-dasharray="7.6 12.6" stroke-linecap="round"/>
<rect x="445.46" y="1846.7" width="14.6" height="18.2" fill="none" stroke="#000" stroke-width="2.2" stroke-linejoin="round"/>
<line x1="444.36" y1="1856.7" x2="461.16" y2="1856.7" stroke="#000" stroke-width="5.5" stroke-linecap="butt"/>
<ellipse cx="452.76" cy="1846.7" rx="6.4" ry="5.8" fill="#0A0A0A"/>
<ellipse cx="452.76" cy="1866.4" rx="6.4" ry="5.8" fill="#0A0A0A"/>
<line x1="462.57" y1="1843.8" x2="479.37" y2="1843.8" stroke="#000" stroke-width="5.5" stroke-linecap="butt"/>
<ellipse cx="469.17" cy="1843.8" rx="6.4" ry="5.8" fill="#0A0A0A"/>
<ellipse cx="472.77" cy="1843.8" rx="6.4" ry="5.8" fill="#0A0A0A"/>
<line x1="489.18" y1="1874.2" x2="489.18" y2="1856.4" stroke="#000" stroke-width="2.2" stroke-dasharray="7.6 12.6" stroke-linecap="round"/>
<rect x="481.88" y="1839.5" width="14.6" height="16.9" fill="none" stroke="#000" stroke-width="2.2" stroke-linejoin="round"/>
<line x1="480.78" y1="1840" x2="497.58" y2="1840" stroke="#000" stroke-width="5.5" stroke-linecap="butt"/>
<ellipse cx="489.18" cy="1839" rx="6.4" ry="5.8" fill="#0A0A0A"/>
<ellipse cx="489.18" cy="1874.2" rx="6.4" ry="5.8" fill="#0A0A0A"/>
<line x1="507.39" y1="1831.1" x2="507.39" y2="1840.5" stroke="#000" stroke-width="2.2" stroke-dasharray="7.6 12.6" stroke-linecap="round"/>
<line x1="507.39" y1="1916.3" x2="507.39" y2="1884.5" stroke="#000" stroke-width="2.2" stroke-dasharray="7.6 12.6" stroke-linecap="round"/>
<rect x="500.09" y="1840.5" width="14.6" height="44" fill="none" stroke="#000" stroke-width="2.2" stroke-linejoin="round"/>
<line x1="498.99" y1="1853.6" x2="515.79" y2="1853.6" stroke="#000" stroke-width="5.5" stroke-linecap="butt"/>
<ellipse cx="507.39" cy="1831.1" rx="6.4" ry="5.8" fill="#0A0A0A"/>
<ellipse cx="507.39" cy="1853.6" rx="6.4" ry="5.8" fill="#0A0A0A"/>
<ellipse cx="507.39" cy="1916.3" rx="6.4" ry="5.8" fill="#0A0A0A"/>
<rect x="518.3" y="1830.2" width="14.6" height="83.3" fill="none" stroke="#000" stroke-width="2.2" stroke-linejoin="round"/>
<line x1="517.2" y1="1864.8" x2="534" y2="1864.8" stroke="#000" stroke-width="5.5" stroke-linecap="butt"/>
<ellipse cx="525.6" cy="1830.2" rx="6.4" ry="5.8" fill="#0A0A0A"/>
<ellipse cx="525.6" cy="1912.6" rx="6.4" ry="5.8" fill="#0A0A0A"/>
<rect x="536.52" y="1820.8" width="14.6" height="8.4" fill="none" stroke="#000" stroke-width="2.2" stroke-linejoin="round"/>
<line x1="535.42" y1="1825" x2="552.22" y2="1825" stroke="#000" stroke-width="5.5" stroke-linecap="butt"/>
<ellipse cx="543.82" cy="1820.8" rx="6.4" ry="5.8" fill="#0A0A0A"/>
<ellipse cx="543.82" cy="1829.2" rx="6.4" ry="5.8" fill="#0A0A0A"/>
<rect x="554.73" y="1810.5" width="14.6" height="31.8" fill="none" stroke="#000" stroke-width="2.2" stroke-linejoin="round"/>
<line x1="553.63" y1="1824.5" x2="570.43" y2="1824.5" stroke="#000" stroke-width="5.5" stroke-linecap="butt"/>
<ellipse cx="562.03" cy="1810.5" rx="6.4" ry="5.8" fill="#0A0A0A"/>
<ellipse cx="562.03" cy="1842.3" rx="6.4" ry="5.8" fill="#0A0A0A"/>
<rect x="572.94" y="1803" width="14.6" height="2" fill="none" stroke="#000" stroke-width="2.2" stroke-linejoin="round"/>
<line x1="571.84" y1="1804" x2="588.64" y2="1804" stroke="#000" stroke-width="5.5" stroke-linecap="butt"/>
<ellipse cx="580.24" cy="1803" rx="6.4" ry="5.8" fill="#0A0A0A"/>
<ellipse cx="580.24" cy="1805" rx="6.4" ry="5.8" fill="#0A0A0A"/>
<line x1="598.45" y1="1833.9" x2="598.45" y2="1825.5" stroke="#000" stroke-width="2.2" stroke-dasharray="7.6 12.6" stroke-linecap="round"/>
<rect x="591.15" y="1799.3" width="14.6" height="26.2" fill="none" stroke="#000" stroke-width="2.2" stroke-linejoin="round"/>
<line x1="590.05" y1="1805.8" x2="606.85" y2="1805.8" stroke="#000" stroke-width="5.5" stroke-linecap="butt"/>
<ellipse cx="598.45" cy="1799.3" rx="6.4" ry="5.8" fill="#0A0A0A"/>
<ellipse cx="598.45" cy="1817" rx="6.4" ry="5.8" fill="#0A0A0A"/>
<ellipse cx="598.45" cy="1833.9" rx="6.4" ry="5.8" fill="#0A0A0A"/>
<line x1="608.26" y1="1800.2" x2="625.06" y2="1800.2" stroke="#000" stroke-width="5.5" stroke-linecap="butt"/>
<ellipse cx="614.86" cy="1800.2" rx="6.4" ry="5.8" fill="#0A0A0A"/>
<ellipse cx="618.46" cy="1800.2" rx="6.4" ry="5.8" fill="#0A0A0A"/>
<line x1="634.88" y1="1789" x2="634.88" y2="1792.7" stroke="#000" stroke-width="2.2" stroke-dasharray="7.6 12.6" stroke-linecap="round"/>
<line x1="634.88" y1="1840.5" x2="634.88" y2="1816.1" stroke="#000" stroke-width="2.2" stroke-dasharray="7.6 12.6" stroke-linecap="round"/>
<rect x="627.58" y="1792.7" width="14.6" height="23.4" fill="none" stroke="#000" stroke-width="2.2" stroke-linejoin="round"/>
<line x1="626.48" y1="1794" x2="643.27" y2="1794" stroke="#000" stroke-width="5.5" stroke-linecap="butt"/>
<ellipse cx="634.88" cy="1789" rx="6.4" ry="5.8" fill="#0A0A0A"/>
<ellipse cx="634.88" cy="1794.6" rx="6.4" ry="5.8" fill="#0A0A0A"/>
<ellipse cx="634.88" cy="1840.5" rx="6.4" ry="5.8" fill="#0A0A0A"/>
<line x1="653.09" y1="1784.3" x2="653.09" y2="1786.1" stroke="#000" stroke-width="2.2" stroke-dasharray="7.6 12.6" stroke-linecap="round"/>
<line x1="653.09" y1="1858.3" x2="653.09" y2="1812.4" stroke="#000" stroke-width="2.2" stroke-dasharray="7.6 12.6" stroke-linecap="round"/>
<rect x="645.79" y="1786.1" width="14.6" height="26.3" fill="none" stroke="#000" stroke-width="2.2" stroke-linejoin="round"/>
<line x1="644.69" y1="1808.6" x2="661.49" y2="1808.6" stroke="#000" stroke-width="5.5" stroke-linecap="butt"/>
<ellipse cx="653.09" cy="1784.3" rx="6.4" ry="5.8" fill="#0A0A0A"/>
<ellipse cx="653.09" cy="1808.6" rx="6.4" ry="5.8" fill="#0A0A0A"/>
<ellipse cx="653.09" cy="1812" rx="6.4" ry="5.8" fill="#0A0A0A"/>
<ellipse cx="653.09" cy="1858.3" rx="6.4" ry="5.8" fill="#0A0A0A"/>
<line x1="662.9" y1="1779.6" x2="679.7" y2="1779.6" stroke="#000" stroke-width="5.5" stroke-linecap="butt"/>
<ellipse cx="669.5" cy="1779.6" rx="6.4" ry="5.8" fill="#0A0A0A"/>
<ellipse cx="673.1" cy="1779.6" rx="6.4" ry="5.8" fill="#0A0A0A"/>
<rect x="682.21" y="1773" width="14.6" height="32.8" fill="none" stroke="#000" stroke-width="2.2" stroke-linejoin="round"/>
<line x1="681.11" y1="1788" x2="697.91" y2="1788" stroke="#000" stroke-width="5.5" stroke-linecap="butt"/>
<ellipse cx="689.51" cy="1773" rx="6.4" ry="5.8" fill="#0A0A0A"/>
<ellipse cx="689.51" cy="1805.8" rx="6.4" ry="5.8" fill="#0A0A0A"/>
<line x1="699.32" y1="1769.3" x2="716.12" y2="1769.3" stroke="#000" stroke-width="5.5" stroke-linecap="butt"/>
<ellipse cx="705.92" cy="1769.3" rx="6.4" ry="5.8" fill="#0A0A0A"/>
<ellipse cx="709.52" cy="1769.3" rx="6.4" ry="5.8" fill="#0A0A0A"/>
<line x1="725.93" y1="1764.6" x2="725.93" y2="1769.3" stroke="#000" stroke-width="2.2" stroke-dasharray="7.6 12.6" stroke-linecap="round"/>
<line x1="725.93" y1="1793.6" x2="725.93" y2="1783.3" stroke="#000" stroke-width="2.2" stroke-dasharray="7.6 12.6" stroke-linecap="round"/>
<rect x="718.63" y="1769.3" width="14.6" height="14" fill="none" stroke="#000" stroke-width="2.2" stroke-linejoin="round"/>
<line x1="717.53" y1="1773" x2="734.33" y2="1773" stroke="#000" stroke-width="5.5" stroke-linecap="butt"/>
<ellipse cx="725.93" cy="1764.6" rx="6.4" ry="5.8" fill="#0A0A0A"/>
<ellipse cx="725.93" cy="1773" rx="6.4" ry="5.8" fill="#0A0A0A"/>
<ellipse cx="725.93" cy="1793.6" rx="6.4" ry="5.8" fill="#0A0A0A"/>
<line x1="735.75" y1="1758.4" x2="752.55" y2="1758.4" stroke="#000" stroke-width="5.5" stroke-linecap="butt"/>
<ellipse cx="742.35" cy="1758.4" rx="6.4" ry="5.8" fill="#0A0A0A"/>
<ellipse cx="745.95" cy="1758.4" rx="6.4" ry="5.8" fill="#0A0A0A"/>
<rect x="755.06" y="1751.5" width="14.6" height="19.6" fill="none" stroke="#000" stroke-width="2.2" stroke-linejoin="round"/>
<line x1="753.96" y1="1760" x2="770.76" y2="1760" stroke="#000" stroke-width="5.5" stroke-linecap="butt"/>
<ellipse cx="762.36" cy="1751.5" rx="6.4" ry="5.8" fill="#0A0A0A"/>
<ellipse cx="762.36" cy="1771.1" rx="6.4" ry="5.8" fill="#0A0A0A"/>
<line x1="780.57" y1="1749.6" x2="780.57" y2="1754.2" stroke="#000" stroke-width="2.2" stroke-dasharray="7.6 12.6" stroke-linecap="round"/>
<line x1="780.57" y1="1765.5" x2="780.57" y2="1764.5" stroke="#000" stroke-width="2.2" stroke-dasharray="7.6 12.6" stroke-linecap="round"/>
<rect x="773.27" y="1754.2" width="14.6" height="10.3" fill="none" stroke="#000" stroke-width="2.2" stroke-linejoin="round"/>
<line x1="772.17" y1="1759.9" x2="788.97" y2="1759.9" stroke="#000" stroke-width="5.5" stroke-linecap="butt"/>
<ellipse cx="780.57" cy="1749.6" rx="6.4" ry="5.8" fill="#0A0A0A"/>
<ellipse cx="780.57" cy="1759.9" rx="6.4" ry="5.8" fill="#0A0A0A"/>
<ellipse cx="780.57" cy="1765.5" rx="6.4" ry="5.8" fill="#0A0A0A"/>
<line x1="790.38" y1="1749.6" x2="807.18" y2="1749.6" stroke="#000" stroke-width="5.5" stroke-linecap="butt"/>
<ellipse cx="796.98" cy="1749.6" rx="6.4" ry="5.8" fill="#0A0A0A"/>
<ellipse cx="800.58" cy="1749.6" rx="6.4" ry="5.8" fill="#0A0A0A"/>
<rect x="809.69" y="1744.9" width="14.6" height="17.8" fill="none" stroke="#000" stroke-width="2.2" stroke-linejoin="round"/>
<line x1="808.59" y1="1754.2" x2="825.39" y2="1754.2" stroke="#000" stroke-width="5.5" stroke-linecap="butt"/>
<ellipse cx="816.99" cy="1745.8" rx="6.4" ry="5.8" fill="#0A0A0A"/>
<ellipse cx="816.99" cy="1754.2" rx="6.4" ry="5.8" fill="#0A0A0A"/>
<ellipse cx="816.99" cy="1762.7" rx="6.4" ry="5.8" fill="#0A0A0A"/>
<rect x="827.91" y="1743" width="14.6" height="63.7" fill="none" stroke="#000" stroke-width="2.2" stroke-linejoin="round"/>
<line x1="826.81" y1="1770.2" x2="843.61" y2="1770.2" stroke="#000" stroke-width="5.5" stroke-linecap="butt"/>
<ellipse cx="835.21" cy="1742.6" rx="6.4" ry="5.8" fill="#0A0A0A"/>
<ellipse cx="835.21" cy="1806.7" rx="6.4" ry="5.8" fill="#0A0A0A"/>
<line x1="853.42" y1="1758" x2="853.42" y2="1753.3" stroke="#000" stroke-width="2.2" stroke-dasharray="7.6 12.6" stroke-linecap="round"/>
<rect x="846.12" y="1741.1" width="14.6" height="12.2" fill="none" stroke="#000" stroke-width="2.2" stroke-linejoin="round"/>
<line x1="845.02" y1="1747" x2="861.82" y2="1747" stroke="#000" stroke-width="5.5" stroke-linecap="butt"/>
<ellipse cx="853.42" cy="1741.1" rx="6.4" ry="5.8" fill="#0A0A0A"/>
<ellipse cx="853.42" cy="1747" rx="6.4" ry="5.8" fill="#0A0A0A"/>
<ellipse cx="853.42" cy="1758" rx="6.4" ry="5.8" fill="#0A0A0A"/>
<rect x="864.33" y="1739.3" width="14.6" height="15.9" fill="none" stroke="#000" stroke-width="2.2" stroke-linejoin="round"/>
<line x1="863.23" y1="1747" x2="880.03" y2="1747" stroke="#000" stroke-width="5.5" stroke-linecap="butt"/>
<ellipse cx="871.63" cy="1739.3" rx="6.4" ry="5.8" fill="#0A0A0A"/>
<ellipse cx="871.63" cy="1755.2" rx="6.4" ry="5.8" fill="#0A0A0A"/>
<line x1="881.44" y1="1740.2" x2="898.24" y2="1740.2" stroke="#000" stroke-width="5.5" stroke-linecap="butt"/>
<ellipse cx="888.04" cy="1740.2" rx="6.4" ry="5.8" fill="#0A0A0A"/>
<ellipse cx="891.64" cy="1740.2" rx="6.4" ry="5.8" fill="#0A0A0A"/>
<line x1="908.05" y1="1731.8" x2="908.05" y2="1740.2" stroke="#000" stroke-width="2.2" stroke-dasharray="7.6 12.6" stroke-linecap="round"/>
<line x1="908.05" y1="1747.7" x2="908.05" y2="1746.7" stroke="#000" stroke-width="2.2" stroke-dasharray="7.6 12.6" stroke-linecap="round"/>
<rect x="900.75" y="1740.2" width="14.6" height="6.5" fill="none" stroke="#000" stroke-width="2.2" stroke-linejoin="round"/>
<line x1="899.65" y1="1743" x2="916.45" y2="1743" stroke="#000" stroke-width="5.5" stroke-linecap="butt"/>
<ellipse cx="908.05" cy="1731.8" rx="6.4" ry="5.8" fill="#0A0A0A"/>
<ellipse cx="908.05" cy="1747.7" rx="6.4" ry="5.8" fill="#0A0A0A"/>
<line x1="917.87" y1="1722.8" x2="934.67" y2="1722.8" stroke="#000" stroke-width="5.5" stroke-linecap="butt"/>
<ellipse cx="924.47" cy="1722.8" rx="6.4" ry="5.8" fill="#0A0A0A"/>
<ellipse cx="928.07" cy="1722.8" rx="6.4" ry="5.8" fill="#0A0A0A"/>
<line x1="944.48" y1="1718.3" x2="944.48" y2="1726.1" stroke="#000" stroke-width="2.2" stroke-dasharray="7.6 12.6" stroke-linecap="round"/>
<rect x="937.18" y="1726.1" width="14.6" height="43.1" fill="none" stroke="#000" stroke-width="2.2" stroke-linejoin="round"/>
<line x1="936.08" y1="1740.2" x2="952.88" y2="1740.2" stroke="#000" stroke-width="5.5" stroke-linecap="butt"/>
<ellipse cx="944.48" cy="1718.3" rx="6.4" ry="5.8" fill="#0A0A0A"/>
<ellipse cx="944.48" cy="1728" rx="6.4" ry="5.8" fill="#0A0A0A"/>
<ellipse cx="944.48" cy="1752.4" rx="6.4" ry="5.8" fill="#0A0A0A"/>
<ellipse cx="944.48" cy="1769.2" rx="6.4" ry="5.8" fill="#0A0A0A"/>
<line x1="962.69" y1="1717.7" x2="962.69" y2="1726.1" stroke="#000" stroke-width="2.2" stroke-dasharray="7.6 12.6" stroke-linecap="round"/>
<line x1="962.69" y1="1760.8" x2="962.69" y2="1746.7" stroke="#000" stroke-width="2.2" stroke-dasharray="7.6 12.6" stroke-linecap="round"/>
<rect x="955.39" y="1726.1" width="14.6" height="20.6" fill="none" stroke="#000" stroke-width="2.2" stroke-linejoin="round"/>
<line x1="954.29" y1="1737" x2="971.09" y2="1737" stroke="#000" stroke-width="5.5" stroke-linecap="butt"/>
<ellipse cx="962.69" cy="1717.7" rx="6.4" ry="5.8" fill="#0A0A0A"/>
<ellipse cx="962.69" cy="1722" rx="6.4" ry="5.8" fill="#0A0A0A"/>
<ellipse cx="962.69" cy="1730" rx="6.4" ry="5.8" fill="#0A0A0A"/>
<ellipse cx="962.69" cy="1737.4" rx="6.4" ry="5.8" fill="#0A0A0A"/>
<ellipse cx="962.69" cy="1754.2" rx="6.4" ry="5.8" fill="#0A0A0A"/>
<ellipse cx="962.69" cy="1760.8" rx="6.4" ry="5.8" fill="#0A0A0A"/>
<line x1="980.9" y1="1714.9" x2="980.9" y2="1730" stroke="#000" stroke-width="2.2" stroke-dasharray="7.6 12.6" stroke-linecap="round"/>
<rect x="973.6" y="1730" width="14.6" height="15" fill="none" stroke="#000" stroke-width="2.2" stroke-linejoin="round"/>
<line x1="972.5" y1="1737" x2="989.3" y2="1737" stroke="#000" stroke-width="5.5" stroke-linecap="butt"/>
<ellipse cx="980.9" cy="1714.9" rx="6.4" ry="5.8" fill="#0A0A0A"/>
<ellipse cx="980.9" cy="1730" rx="6.4" ry="5.8" fill="#0A0A0A"/>
<ellipse cx="980.9" cy="1737" rx="6.4" ry="5.8" fill="#0A0A0A"/>
<ellipse cx="980.9" cy="1745" rx="6.4" ry="5.8" fill="#0A0A0A"/>
<ellipse cx="980.9" cy="1814.6" rx="6.4" ry="5.8" fill="#0A0A0A"/>
<rect x="991.81" y="1713" width="14.6" height="10.3" fill="none" stroke="#000" stroke-width="2.2" stroke-linejoin="round"/>
<line x1="990.71" y1="1718" x2="1007.51" y2="1718" stroke="#000" stroke-width="5.5" stroke-linecap="butt"/>
<ellipse cx="999.11" cy="1713" rx="6.4" ry="5.8" fill="#0A0A0A"/>
<ellipse cx="999.11" cy="1723.3" rx="6.4" ry="5.8" fill="#0A0A0A"/>
<rect x="1010.03" y="1714" width="14.6" height="6.5" fill="none" stroke="#000" stroke-width="2.2" stroke-linejoin="round"/>
<line x1="1008.93" y1="1717" x2="1025.73" y2="1717" stroke="#000" stroke-width="5.5" stroke-linecap="butt"/>
<ellipse cx="1017.33" cy="1714" rx="6.4" ry="5.8" fill="#0A0A0A"/>
<ellipse cx="1017.33" cy="1720.5" rx="6.4" ry="5.8" fill="#0A0A0A"/>
<rect x="1028.24" y="1711.1" width="14.6" height="10.3" fill="none" stroke="#000" stroke-width="2.2" stroke-linejoin="round"/>
<line x1="1027.14" y1="1716" x2="1043.94" y2="1716" stroke="#000" stroke-width="5.5" stroke-linecap="butt"/>
<ellipse cx="1035.54" cy="1711.1" rx="6.4" ry="5.8" fill="#0A0A0A"/>
<ellipse cx="1035.54" cy="1721.4" rx="6.4" ry="5.8" fill="#0A0A0A"/>
<rect x="1046.45" y="1709.3" width="14.6" height="93.7" fill="none" stroke="#000" stroke-width="2.2" stroke-linejoin="round"/>
<line x1="1045.35" y1="1746.7" x2="1062.15" y2="1746.7" stroke="#000" stroke-width="5.5" stroke-linecap="butt"/>
<ellipse cx="1053.75" cy="1708.9" rx="6.4" ry="5.8" fill="#0A0A0A"/>
<ellipse cx="1053.75" cy="1803" rx="6.4" ry="5.8" fill="#0A0A0A"/>
<rect x="1064.66" y="1699.9" width="14.6" height="11.2" fill="none" stroke="#000" stroke-width="2.2" stroke-linejoin="round"/>
<line x1="1063.56" y1="1705.5" x2="1080.36" y2="1705.5" stroke="#000" stroke-width="5.5" stroke-linecap="butt"/>
<ellipse cx="1071.96" cy="1699.9" rx="6.4" ry="5.8" fill="#0A0A0A"/>
<ellipse cx="1071.96" cy="1711.1" rx="6.4" ry="5.8" fill="#0A0A0A"/>
<line x1="1081.77" y1="1697.6" x2="1098.57" y2="1697.6" stroke="#000" stroke-width="5.5" stroke-linecap="butt"/>
<ellipse cx="1088.37" cy="1697.6" rx="6.4" ry="5.8" fill="#0A0A0A"/>
<ellipse cx="1091.97" cy="1697.6" rx="6.4" ry="5.8" fill="#0A0A0A"/>
<rect x="1101.09" y="1695.2" width="14.6" height="5.6" fill="none" stroke="#000" stroke-width="2.2" stroke-linejoin="round"/>
<line x1="1099.99" y1="1698" x2="1116.79" y2="1698" stroke="#000" stroke-width="5.5" stroke-linecap="butt"/>
<ellipse cx="1108.39" cy="1695.2" rx="6.4" ry="5.8" fill="#0A0A0A"/>
<ellipse cx="1108.39" cy="1700.8" rx="6.4" ry="5.8" fill="#0A0A0A"/>
<line x1="1126.6" y1="1694.2" x2="1126.6" y2="1708.3" stroke="#000" stroke-width="2.2" stroke-dasharray="7.6 12.6" stroke-linecap="round"/>
<line x1="1126.6" y1="1768.8" x2="1126.6" y2="1758.9" stroke="#000" stroke-width="2.2" stroke-dasharray="7.6 12.6" stroke-linecap="round"/>
<rect x="1119.3" y="1708.3" width="14.6" height="50.6" fill="none" stroke="#000" stroke-width="2.2" stroke-linejoin="round"/>
<line x1="1118.2" y1="1737.3" x2="1135" y2="1737.3" stroke="#000" stroke-width="5.5" stroke-linecap="butt"/>
<ellipse cx="1126.6" cy="1694.2" rx="6.4" ry="5.8" fill="#0A0A0A"/>
<ellipse cx="1126.6" cy="1726.1" rx="6.4" ry="5.8" fill="#0A0A0A"/>
<ellipse cx="1126.6" cy="1750.4" rx="6.4" ry="5.8" fill="#0A0A0A"/>
<ellipse cx="1126.6" cy="1768.8" rx="6.4" ry="5.8" fill="#0A0A0A"/>
<rect x="1137.51" y="1692.4" width="14.6" height="11.2" fill="none" stroke="#000" stroke-width="2.2" stroke-linejoin="round"/>
<line x1="1136.41" y1="1698" x2="1153.21" y2="1698" stroke="#000" stroke-width="5.5" stroke-linecap="butt"/>
<ellipse cx="1144.81" cy="1692.4" rx="6.4" ry="5.8" fill="#0A0A0A"/>
<ellipse cx="1144.81" cy="1703.6" rx="6.4" ry="5.8" fill="#0A0A0A"/>
<line x1="1163.02" y1="1707" x2="1163.02" y2="1697" stroke="#000" stroke-width="2.2" stroke-dasharray="7.6 12.6" stroke-linecap="round"/>
<rect x="1155.72" y="1686.7" width="14.6" height="10.3" fill="none" stroke="#000" stroke-width="2.2" stroke-linejoin="round"/>
<line x1="1154.62" y1="1690" x2="1171.42" y2="1690" stroke="#000" stroke-width="5.5" stroke-linecap="butt"/>
<ellipse cx="1163.02" cy="1686.7" rx="6.4" ry="5.8" fill="#0A0A0A"/>
<ellipse cx="1163.02" cy="1707" rx="6.4" ry="5.8" fill="#0A0A0A"/>
<rect x="1173.93" y="1682.1" width="14.6" height="6.5" fill="none" stroke="#000" stroke-width="2.2" stroke-linejoin="round"/>
<line x1="1172.83" y1="1685.3" x2="1189.63" y2="1685.3" stroke="#000" stroke-width="5.5" stroke-linecap="butt"/>
<ellipse cx="1181.23" cy="1682.1" rx="6.4" ry="5.8" fill="#0A0A0A"/>
<ellipse cx="1181.23" cy="1688.6" rx="6.4" ry="5.8" fill="#0A0A0A"/>
<line x1="1191.05" y1="1681.1" x2="1207.85" y2="1681.1" stroke="#000" stroke-width="5.5" stroke-linecap="butt"/>
<ellipse cx="1197.65" cy="1681.1" rx="6.4" ry="5.8" fill="#0A0A0A"/>
<ellipse cx="1201.25" cy="1681.1" rx="6.4" ry="5.8" fill="#0A0A0A"/>
<line x1="1217.66" y1="1673.6" x2="1217.66" y2="1675.5" stroke="#000" stroke-width="2.2" stroke-dasharray="7.6 12.6" stroke-linecap="round"/>
<line x1="1217.66" y1="1700.8" x2="1217.66" y2="1689.6" stroke="#000" stroke-width="2.2" stroke-dasharray="7.6 12.6" stroke-linecap="round"/>
<rect x="1210.36" y="1675.5" width="14.6" height="14.1" fill="none" stroke="#000" stroke-width="2.2" stroke-linejoin="round"/>
<line x1="1209.26" y1="1680" x2="1226.06" y2="1680" stroke="#000" stroke-width="5.5" stroke-linecap="butt"/>
<ellipse cx="1217.66" cy="1673.6" rx="6.4" ry="5.8" fill="#0A0A0A"/>
<ellipse cx="1217.66" cy="1689.6" rx="6.4" ry="5.8" fill="#0A0A0A"/>
<ellipse cx="1217.66" cy="1700.8" rx="6.4" ry="5.8" fill="#0A0A0A"/>
<rect x="1228.57" y="1674.6" width="14.6" height="5.6" fill="none" stroke="#000" stroke-width="2.2" stroke-linejoin="round"/>
<line x1="1227.47" y1="1677" x2="1244.27" y2="1677" stroke="#000" stroke-width="5.5" stroke-linecap="butt"/>
<ellipse cx="1235.87" cy="1674.6" rx="6.4" ry="5.8" fill="#0A0A0A"/>
<ellipse cx="1235.87" cy="1680.2" rx="6.4" ry="5.8" fill="#0A0A0A"/>
<ellipse cx="1235.87" cy="1702.7" rx="6.4" ry="5.8" fill="#0A0A0A"/>
<line x1="1245.68" y1="1672.3" x2="1262.48" y2="1672.3" stroke="#000" stroke-width="5.5" stroke-linecap="butt"/>
<ellipse cx="1252.28" cy="1672.3" rx="6.4" ry="5.8" fill="#0A0A0A"/>
<ellipse cx="1255.88" cy="1672.3" rx="6.4" ry="5.8" fill="#0A0A0A"/>
<rect x="1264.99" y="1663.3" width="14.6" height="8.5" fill="none" stroke="#000" stroke-width="2.2" stroke-linejoin="round"/>
<line x1="1263.89" y1="1667.5" x2="1280.69" y2="1667.5" stroke="#000" stroke-width="5.5" stroke-linecap="butt"/>
<ellipse cx="1272.29" cy="1663.3" rx="6.4" ry="5.8" fill="#0A0A0A"/>
<ellipse cx="1272.29" cy="1671.8" rx="6.4" ry="5.8" fill="#0A0A0A"/>
<line x1="1290.51" y1="1679.3" x2="1290.51" y2="1675.5" stroke="#000" stroke-width="2.2" stroke-dasharray="7.6 12.6" stroke-linecap="round"/>
<rect x="1283.21" y="1669.9" width="14.6" height="5.6" fill="none" stroke="#000" stroke-width="2.2" stroke-linejoin="round"/>
<line x1="1282.11" y1="1672" x2="1298.91" y2="1672" stroke="#000" stroke-width="5.5" stroke-linecap="butt"/>
<ellipse cx="1290.51" cy="1661.5" rx="6.4" ry="5.8" fill="#0A0A0A"/>
<ellipse cx="1290.51" cy="1679.3" rx="6.4" ry="5.8" fill="#0A0A0A"/>
<rect x="1301.42" y="1661.5" width="14.6" height="12.1" fill="none" stroke="#000" stroke-width="2.2" stroke-linejoin="round"/>
<line x1="1300.32" y1="1667.5" x2="1317.12" y2="1667.5" stroke="#000" stroke-width="5.5" stroke-linecap="butt"/>
<ellipse cx="1308.72" cy="1661.5" rx="6.4" ry="5.8" fill="#0A0A0A"/>
<ellipse cx="1308.72" cy="1673.6" rx="6.4" ry="5.8" fill="#0A0A0A"/>
<line x1="1318.53" y1="1651.1" x2="1335.33" y2="1651.1" stroke="#000" stroke-width="5.5" stroke-linecap="butt"/>
<ellipse cx="1325.13" cy="1651.1" rx="6.4" ry="5.8" fill="#0A0A0A"/>
<ellipse cx="1328.73" cy="1651.1" rx="6.4" ry="5.8" fill="#0A0A0A"/>
<rect x="1337.84" y="1651.1" width="14.6" height="7.5" fill="none" stroke="#000" stroke-width="2.2" stroke-linejoin="round"/>
<line x1="1336.74" y1="1655" x2="1353.54" y2="1655" stroke="#000" stroke-width="5.5" stroke-linecap="butt"/>
<ellipse cx="1345.14" cy="1651.1" rx="6.4" ry="5.8" fill="#0A0A0A"/>
<ellipse cx="1345.14" cy="1658.6" rx="6.4" ry="5.8" fill="#0A0A0A"/>
<line x1="1363.35" y1="1743.9" x2="1363.35" y2="1743" stroke="#000" stroke-width="2.2" stroke-dasharray="7.6 12.6" stroke-linecap="round"/>
<rect x="1356.05" y="1642.7" width="14.6" height="100.3" fill="none" stroke="#000" stroke-width="2.2" stroke-linejoin="round"/>
<line x1="1354.95" y1="1683" x2="1371.75" y2="1683" stroke="#000" stroke-width="5.5" stroke-linecap="butt"/>
<ellipse cx="1363.35" cy="1642.7" rx="6.4" ry="5.8" fill="#0A0A0A"/>
<ellipse cx="1363.35" cy="1743.9" rx="6.4" ry="5.8" fill="#0A0A0A"/>
<line x1="1381.57" y1="1635.2" x2="1381.57" y2="1639" stroke="#000" stroke-width="2.2" stroke-dasharray="7.6 12.6" stroke-linecap="round"/>
<line x1="1381.57" y1="1656.8" x2="1381.57" y2="1651.1" stroke="#000" stroke-width="2.2" stroke-dasharray="7.6 12.6" stroke-linecap="round"/>
<rect x="1374.27" y="1639" width="14.6" height="12.1" fill="none" stroke="#000" stroke-width="2.2" stroke-linejoin="round"/>
<line x1="1373.17" y1="1645" x2="1389.97" y2="1645" stroke="#000" stroke-width="5.5" stroke-linecap="butt"/>
<ellipse cx="1381.57" cy="1635.2" rx="6.4" ry="5.8" fill="#0A0A0A"/>
<ellipse cx="1381.57" cy="1656.8" rx="6.4" ry="5.8" fill="#0A0A0A"/>
<line x1="1399.78" y1="1629.3" x2="1399.78" y2="1641.5" stroke="#000" stroke-width="2.2" stroke-dasharray="7.6 12.6" stroke-linecap="round"/>
<rect x="1392.48" y="1641.5" width="14.6" height="25.2" fill="none" stroke="#000" stroke-width="2.2" stroke-linejoin="round"/>
<line x1="1391.38" y1="1663" x2="1408.18" y2="1663" stroke="#000" stroke-width="5.5" stroke-linecap="butt"/>
<ellipse cx="1399.78" cy="1629.3" rx="6.4" ry="5.8" fill="#0A0A0A"/>
<ellipse cx="1399.78" cy="1641.5" rx="6.4" ry="5.8" fill="#0A0A0A"/>
<ellipse cx="1399.78" cy="1663" rx="6.4" ry="5.8" fill="#0A0A0A"/>
<ellipse cx="1399.78" cy="1666" rx="6.4" ry="5.8" fill="#0A0A0A"/>
<line x1="1417.99" y1="1624.6" x2="1417.99" y2="1628.3" stroke="#000" stroke-width="2.2" stroke-dasharray="7.6 12.6" stroke-linecap="round"/>
<line x1="1417.99" y1="1649.9" x2="1417.99" y2="1645.2" stroke="#000" stroke-width="2.2" stroke-dasharray="7.6 12.6" stroke-linecap="round"/>
<rect x="1410.69" y="1628.3" width="14.6" height="16.9" fill="none" stroke="#000" stroke-width="2.2" stroke-linejoin="round"/>
<line x1="1409.59" y1="1636" x2="1426.39" y2="1636" stroke="#000" stroke-width="5.5" stroke-linecap="butt"/>
<ellipse cx="1417.99" cy="1624.6" rx="6.4" ry="5.8" fill="#0A0A0A"/>
<ellipse cx="1417.99" cy="1635" rx="6.4" ry="5.8" fill="#0A0A0A"/>
<ellipse cx="1417.99" cy="1649.9" rx="6.4" ry="5.8" fill="#0A0A0A"/>
<rect x="1428.9" y="1621.8" width="14.6" height="9.3" fill="none" stroke="#000" stroke-width="2.2" stroke-linejoin="round"/>
<line x1="1427.8" y1="1626.5" x2="1444.6" y2="1626.5" stroke="#000" stroke-width="5.5" stroke-linecap="butt"/>
<ellipse cx="1436.2" cy="1621.8" rx="6.4" ry="5.8" fill="#0A0A0A"/>
<ellipse cx="1436.2" cy="1631.1" rx="6.4" ry="5.8" fill="#0A0A0A"/>
<line x1="1454.41" y1="1620.8" x2="1454.41" y2="1633" stroke="#000" stroke-width="2.2" stroke-dasharray="7.6 12.6" stroke-linecap="round"/>
<rect x="1447.11" y="1633" width="14.6" height="11.3" fill="none" stroke="#000" stroke-width="2.2" stroke-linejoin="round"/>
<line x1="1446.01" y1="1638" x2="1462.81" y2="1638" stroke="#000" stroke-width="5.5" stroke-linecap="butt"/>
<ellipse cx="1454.41" cy="1620.8" rx="6.4" ry="5.8" fill="#0A0A0A"/>
<ellipse cx="1454.41" cy="1634.9" rx="6.4" ry="5.8" fill="#0A0A0A"/>
<ellipse cx="1454.41" cy="1644.3" rx="6.4" ry="5.8" fill="#0A0A0A"/>
<rect x="1465.33" y="1621.8" width="14.6" height="8.4" fill="none" stroke="#000" stroke-width="2.2" stroke-linejoin="round"/>
<line x1="1464.23" y1="1626" x2="1481.02" y2="1626" stroke="#000" stroke-width="5.5" stroke-linecap="butt"/>
<ellipse cx="1472.62" cy="1621.8" rx="6.4" ry="5.8" fill="#0A0A0A"/>
<ellipse cx="1472.62" cy="1630.2" rx="6.4" ry="5.8" fill="#0A0A0A"/>
<line x1="1490.84" y1="1609.6" x2="1490.84" y2="1613.3" stroke="#000" stroke-width="2.2" stroke-dasharray="7.6 12.6" stroke-linecap="round"/>
<line x1="1490.84" y1="1663.9" x2="1490.84" y2="1642.4" stroke="#000" stroke-width="2.2" stroke-dasharray="7.6 12.6" stroke-linecap="round"/>
<rect x="1483.54" y="1613.3" width="14.6" height="29.1" fill="none" stroke="#000" stroke-width="2.2" stroke-linejoin="round"/>
<line x1="1482.44" y1="1620" x2="1499.24" y2="1620" stroke="#000" stroke-width="5.5" stroke-linecap="butt"/>
<ellipse cx="1490.84" cy="1609.6" rx="6.4" ry="5.8" fill="#0A0A0A"/>
<ellipse cx="1490.84" cy="1619.9" rx="6.4" ry="5.8" fill="#0A0A0A"/>
<ellipse cx="1490.84" cy="1663.9" rx="6.4" ry="5.8" fill="#0A0A0A"/>
<rect x="1501.75" y="1607.7" width="14.6" height="44.1" fill="none" stroke="#000" stroke-width="2.2" stroke-linejoin="round"/>
<line x1="1500.65" y1="1628.3" x2="1517.45" y2="1628.3" stroke="#000" stroke-width="5.5" stroke-linecap="butt"/>
<ellipse cx="1509.05" cy="1607.7" rx="6.4" ry="5.8" fill="#0A0A0A"/>
<ellipse cx="1509.05" cy="1650.8" rx="6.4" ry="5.8" fill="#0A0A0A"/>
<rect x="1519.96" y="1607.7" width="14.6" height="10.3" fill="none" stroke="#000" stroke-width="2.2" stroke-linejoin="round"/>
<line x1="1518.86" y1="1612.8" x2="1535.66" y2="1612.8" stroke="#000" stroke-width="5.5" stroke-linecap="butt"/>
<ellipse cx="1527.26" cy="1607.7" rx="6.4" ry="5.8" fill="#0A0A0A"/>
<ellipse cx="1527.26" cy="1618" rx="6.4" ry="5.8" fill="#0A0A0A"/>
<rect x="1538.17" y="1604.9" width="14.6" height="7.5" fill="none" stroke="#000" stroke-width="2.2" stroke-linejoin="round"/>
<line x1="1537.07" y1="1608.6" x2="1553.87" y2="1608.6" stroke="#000" stroke-width="5.5" stroke-linecap="butt"/>
<ellipse cx="1545.47" cy="1604.9" rx="6.4" ry="5.8" fill="#0A0A0A"/>
<ellipse cx="1545.47" cy="1612.4" rx="6.4" ry="5.8" fill="#0A0A0A"/>
<line x1="1563.68" y1="1601.2" x2="1563.68" y2="1602.1" stroke="#000" stroke-width="2.2" stroke-dasharray="7.6 12.6" stroke-linecap="round"/>
<rect x="1556.38" y="1602.1" width="14.6" height="23.4" fill="none" stroke="#000" stroke-width="2.2" stroke-linejoin="round"/>
<line x1="1555.28" y1="1612.4" x2="1572.08" y2="1612.4" stroke="#000" stroke-width="5.5" stroke-linecap="butt"/>
<ellipse cx="1563.68" cy="1601.2" rx="6.4" ry="5.8" fill="#0A0A0A"/>
<ellipse cx="1563.68" cy="1625.5" rx="6.4" ry="5.8" fill="#0A0A0A"/>
<rect x="1574.6" y="1600.2" width="14.6" height="5.7" fill="none" stroke="#000" stroke-width="2.2" stroke-linejoin="round"/>
<line x1="1573.5" y1="1603" x2="1590.3" y2="1603" stroke="#000" stroke-width="5.5" stroke-linecap="butt"/>
<ellipse cx="1581.9" cy="1600.2" rx="6.4" ry="5.8" fill="#0A0A0A"/>
<ellipse cx="1581.9" cy="1605.9" rx="6.4" ry="5.8" fill="#0A0A0A"/>
<rect x="1592.81" y="1597.4" width="14.6" height="2.6" fill="none" stroke="#000" stroke-width="2.2" stroke-linejoin="round"/>
<line x1="1591.71" y1="1598.7" x2="1608.51" y2="1598.7" stroke="#000" stroke-width="5.5" stroke-linecap="butt"/>
<ellipse cx="1600.11" cy="1597.4" rx="6.4" ry="5.8" fill="#0A0A0A"/>
<ellipse cx="1600.11" cy="1600" rx="6.4" ry="5.8" fill="#0A0A0A"/>
<line x1="1609.92" y1="1596.5" x2="1626.72" y2="1596.5" stroke="#000" stroke-width="5.5" stroke-linecap="butt"/>
<ellipse cx="1616.52" cy="1596.5" rx="6.4" ry="5.8" fill="#0A0A0A"/>
<ellipse cx="1620.12" cy="1596.5" rx="6.4" ry="5.8" fill="#0A0A0A"/>
<line x1="1628.13" y1="1597.4" x2="1644.93" y2="1597.4" stroke="#000" stroke-width="5.5" stroke-linecap="butt"/>
<ellipse cx="1634.73" cy="1597.4" rx="6.4" ry="5.8" fill="#0A0A0A"/>
<ellipse cx="1638.33" cy="1597.4" rx="6.4" ry="5.8" fill="#0A0A0A"/>
<rect x="1647.44" y="1595.5" width="14.6" height="7.5" fill="none" stroke="#000" stroke-width="2.2" stroke-linejoin="round"/>
<line x1="1646.34" y1="1599" x2="1663.14" y2="1599" stroke="#000" stroke-width="5.5" stroke-linecap="butt"/>
<ellipse cx="1654.74" cy="1595.5" rx="6.4" ry="5.8" fill="#0A0A0A"/>
<ellipse cx="1654.74" cy="1603" rx="6.4" ry="5.8" fill="#0A0A0A"/>
<line x1="1672.96" y1="1591.8" x2="1672.96" y2="1596.5" stroke="#000" stroke-width="2.2" stroke-dasharray="7.6 12.6" stroke-linecap="round"/>
<rect x="1665.66" y="1596.5" width="14.6" height="92.7" fill="none" stroke="#000" stroke-width="2.2" stroke-linejoin="round"/>
<line x1="1664.56" y1="1600" x2="1681.36" y2="1600" stroke="#000" stroke-width="5.5" stroke-linecap="butt"/>
<ellipse cx="1672.96" cy="1591.8" rx="6.4" ry="5.8" fill="#0A0A0A"/>
<ellipse cx="1672.96" cy="1602.1" rx="6.4" ry="5.8" fill="#0A0A0A"/>
<rect x="1683.87" y="1581.5" width="14.6" height="6.5" fill="none" stroke="#000" stroke-width="2.2" stroke-linejoin="round"/>
<line x1="1682.77" y1="1584.7" x2="1699.57" y2="1584.7" stroke="#000" stroke-width="5.5" stroke-linecap="butt"/>
<ellipse cx="1691.17" cy="1581.5" rx="6.4" ry="5.8" fill="#0A0A0A"/>
<ellipse cx="1691.17" cy="1588" rx="6.4" ry="5.8" fill="#0A0A0A"/>
<rect x="1702.08" y="1573.3" width="14.6" height="7.1" fill="none" stroke="#000" stroke-width="2.2" stroke-linejoin="round"/>
<line x1="1700.98" y1="1576.8" x2="1717.78" y2="1576.8" stroke="#000" stroke-width="5.5" stroke-linecap="butt"/>
<ellipse cx="1709.38" cy="1573.3" rx="6.4" ry="5.8" fill="#0A0A0A"/>
<ellipse cx="1709.38" cy="1580.4" rx="6.4" ry="5.8" fill="#0A0A0A"/>
<line x1="1719.19" y1="1567.1" x2="1735.99" y2="1567.1" stroke="#000" stroke-width="5.5" stroke-linecap="butt"/>
<ellipse cx="1725.79" cy="1567.1" rx="6.4" ry="5.8" fill="#0A0A0A"/>
<ellipse cx="1729.39" cy="1567.1" rx="6.4" ry="5.8" fill="#0A0A0A"/>
<line x1="1745.8" y1="1564.8" x2="1745.8" y2="1571.9" stroke="#000" stroke-width="2.2" stroke-dasharray="7.6 12.6" stroke-linecap="round"/>
<line x1="1745.8" y1="1590.4" x2="1745.8" y2="1584.7" stroke="#000" stroke-width="2.2" stroke-dasharray="7.6 12.6" stroke-linecap="round"/>
<rect x="1738.5" y="1571.9" width="14.6" height="12.8" fill="none" stroke="#000" stroke-width="2.2" stroke-linejoin="round"/>
<line x1="1737.4" y1="1579" x2="1754.2" y2="1579" stroke="#000" stroke-width="5.5" stroke-linecap="butt"/>
<ellipse cx="1745.8" cy="1564.8" rx="6.4" ry="5.8" fill="#0A0A0A"/>
<ellipse cx="1745.8" cy="1579" rx="6.4" ry="5.8" fill="#0A0A0A"/>
<ellipse cx="1745.8" cy="1590.4" rx="6.4" ry="5.8" fill="#0A0A0A"/>
<line x1="1764.02" y1="1560" x2="1764.02" y2="1560.6" stroke="#000" stroke-width="2.2" stroke-dasharray="7.6 12.6" stroke-linecap="round"/>
<line x1="1764.02" y1="1594.6" x2="1764.02" y2="1576.2" stroke="#000" stroke-width="2.2" stroke-dasharray="7.6 12.6" stroke-linecap="round"/>
<rect x="1756.72" y="1560.6" width="14.6" height="15.6" fill="none" stroke="#000" stroke-width="2.2" stroke-linejoin="round"/>
<line x1="1755.62" y1="1565" x2="1772.42" y2="1565" stroke="#000" stroke-width="5.5" stroke-linecap="butt"/>
<ellipse cx="1764.02" cy="1560" rx="6.4" ry="5.8" fill="#0A0A0A"/>
<ellipse cx="1764.02" cy="1594.6" rx="6.4" ry="5.8" fill="#0A0A0A"/>
<line x1="1782.23" y1="1553.5" x2="1782.23" y2="1603.2" stroke="#000" stroke-width="2.2" stroke-dasharray="7.6 12.6" stroke-linecap="round"/>
<line x1="1782.23" y1="1777.2" x2="1782.23" y2="1725.3" stroke="#000" stroke-width="2.2" stroke-dasharray="7.6 12.6" stroke-linecap="round"/>
<rect x="1774.93" y="1603.2" width="14.6" height="122.1" fill="none" stroke="#000" stroke-width="2.2" stroke-linejoin="round"/>
<line x1="1773.83" y1="1688.3" x2="1790.63" y2="1688.3" stroke="#000" stroke-width="5.5" stroke-linecap="butt"/>
<ellipse cx="1782.23" cy="1553.5" rx="6.4" ry="5.8" fill="#0A0A0A"/>
<ellipse cx="1782.23" cy="1688.3" rx="6.4" ry="5.8" fill="#0A0A0A"/>
<ellipse cx="1782.23" cy="1777.2" rx="6.4" ry="5.8" fill="#0A0A0A"/>
<line x1="1792.04" y1="1552.6" x2="1808.84" y2="1552.6" stroke="#000" stroke-width="5.5" stroke-linecap="butt"/>
<ellipse cx="1798.64" cy="1552.6" rx="6.4" ry="5.8" fill="#0A0A0A"/>
<ellipse cx="1802.24" cy="1552.6" rx="6.4" ry="5.8" fill="#0A0A0A"/>
<line x1="1810.25" y1="1520.8" x2="1827.05" y2="1520.8" stroke="#000" stroke-width="5.5" stroke-linecap="butt"/>
<ellipse cx="1816.85" cy="1520.8" rx="6.4" ry="5.8" fill="#0A0A0A"/>
<ellipse cx="1820.45" cy="1520.8" rx="6.4" ry="5.8" fill="#0A0A0A"/>
<rect x="1829.56" y="1519.4" width="14.6" height="14.2" fill="none" stroke="#000" stroke-width="2.2" stroke-linejoin="round"/>
<line x1="1828.46" y1="1526" x2="1845.26" y2="1526" stroke="#000" stroke-width="5.5" stroke-linecap="butt"/>
<ellipse cx="1836.86" cy="1519.4" rx="6.4" ry="5.8" fill="#0A0A0A"/>
<ellipse cx="1836.86" cy="1526" rx="6.4" ry="5.8" fill="#0A0A0A"/>
<ellipse cx="1836.86" cy="1533.6" rx="6.4" ry="5.8" fill="#0A0A0A"/>
<line x1="1846.68" y1="1504.6" x2="1863.48" y2="1504.6" stroke="#000" stroke-width="5.5" stroke-linecap="butt"/>
<ellipse cx="1853.28" cy="1504.6" rx="6.4" ry="5.8" fill="#0A0A0A"/>
<ellipse cx="1856.88" cy="1504.6" rx="6.4" ry="5.8" fill="#0A0A0A"/>
<line x1="1864.89" y1="1497.2" x2="1881.69" y2="1497.2" stroke="#000" stroke-width="5.5" stroke-linecap="butt"/>
<ellipse cx="1871.49" cy="1497.2" rx="6.4" ry="5.8" fill="#0A0A0A"/>
<ellipse cx="1875.09" cy="1497.2" rx="6.4" ry="5.8" fill="#0A0A0A"/>
<rect x="1884.2" y="1462.6" width="14.6" height="53.1" fill="none" stroke="#000" stroke-width="2.2" stroke-linejoin="round"/>
<line x1="1883.1" y1="1486.2" x2="1899.9" y2="1486.2" stroke="#000" stroke-width="5.5" stroke-linecap="butt"/>
<ellipse cx="1891.5" cy="1462.6" rx="6.4" ry="5.8" fill="#0A0A0A"/>
<ellipse cx="1891.5" cy="1515.7" rx="6.4" ry="5.8" fill="#0A0A0A"/>
<line x1="214.8" y1="2132.2" x2="1892.7" y2="2132.2" stroke="#000" stroke-width="2.4" stroke-linecap="butt"/>
<line x1="216" y1="2132.2" x2="216" y2="2146.5" stroke="#000" stroke-width="2.4" stroke-linecap="butt"/>
<line x1="234.21" y1="2132.2" x2="234.21" y2="2146.5" stroke="#000" stroke-width="2.4" stroke-linecap="butt"/>
<line x1="252.42" y1="2132.2" x2="252.42" y2="2146.5" stroke="#000" stroke-width="2.4" stroke-linecap="butt"/>
<line x1="270.64" y1="2132.2" x2="270.64" y2="2146.5" stroke="#000" stroke-width="2.4" stroke-linecap="butt"/>
<line x1="288.85" y1="2132.2" x2="288.85" y2="2146.5" stroke="#000" stroke-width="2.4" stroke-linecap="butt"/>
<line x1="307.06" y1="2132.2" x2="307.06" y2="2146.5" stroke="#000" stroke-width="2.4" stroke-linecap="butt"/>
<line x1="325.27" y1="2132.2" x2="325.27" y2="2146.5" stroke="#000" stroke-width="2.4" stroke-linecap="butt"/>
<line x1="343.48" y1="2132.2" x2="343.48" y2="2146.5" stroke="#000" stroke-width="2.4" stroke-linecap="butt"/>
<line x1="361.7" y1="2132.2" x2="361.7" y2="2146.5" stroke="#000" stroke-width="2.4" stroke-linecap="butt"/>
<line x1="379.91" y1="2132.2" x2="379.91" y2="2146.5" stroke="#000" stroke-width="2.4" stroke-linecap="butt"/>
<line x1="398.12" y1="2132.2" x2="398.12" y2="2146.5" stroke="#000" stroke-width="2.4" stroke-linecap="butt"/>
<line x1="416.33" y1="2132.2" x2="416.33" y2="2146.5" stroke="#000" stroke-width="2.4" stroke-linecap="butt"/>
<line x1="434.54" y1="2132.2" x2="434.54" y2="2146.5" stroke="#000" stroke-width="2.4" stroke-linecap="butt"/>
<line x1="452.76" y1="2132.2" x2="452.76" y2="2146.5" stroke="#000" stroke-width="2.4" stroke-linecap="butt"/>
<line x1="470.97" y1="2132.2" x2="470.97" y2="2146.5" stroke="#000" stroke-width="2.4" stroke-linecap="butt"/>
<line x1="489.18" y1="2132.2" x2="489.18" y2="2146.5" stroke="#000" stroke-width="2.4" stroke-linecap="butt"/>
<line x1="507.39" y1="2132.2" x2="507.39" y2="2146.5" stroke="#000" stroke-width="2.4" stroke-linecap="butt"/>
<line x1="525.6" y1="2132.2" x2="525.6" y2="2146.5" stroke="#000" stroke-width="2.4" stroke-linecap="butt"/>
<line x1="543.82" y1="2132.2" x2="543.82" y2="2146.5" stroke="#000" stroke-width="2.4" stroke-linecap="butt"/>
<line x1="562.03" y1="2132.2" x2="562.03" y2="2146.5" stroke="#000" stroke-width="2.4" stroke-linecap="butt"/>
<line x1="580.24" y1="2132.2" x2="580.24" y2="2146.5" stroke="#000" stroke-width="2.4" stroke-linecap="butt"/>
<line x1="598.45" y1="2132.2" x2="598.45" y2="2146.5" stroke="#000" stroke-width="2.4" stroke-linecap="butt"/>
<line x1="616.66" y1="2132.2" x2="616.66" y2="2146.5" stroke="#000" stroke-width="2.4" stroke-linecap="butt"/>
<line x1="634.88" y1="2132.2" x2="634.88" y2="2146.5" stroke="#000" stroke-width="2.4" stroke-linecap="butt"/>
<line x1="653.09" y1="2132.2" x2="653.09" y2="2146.5" stroke="#000" stroke-width="2.4" stroke-linecap="butt"/>
<line x1="671.3" y1="2132.2" x2="671.3" y2="2146.5" stroke="#000" stroke-width="2.4" stroke-linecap="butt"/>
<line x1="689.51" y1="2132.2" x2="689.51" y2="2146.5" stroke="#000" stroke-width="2.4" stroke-linecap="butt"/>
<line x1="707.72" y1="2132.2" x2="707.72" y2="2146.5" stroke="#000" stroke-width="2.4" stroke-linecap="butt"/>
<line x1="725.93" y1="2132.2" x2="725.93" y2="2146.5" stroke="#000" stroke-width="2.4" stroke-linecap="butt"/>
<line x1="744.15" y1="2132.2" x2="744.15" y2="2146.5" stroke="#000" stroke-width="2.4" stroke-linecap="butt"/>
<line x1="762.36" y1="2132.2" x2="762.36" y2="2146.5" stroke="#000" stroke-width="2.4" stroke-linecap="butt"/>
<line x1="780.57" y1="2132.2" x2="780.57" y2="2146.5" stroke="#000" stroke-width="2.4" stroke-linecap="butt"/>
<line x1="798.78" y1="2132.2" x2="798.78" y2="2146.5" stroke="#000" stroke-width="2.4" stroke-linecap="butt"/>
<line x1="816.99" y1="2132.2" x2="816.99" y2="2146.5" stroke="#000" stroke-width="2.4" stroke-linecap="butt"/>
<line x1="835.21" y1="2132.2" x2="835.21" y2="2146.5" stroke="#000" stroke-width="2.4" stroke-linecap="butt"/>
<line x1="853.42" y1="2132.2" x2="853.42" y2="2146.5" stroke="#000" stroke-width="2.4" stroke-linecap="butt"/>
<line x1="871.63" y1="2132.2" x2="871.63" y2="2146.5" stroke="#000" stroke-width="2.4" stroke-linecap="butt"/>
<line x1="889.84" y1="2132.2" x2="889.84" y2="2146.5" stroke="#000" stroke-width="2.4" stroke-linecap="butt"/>
<line x1="908.05" y1="2132.2" x2="908.05" y2="2146.5" stroke="#000" stroke-width="2.4" stroke-linecap="butt"/>
<line x1="926.27" y1="2132.2" x2="926.27" y2="2146.5" stroke="#000" stroke-width="2.4" stroke-linecap="butt"/>
<line x1="944.48" y1="2132.2" x2="944.48" y2="2146.5" stroke="#000" stroke-width="2.4" stroke-linecap="butt"/>
<line x1="962.69" y1="2132.2" x2="962.69" y2="2146.5" stroke="#000" stroke-width="2.4" stroke-linecap="butt"/>
<line x1="980.9" y1="2132.2" x2="980.9" y2="2146.5" stroke="#000" stroke-width="2.4" stroke-linecap="butt"/>
<line x1="999.11" y1="2132.2" x2="999.11" y2="2146.5" stroke="#000" stroke-width="2.4" stroke-linecap="butt"/>
<line x1="1017.33" y1="2132.2" x2="1017.33" y2="2146.5" stroke="#000" stroke-width="2.4" stroke-linecap="butt"/>
<line x1="1035.54" y1="2132.2" x2="1035.54" y2="2146.5" stroke="#000" stroke-width="2.4" stroke-linecap="butt"/>
<line x1="1053.75" y1="2132.2" x2="1053.75" y2="2146.5" stroke="#000" stroke-width="2.4" stroke-linecap="butt"/>
<line x1="1071.96" y1="2132.2" x2="1071.96" y2="2146.5" stroke="#000" stroke-width="2.4" stroke-linecap="butt"/>
<line x1="1090.17" y1="2132.2" x2="1090.17" y2="2146.5" stroke="#000" stroke-width="2.4" stroke-linecap="butt"/>
<line x1="1108.39" y1="2132.2" x2="1108.39" y2="2146.5" stroke="#000" stroke-width="2.4" stroke-linecap="butt"/>
<line x1="1126.6" y1="2132.2" x2="1126.6" y2="2146.5" stroke="#000" stroke-width="2.4" stroke-linecap="butt"/>
<line x1="1144.81" y1="2132.2" x2="1144.81" y2="2146.5" stroke="#000" stroke-width="2.4" stroke-linecap="butt"/>
<line x1="1163.02" y1="2132.2" x2="1163.02" y2="2146.5" stroke="#000" stroke-width="2.4" stroke-linecap="butt"/>
<line x1="1181.23" y1="2132.2" x2="1181.23" y2="2146.5" stroke="#000" stroke-width="2.4" stroke-linecap="butt"/>
<line x1="1199.45" y1="2132.2" x2="1199.45" y2="2146.5" stroke="#000" stroke-width="2.4" stroke-linecap="butt"/>
<line x1="1217.66" y1="2132.2" x2="1217.66" y2="2146.5" stroke="#000" stroke-width="2.4" stroke-linecap="butt"/>
<line x1="1235.87" y1="2132.2" x2="1235.87" y2="2146.5" stroke="#000" stroke-width="2.4" stroke-linecap="butt"/>
<line x1="1254.08" y1="2132.2" x2="1254.08" y2="2146.5" stroke="#000" stroke-width="2.4" stroke-linecap="butt"/>
<line x1="1272.29" y1="2132.2" x2="1272.29" y2="2146.5" stroke="#000" stroke-width="2.4" stroke-linecap="butt"/>
<line x1="1290.51" y1="2132.2" x2="1290.51" y2="2146.5" stroke="#000" stroke-width="2.4" stroke-linecap="butt"/>
<line x1="1308.72" y1="2132.2" x2="1308.72" y2="2146.5" stroke="#000" stroke-width="2.4" stroke-linecap="butt"/>
<line x1="1326.93" y1="2132.2" x2="1326.93" y2="2146.5" stroke="#000" stroke-width="2.4" stroke-linecap="butt"/>
<line x1="1345.14" y1="2132.2" x2="1345.14" y2="2146.5" stroke="#000" stroke-width="2.4" stroke-linecap="butt"/>
<line x1="1363.35" y1="2132.2" x2="1363.35" y2="2146.5" stroke="#000" stroke-width="2.4" stroke-linecap="butt"/>
<line x1="1381.57" y1="2132.2" x2="1381.57" y2="2146.5" stroke="#000" stroke-width="2.4" stroke-linecap="butt"/>
<line x1="1399.78" y1="2132.2" x2="1399.78" y2="2146.5" stroke="#000" stroke-width="2.4" stroke-linecap="butt"/>
<line x1="1417.99" y1="2132.2" x2="1417.99" y2="2146.5" stroke="#000" stroke-width="2.4" stroke-linecap="butt"/>
<line x1="1436.2" y1="2132.2" x2="1436.2" y2="2146.5" stroke="#000" stroke-width="2.4" stroke-linecap="butt"/>
<line x1="1454.41" y1="2132.2" x2="1454.41" y2="2146.5" stroke="#000" stroke-width="2.4" stroke-linecap="butt"/>
<line x1="1472.62" y1="2132.2" x2="1472.62" y2="2146.5" stroke="#000" stroke-width="2.4" stroke-linecap="butt"/>
<line x1="1490.84" y1="2132.2" x2="1490.84" y2="2146.5" stroke="#000" stroke-width="2.4" stroke-linecap="butt"/>
<line x1="1509.05" y1="2132.2" x2="1509.05" y2="2146.5" stroke="#000" stroke-width="2.4" stroke-linecap="butt"/>
<line x1="1527.26" y1="2132.2" x2="1527.26" y2="2146.5" stroke="#000" stroke-width="2.4" stroke-linecap="butt"/>
<line x1="1545.47" y1="2132.2" x2="1545.47" y2="2146.5" stroke="#000" stroke-width="2.4" stroke-linecap="butt"/>
<line x1="1563.68" y1="2132.2" x2="1563.68" y2="2146.5" stroke="#000" stroke-width="2.4" stroke-linecap="butt"/>
<line x1="1581.9" y1="2132.2" x2="1581.9" y2="2146.5" stroke="#000" stroke-width="2.4" stroke-linecap="butt"/>
<line x1="1600.11" y1="2132.2" x2="1600.11" y2="2146.5" stroke="#000" stroke-width="2.4" stroke-linecap="butt"/>
<line x1="1618.32" y1="2132.2" x2="1618.32" y2="2146.5" stroke="#000" stroke-width="2.4" stroke-linecap="butt"/>
<line x1="1636.53" y1="2132.2" x2="1636.53" y2="2146.5" stroke="#000" stroke-width="2.4" stroke-linecap="butt"/>
<line x1="1654.74" y1="2132.2" x2="1654.74" y2="2146.5" stroke="#000" stroke-width="2.4" stroke-linecap="butt"/>
<line x1="1672.96" y1="2132.2" x2="1672.96" y2="2146.5" stroke="#000" stroke-width="2.4" stroke-linecap="butt"/>
<line x1="1691.17" y1="2132.2" x2="1691.17" y2="2146.5" stroke="#000" stroke-width="2.4" stroke-linecap="butt"/>
<line x1="1709.38" y1="2132.2" x2="1709.38" y2="2146.5" stroke="#000" stroke-width="2.4" stroke-linecap="butt"/>
<line x1="1727.59" y1="2132.2" x2="1727.59" y2="2146.5" stroke="#000" stroke-width="2.4" stroke-linecap="butt"/>
<line x1="1745.8" y1="2132.2" x2="1745.8" y2="2146.5" stroke="#000" stroke-width="2.4" stroke-linecap="butt"/>
<line x1="1764.02" y1="2132.2" x2="1764.02" y2="2146.5" stroke="#000" stroke-width="2.4" stroke-linecap="butt"/>
<line x1="1782.23" y1="2132.2" x2="1782.23" y2="2146.5" stroke="#000" stroke-width="2.4" stroke-linecap="butt"/>
<line x1="1800.44" y1="2132.2" x2="1800.44" y2="2146.5" stroke="#000" stroke-width="2.4" stroke-linecap="butt"/>
<line x1="1818.65" y1="2132.2" x2="1818.65" y2="2146.5" stroke="#000" stroke-width="2.4" stroke-linecap="butt"/>
<line x1="1836.86" y1="2132.2" x2="1836.86" y2="2146.5" stroke="#000" stroke-width="2.4" stroke-linecap="butt"/>
<line x1="1855.08" y1="2132.2" x2="1855.08" y2="2146.5" stroke="#000" stroke-width="2.4" stroke-linecap="butt"/>
<line x1="1873.29" y1="2132.2" x2="1873.29" y2="2146.5" stroke="#000" stroke-width="2.4" stroke-linecap="butt"/>
<line x1="1891.5" y1="2132.2" x2="1891.5" y2="2146.5" stroke="#000" stroke-width="2.4" stroke-linecap="butt"/>
<rect x="207.2" y="2160.6" width="13.8" height="20.4" fill="#DDF0F9"/>
<rect x="225.46" y="2160.6" width="13.8" height="20.4" fill="#DDF0F9"/>
<rect x="243.72" y="2160.6" width="13.8" height="20.4" fill="#DDF0F9"/>
<rect x="261.98" y="2160.6" width="13.8" height="20.4" fill="#DDF0F9"/>
<rect x="280.24" y="2160.6" width="13.8" height="20.4" fill="#DDF0F9"/>
<rect x="298.5" y="2160.6" width="13.8" height="20.4" fill="#DDF0F9"/>
<rect x="316.76" y="2160.6" width="13.8" height="20.4" fill="#DDF0F9"/>
<rect x="335.02" y="2160.6" width="13.8" height="20.4" fill="#DDF0F9"/>
<rect x="353.28" y="2160.6" width="13.8" height="20.4" fill="#DDF0F9"/>
<rect x="371.54" y="2160.6" width="13.8" height="20.4" fill="#DDF0F9"/>
<rect x="389.8" y="2160.6" width="13.8" height="20.4" fill="#DDF0F9"/>
<rect x="408.06" y="2160.6" width="13.8" height="20.4" fill="#DDF0F9"/>
<rect x="426.32" y="2160.6" width="13.8" height="20.4" fill="#DDF0F9"/>
<rect x="444.58" y="2160.6" width="13.8" height="20.4" fill="#DDF0F9"/>
<rect x="462.84" y="2160.6" width="13.8" height="20.4" fill="#DDF0F9"/>
<rect x="481.1" y="2160.6" width="13.8" height="20.4" fill="#DDF0F9"/>
<rect x="499.36" y="2160.6" width="13.8" height="20.4" fill="#DDF0F9"/>
<rect x="517.62" y="2160.6" width="13.8" height="20.4" fill="#DDF0F9"/>
<rect x="535.88" y="2160.6" width="13.8" height="20.4" fill="#DDF0F9"/>
<rect x="554.14" y="2160.6" width="13.8" height="20.4" fill="#DDF0F9"/>
<rect x="572.4" y="2160.6" width="13.8" height="20.4" fill="#DDF0F9"/>
<rect x="590.66" y="2160.6" width="13.8" height="20.4" fill="#DDF0F9"/>
<rect x="608.92" y="2160.6" width="13.8" height="20.4" fill="#DDF0F9"/>
<rect x="627.17" y="2160.6" width="13.8" height="20.4" fill="#DDF0F9"/>
<rect x="645.43" y="2160.6" width="13.8" height="20.4" fill="#DDF0F9"/>
<rect x="663.69" y="2160.6" width="13.8" height="20.4" fill="#DDF0F9"/>
<rect x="681.95" y="2160.6" width="13.8" height="20.4" fill="#DDF0F9"/>
<rect x="700.21" y="2160.6" width="13.8" height="20.4" fill="#DDF0F9"/>
<rect x="718.47" y="2160.6" width="13.8" height="20.4" fill="#DDF0F9"/>
<rect x="736.73" y="2160.6" width="13.8" height="20.4" fill="#DDF0F9"/>
<rect x="754.99" y="2160.6" width="13.8" height="20.4" fill="#DDF0F9"/>
<rect x="773.25" y="2160.6" width="13.8" height="20.4" fill="#DDF0F9"/>
<rect x="791.51" y="2160.6" width="13.8" height="20.4" fill="#DDF0F9"/>
<rect x="809.77" y="2160.6" width="13.8" height="20.4" fill="#DDF0F9"/>
<rect x="828.03" y="2160.6" width="13.8" height="20.4" fill="#DDF0F9"/>
<rect x="846.29" y="2160.6" width="13.8" height="20.4" fill="#DDF0F9"/>
<rect x="864.55" y="2160.6" width="13.8" height="20.4" fill="#DE9C2F"/>
<rect x="882.81" y="2160.6" width="13.8" height="20.4" fill="#DE9C2F"/>
<rect x="901.07" y="2160.6" width="13.8" height="20.4" fill="#DE9C2F"/>
<rect x="919.33" y="2160.6" width="13.8" height="20.4" fill="#4575B5"/>
<rect x="937.59" y="2160.6" width="13.8" height="20.4" fill="#DE9C2F"/>
<rect x="955.85" y="2160.6" width="13.8" height="20.4" fill="#DE9C2F"/>
<rect x="974.11" y="2160.6" width="13.8" height="20.4" fill="#DE9C2F"/>
<rect x="992.37" y="2160.6" width="13.8" height="20.4" fill="#4575B5"/>
<rect x="1010.63" y="2160.6" width="13.8" height="20.4" fill="#4575B5"/>
<rect x="1028.89" y="2160.6" width="13.8" height="20.4" fill="#4575B5"/>
<rect x="1047.15" y="2160.6" width="13.8" height="20.4" fill="#DE9C2F"/>
<rect x="1065.41" y="2160.6" width="13.8" height="20.4" fill="#4575B5"/>
<rect x="1083.67" y="2160.6" width="13.8" height="20.4" fill="#4575B5"/>
<rect x="1101.93" y="2160.6" width="13.8" height="20.4" fill="#4575B5"/>
<rect x="1120.19" y="2160.6" width="13.8" height="20.4" fill="#DE9C2F"/>
<rect x="1138.45" y="2160.6" width="13.8" height="20.4" fill="#4575B5"/>
<rect x="1156.71" y="2160.6" width="13.8" height="20.4" fill="#4575B5"/>
<rect x="1174.97" y="2160.6" width="13.8" height="20.4" fill="#4575B5"/>
<rect x="1193.23" y="2160.6" width="13.8" height="20.4" fill="#4575B5"/>
<rect x="1211.49" y="2160.6" width="13.8" height="20.4" fill="#4575B5"/>
<rect x="1229.75" y="2160.6" width="13.8" height="20.4" fill="#4575B5"/>
<rect x="1248.01" y="2160.6" width="13.8" height="20.4" fill="#4575B5"/>
<rect x="1266.27" y="2160.6" width="13.8" height="20.4" fill="#4575B5"/>
<rect x="1284.53" y="2160.6" width="13.8" height="20.4" fill="#4575B5"/>
<rect x="1302.79" y="2160.6" width="13.8" height="20.4" fill="#4575B5"/>
<rect x="1321.05" y="2160.6" width="13.8" height="20.4" fill="#4575B5"/>
<rect x="1339.31" y="2160.6" width="13.8" height="20.4" fill="#4575B5"/>
<rect x="1357.57" y="2160.6" width="13.8" height="20.4" fill="#DE9C2F"/>
<rect x="1375.83" y="2160.6" width="13.8" height="20.4" fill="#4575B5"/>
<rect x="1394.09" y="2160.6" width="13.8" height="20.4" fill="#DE9C2F"/>
<rect x="1412.35" y="2160.6" width="13.8" height="20.4" fill="#4575B5"/>
<rect x="1430.61" y="2160.6" width="13.8" height="20.4" fill="#4575B5"/>
<rect x="1448.87" y="2160.6" width="13.8" height="20.4" fill="#4575B5"/>
<rect x="1467.12" y="2160.6" width="13.8" height="20.4" fill="#4575B5"/>
<rect x="1485.38" y="2160.6" width="13.8" height="20.4" fill="#4575B5"/>
<rect x="1503.64" y="2160.6" width="13.8" height="20.4" fill="#4575B5"/>
<rect x="1521.9" y="2160.6" width="13.8" height="20.4" fill="#4575B5"/>
<rect x="1540.16" y="2160.6" width="13.8" height="20.4" fill="#4575B5"/>
<rect x="1558.42" y="2160.6" width="13.8" height="20.4" fill="#4575B5"/>
<rect x="1576.68" y="2160.6" width="13.8" height="20.4" fill="#4575B5"/>
<rect x="1594.94" y="2160.6" width="13.8" height="20.4" fill="#4575B5"/>
<rect x="1613.2" y="2160.6" width="13.8" height="20.4" fill="#4575B5"/>
<rect x="1631.46" y="2160.6" width="13.8" height="20.4" fill="#4575B5"/>
<rect x="1649.72" y="2160.6" width="13.8" height="20.4" fill="#4575B5"/>
<rect x="1667.98" y="2160.6" width="13.8" height="20.4" fill="#DE9C2F"/>
<rect x="1686.24" y="2160.6" width="13.8" height="20.4" fill="#4575B5"/>
<rect x="1704.5" y="2160.6" width="13.8" height="20.4" fill="#4575B5"/>
<rect x="1722.76" y="2160.6" width="13.8" height="20.4" fill="#4575B5"/>
<rect x="1741.02" y="2160.6" width="13.8" height="20.4" fill="#4575B5"/>
<rect x="1759.28" y="2160.6" width="13.8" height="20.4" fill="#4575B5"/>
<rect x="1777.54" y="2160.6" width="13.8" height="20.4" fill="#DE9C2F"/>
<rect x="1795.8" y="2160.6" width="13.8" height="20.4" fill="#4575B5"/>
<rect x="1814.06" y="2160.6" width="13.8" height="20.4" fill="#4575B5"/>
<rect x="1832.32" y="2160.6" width="13.8" height="20.4" fill="#4575B5"/>
<rect x="1850.58" y="2160.6" width="13.8" height="20.4" fill="#4575B5"/>
<rect x="1868.84" y="2160.6" width="13.8" height="20.4" fill="#4575B5"/>
<rect x="1887.1" y="2160.6" width="13.8" height="20.4" fill="#4575B5"/>
<text x="57" y="2172.3" font-size="23.2" text-anchor="start" fill="#000">TMB +</text>
<text x="0" y="2225.4" font-size="40" text-anchor="start" font-weight="bold" fill="#000">f</text>
<rect x="141.4" y="2217.5" width="13.8" height="24.2" fill="#8E181B"/>
<rect x="159.53" y="2217.5" width="13.8" height="24.2" fill="#272C7E"/>
<rect x="177.65" y="2217.5" width="13.8" height="24.2" fill="#272C7E"/>
<rect x="195.78" y="2217.5" width="13.8" height="24.2" fill="#272C7E"/>
<rect x="213.9" y="2217.5" width="13.8" height="24.2" fill="#8E181B"/>
<rect x="232.03" y="2217.5" width="13.8" height="24.2" fill="#272C7E"/>
<rect x="250.16" y="2217.5" width="13.8" height="24.2" fill="#272C7E"/>
<rect x="268.28" y="2217.5" width="13.8" height="24.2" fill="#8E181B"/>
<rect x="286.41" y="2217.5" width="13.8" height="24.2" fill="#272C7E"/>
<rect x="304.53" y="2217.5" width="13.8" height="24.2" fill="#8E181B"/>
<rect x="322.66" y="2217.5" width="13.8" height="24.2" fill="#272C7E"/>
<rect x="340.79" y="2217.5" width="13.8" height="24.2" fill="#272C7E"/>
<rect x="358.91" y="2217.5" width="13.8" height="24.2" fill="#8E181B"/>
<rect x="377.04" y="2217.5" width="13.8" height="24.2" fill="#8E181B"/>
<rect x="395.17" y="2217.5" width="13.8" height="24.2" fill="#8E181B"/>
<rect x="413.29" y="2217.5" width="13.8" height="24.2" fill="#8E181B"/>
<rect x="431.42" y="2217.5" width="13.8" height="24.2" fill="#272C7E"/>
<rect x="449.54" y="2217.5" width="13.8" height="24.2" fill="#272C7E"/>
<rect x="467.67" y="2217.5" width="13.8" height="24.2" fill="#272C7E"/>
<rect x="485.8" y="2217.5" width="13.8" height="24.2" fill="#272C7E"/>
<rect x="503.92" y="2217.5" width="13.8" height="24.2" fill="#8E181B"/>
<rect x="522.05" y="2217.5" width="13.8" height="24.2" fill="#272C7E"/>
<rect x="540.17" y="2217.5" width="13.8" height="24.2" fill="#8E181B"/>
<rect x="558.3" y="2217.5" width="13.8" height="24.2" fill="#8E181B"/>
<rect x="576.43" y="2217.5" width="13.8" height="24.2" fill="#8E181B"/>
<rect x="594.55" y="2217.5" width="13.8" height="24.2" fill="#272C7E"/>
<rect x="612.68" y="2217.5" width="13.8" height="24.2" fill="#8E181B"/>
<rect x="630.8" y="2217.5" width="13.8" height="24.2" fill="#272C7E"/>
<rect x="648.93" y="2217.5" width="13.8" height="24.2" fill="#272C7E"/>
<rect x="667.06" y="2217.5" width="13.8" height="24.2" fill="#8E181B"/>
<rect x="685.18" y="2217.5" width="13.8" height="24.2" fill="#272C7E"/>
<rect x="703.31" y="2217.5" width="13.8" height="24.2" fill="#272C7E"/>
<rect x="721.43" y="2217.5" width="13.8" height="24.2" fill="#272C7E"/>
<rect x="739.56" y="2217.5" width="13.8" height="24.2" fill="#8E181B"/>
<rect x="757.69" y="2217.5" width="13.8" height="24.2" fill="#272C7E"/>
<rect x="775.81" y="2217.5" width="13.8" height="24.2" fill="#8E181B"/>
<rect x="793.94" y="2217.5" width="13.8" height="24.2" fill="#8E181B"/>
<rect x="812.07" y="2217.5" width="13.8" height="24.2" fill="#272C7E"/>
<rect x="830.19" y="2217.5" width="13.8" height="24.2" fill="#8E181B"/>
<rect x="848.32" y="2217.5" width="13.8" height="24.2" fill="#272C7E"/>
<rect x="866.44" y="2217.5" width="13.8" height="24.2" fill="#272C7E"/>
<rect x="884.57" y="2217.5" width="13.8" height="24.2" fill="#272C7E"/>
<rect x="902.7" y="2217.5" width="13.8" height="24.2" fill="#272C7E"/>
<rect x="920.82" y="2217.5" width="13.8" height="24.2" fill="#272C7E"/>
<rect x="938.95" y="2217.5" width="13.8" height="24.2" fill="#272C7E"/>
<rect x="957.07" y="2217.5" width="13.8" height="24.2" fill="#272C7E"/>
<rect x="975.2" y="2217.5" width="13.8" height="24.2" fill="#272C7E"/>
<rect x="993.33" y="2217.5" width="13.8" height="24.2" fill="#272C7E"/>
<rect x="1011.45" y="2217.5" width="13.8" height="24.2" fill="#8E181B"/>
<rect x="1029.58" y="2217.5" width="13.8" height="24.2" fill="#8E181B"/>
<rect x="1047.7" y="2217.5" width="13.8" height="24.2" fill="#272C7E"/>
<rect x="1065.83" y="2217.5" width="13.8" height="24.2" fill="#8E181B"/>
<rect x="1083.96" y="2217.5" width="13.8" height="24.2" fill="#272C7E"/>
<rect x="1102.08" y="2217.5" width="13.8" height="24.2" fill="#272C7E"/>
<rect x="1120.21" y="2217.5" width="13.8" height="24.2" fill="#272C7E"/>
<rect x="1138.33" y="2217.5" width="13.8" height="24.2" fill="#272C7E"/>
<rect x="1156.46" y="2217.5" width="13.8" height="24.2" fill="#8E181B"/>
<rect x="1174.59" y="2217.5" width="13.8" height="24.2" fill="#272C7E"/>
<rect x="1192.71" y="2217.5" width="13.8" height="24.2" fill="#272C7E"/>
<rect x="1210.84" y="2217.5" width="13.8" height="24.2" fill="#8E181B"/>
<rect x="1228.97" y="2217.5" width="13.8" height="24.2" fill="#8E181B"/>
<rect x="1247.09" y="2217.5" width="13.8" height="24.2" fill="#8E181B"/>
<rect x="1265.22" y="2217.5" width="13.8" height="24.2" fill="#8E181B"/>
<rect x="1283.34" y="2217.5" width="13.8" height="24.2" fill="#272C7E"/>
<rect x="1301.47" y="2217.5" width="13.8" height="24.2" fill="#272C7E"/>
<rect x="1319.6" y="2217.5" width="13.8" height="24.2" fill="#272C7E"/>
<rect x="1337.72" y="2217.5" width="13.8" height="24.2" fill="#272C7E"/>
<rect x="1355.85" y="2217.5" width="13.8" height="24.2" fill="#272C7E"/>
<rect x="1373.97" y="2217.5" width="13.8" height="24.2" fill="#272C7E"/>
<rect x="1392.1" y="2217.5" width="13.8" height="24.2" fill="#272C7E"/>
<rect x="1410.23" y="2217.5" width="13.8" height="24.2" fill="#272C7E"/>
<rect x="1428.35" y="2217.5" width="13.8" height="24.2" fill="#272C7E"/>
<rect x="1446.48" y="2217.5" width="13.8" height="24.2" fill="#272C7E"/>
<rect x="1464.6" y="2217.5" width="13.8" height="24.2" fill="#8E181B"/>
<rect x="1482.73" y="2217.5" width="13.8" height="24.2" fill="#8E181B"/>
<rect x="1500.86" y="2217.5" width="13.8" height="24.2" fill="#272C7E"/>
<rect x="1518.98" y="2217.5" width="13.8" height="24.2" fill="#272C7E"/>
<rect x="1537.11" y="2217.5" width="13.8" height="24.2" fill="#272C7E"/>
<rect x="1555.23" y="2217.5" width="13.8" height="24.2" fill="#272C7E"/>
<rect x="1573.36" y="2217.5" width="13.8" height="24.2" fill="#272C7E"/>
<rect x="1591.49" y="2217.5" width="13.8" height="24.2" fill="#8E181B"/>
<rect x="1609.61" y="2217.5" width="13.8" height="24.2" fill="#272C7E"/>
<rect x="1627.74" y="2217.5" width="13.8" height="24.2" fill="#272C7E"/>
<rect x="1645.87" y="2217.5" width="13.8" height="24.2" fill="#272C7E"/>
<rect x="1663.99" y="2217.5" width="13.8" height="24.2" fill="#8E181B"/>
<rect x="1682.12" y="2217.5" width="13.8" height="24.2" fill="#8E181B"/>
<rect x="1700.24" y="2217.5" width="13.8" height="24.2" fill="#272C7E"/>
<rect x="1718.37" y="2217.5" width="13.8" height="24.2" fill="#272C7E"/>
<rect x="1736.5" y="2217.5" width="13.8" height="24.2" fill="#272C7E"/>
<rect x="1754.62" y="2217.5" width="13.8" height="24.2" fill="#272C7E"/>
<rect x="1772.75" y="2217.5" width="13.8" height="24.2" fill="#272C7E"/>
<rect x="1790.87" y="2217.5" width="13.8" height="24.2" fill="#272C7E"/>
<rect x="1809" y="2217.5" width="13.8" height="24.2" fill="#8E181B"/>
<text x="125.9" y="2237.5" font-size="23.4" text-anchor="end" fill="#000">histology</text>
<rect x="141.4" y="2249.1" width="13.8" height="24.2" fill="#BF2033"/>
<rect x="159.53" y="2249.1" width="13.8" height="24.2" fill="#BF2033"/>
<rect x="177.65" y="2249.1" width="13.8" height="24.2" fill="#BF2033"/>
<rect x="195.78" y="2249.1" width="13.8" height="24.2" fill="#BF2033"/>
<rect x="213.9" y="2249.1" width="13.8" height="24.2" fill="#BF2033"/>
<rect x="232.03" y="2249.1" width="13.8" height="24.2" fill="#BF2033"/>
<rect x="250.16" y="2249.1" width="13.8" height="24.2" fill="#BF2033"/>
<rect x="268.28" y="2249.1" width="13.8" height="24.2" fill="#BF2033"/>
<rect x="286.41" y="2249.1" width="13.8" height="24.2" fill="#BF2033"/>
<rect x="304.53" y="2249.1" width="13.8" height="24.2" fill="#BF2033"/>
<rect x="322.66" y="2249.1" width="13.8" height="24.2" fill="#BF2033"/>
<rect x="340.79" y="2249.1" width="13.8" height="24.2" fill="#BF2033"/>
<rect x="358.91" y="2249.1" width="13.8" height="24.2" fill="#BF2033"/>
<rect x="377.04" y="2249.1" width="13.8" height="24.2" fill="#BF2033"/>
<rect x="395.17" y="2249.1" width="13.8" height="24.2" fill="#BF2033"/>
<rect x="413.29" y="2249.1" width="13.8" height="24.2" fill="#BF2033"/>
<rect x="431.42" y="2249.1" width="13.8" height="24.2" fill="#BF2033"/>
<rect x="449.54" y="2249.1" width="13.8" height="24.2" fill="#BF2033"/>
<rect x="467.67" y="2249.1" width="13.8" height="24.2" fill="#BF2033"/>
<rect x="485.8" y="2249.1" width="13.8" height="24.2" fill="#BF2033"/>
<rect x="503.92" y="2249.1" width="13.8" height="24.2" fill="#BF2033"/>
<rect x="522.05" y="2249.1" width="13.8" height="24.2" fill="#DE9C2F"/>
<rect x="540.17" y="2249.1" width="13.8" height="24.2" fill="#DE9C2F"/>
<rect x="558.3" y="2249.1" width="13.8" height="24.2" fill="#DE9C2F"/>
<rect x="576.43" y="2249.1" width="13.8" height="24.2" fill="#DE9C2F"/>
<rect x="594.55" y="2249.1" width="13.8" height="24.2" fill="#DE9C2F"/>
<rect x="612.68" y="2249.1" width="13.8" height="24.2" fill="#DE9C2F"/>
<rect x="630.8" y="2249.1" width="13.8" height="24.2" fill="#DE9C2F"/>
<rect x="648.93" y="2249.1" width="13.8" height="24.2" fill="#DE9C2F"/>
<rect x="667.06" y="2249.1" width="13.8" height="24.2" fill="#DE9C2F"/>
<rect x="685.18" y="2249.1" width="13.8" height="24.2" fill="#DE9C2F"/>
<rect x="703.31" y="2249.1" width="13.8" height="24.2" fill="#DE9C2F"/>
<rect x="721.43" y="2249.1" width="13.8" height="24.2" fill="#DE9C2F"/>
<rect x="739.56" y="2249.1" width="13.8" height="24.2" fill="#DE9C2F"/>
<rect x="757.69" y="2249.1" width="13.8" height="24.2" fill="#DE9C2F"/>
<rect x="775.81" y="2249.1" width="13.8" height="24.2" fill="#DE9C2F"/>
<rect x="793.94" y="2249.1" width="13.8" height="24.2" fill="#DE9C2F"/>
<rect x="812.07" y="2249.1" width="13.8" height="24.2" fill="#DE9C2F"/>
<rect x="830.19" y="2249.1" width="13.8" height="24.2" fill="#DE9C2F"/>
<rect x="848.32" y="2249.1" width="13.8" height="24.2" fill="#DE9C2F"/>
<rect x="866.44" y="2249.1" width="13.8" height="24.2" fill="#DE9C2F"/>
<rect x="884.57" y="2249.1" width="13.8" height="24.2" fill="#DE9C2F"/>
<rect x="902.7" y="2249.1" width="13.8" height="24.2" fill="#DE9C2F"/>
<rect x="920.82" y="2249.1" width="13.8" height="24.2" fill="#DE9C2F"/>
<rect x="938.95" y="2249.1" width="13.8" height="24.2" fill="#DE9C2F"/>
<rect x="957.07" y="2249.1" width="13.8" height="24.2" fill="#2AABE2"/>
<rect x="975.2" y="2249.1" width="13.8" height="24.2" fill="#2AABE2"/>
<rect x="993.33" y="2249.1" width="13.8" height="24.2" fill="#2AABE2"/>
<rect x="1011.45" y="2249.1" width="13.8" height="24.2" fill="#2AABE2"/>
<rect x="1029.58" y="2249.1" width="13.8" height="24.2" fill="#2AABE2"/>
<rect x="1047.7" y="2249.1" width="13.8" height="24.2" fill="#2AABE2"/>
<rect x="1065.83" y="2249.1" width="13.8" height="24.2" fill="#2AABE2"/>
<rect x="1083.96" y="2249.1" width="13.8" height="24.2" fill="#2AABE2"/>
<rect x="1102.08" y="2249.1" width="13.8" height="24.2" fill="#2AABE2"/>
<rect x="1120.21" y="2249.1" width="13.8" height="24.2" fill="#2AABE2"/>
<rect x="1138.33" y="2249.1" width="13.8" height="24.2" fill="#2AABE2"/>
<rect x="1156.46" y="2249.1" width="13.8" height="24.2" fill="#2AABE2"/>
<rect x="1174.59" y="2249.1" width="13.8" height="24.2" fill="#2AABE2"/>
<rect x="1192.71" y="2249.1" width="13.8" height="24.2" fill="#2AABE2"/>
<rect x="1210.84" y="2249.1" width="13.8" height="24.2" fill="#2AABE2"/>
<rect x="1228.97" y="2249.1" width="13.8" height="24.2" fill="#2AABE2"/>
<rect x="1247.09" y="2249.1" width="13.8" height="24.2" fill="#2AABE2"/>
<rect x="1265.22" y="2249.1" width="13.8" height="24.2" fill="#2AABE2"/>
<rect x="1283.34" y="2249.1" width="13.8" height="24.2" fill="#2AABE2"/>
<rect x="1301.47" y="2249.1" width="13.8" height="24.2" fill="#2AABE2"/>
<rect x="1319.6" y="2249.1" width="13.8" height="24.2" fill="#2AABE2"/>
<rect x="1337.72" y="2249.1" width="13.8" height="24.2" fill="#2AABE2"/>
<rect x="1355.85" y="2249.1" width="13.8" height="24.2" fill="#2AABE2"/>
<rect x="1373.97" y="2249.1" width="13.8" height="24.2" fill="#2AABE2"/>
<rect x="1392.1" y="2249.1" width="13.8" height="24.2" fill="#2AABE2"/>
<rect x="1410.23" y="2249.1" width="13.8" height="24.2" fill="#2AABE2"/>
<rect x="1428.35" y="2249.1" width="13.8" height="24.2" fill="#2AABE2"/>
<rect x="1446.48" y="2249.1" width="13.8" height="24.2" fill="#2AABE2"/>
<rect x="1464.6" y="2249.1" width="13.8" height="24.2" fill="#2AABE2"/>
<rect x="1482.73" y="2249.1" width="13.8" height="24.2" fill="#2AABE2"/>
<rect x="1500.86" y="2249.1" width="13.8" height="24.2" fill="#2AABE2"/>
<rect x="1518.98" y="2249.1" width="13.8" height="24.2" fill="#2AABE2"/>
<rect x="1537.11" y="2249.1" width="13.8" height="24.2" fill="#2AABE2"/>
<rect x="1555.23" y="2249.1" width="13.8" height="24.2" fill="#2AABE2"/>
<rect x="1573.36" y="2249.1" width="13.8" height="24.2" fill="#2AABE2"/>
<rect x="1591.49" y="2249.1" width="13.8" height="24.2" fill="#2AABE2"/>
<rect x="1609.61" y="2249.1" width="13.8" height="24.2" fill="#D3D3D3"/>
<rect x="1627.74" y="2249.1" width="13.8" height="24.2" fill="#D3D3D3"/>
<rect x="1645.87" y="2249.1" width="13.8" height="24.2" fill="#D3D3D3"/>
<rect x="1663.99" y="2249.1" width="13.8" height="24.2" fill="#D3D3D3"/>
<rect x="1682.12" y="2249.1" width="13.8" height="24.2" fill="#D3D3D3"/>
<rect x="1700.24" y="2249.1" width="13.8" height="24.2" fill="#D3D3D3"/>
<rect x="1718.37" y="2249.1" width="13.8" height="24.2" fill="#D3D3D3"/>
<rect x="1736.5" y="2249.1" width="13.8" height="24.2" fill="#D3D3D3"/>
<rect x="1754.62" y="2249.1" width="13.8" height="24.2" fill="#D3D3D3"/>
<rect x="1772.75" y="2249.1" width="13.8" height="24.2" fill="#D3D3D3"/>
<rect x="1790.87" y="2249.1" width="13.8" height="24.2" fill="#D3D3D3"/>
<rect x="1809" y="2249.1" width="13.8" height="24.2" fill="#D3D3D3"/>
<text x="125.9" y="2269.1" font-size="23.4" text-anchor="end" fill="#000">immune</text>
<rect x="141.4" y="2280.4" width="13.8" height="24.2" fill="#4575B5"/>
<rect x="159.53" y="2280.4" width="13.8" height="24.2" fill="#4575B5"/>
<rect x="177.65" y="2280.4" width="13.8" height="24.2" fill="#4575B5"/>
<rect x="195.78" y="2280.4" width="13.8" height="24.2" fill="#4575B5"/>
<rect x="213.9" y="2280.4" width="13.8" height="24.2" fill="#4575B5"/>
<rect x="232.03" y="2280.4" width="13.8" height="24.2" fill="#4575B5"/>
<rect x="250.16" y="2280.4" width="13.8" height="24.2" fill="#4575B5"/>
<rect x="268.28" y="2280.4" width="13.8" height="24.2" fill="#4575B5"/>
<rect x="286.41" y="2280.4" width="13.8" height="24.2" fill="#4575B5"/>
<rect x="304.53" y="2280.4" width="13.8" height="24.2" fill="#4575B5"/>
<rect x="322.66" y="2280.4" width="13.8" height="24.2" fill="#4575B5"/>
<rect x="340.79" y="2280.4" width="13.8" height="24.2" fill="#4575B5"/>
<rect x="358.91" y="2280.4" width="13.8" height="24.2" fill="#4575B5"/>
<rect x="377.04" y="2280.4" width="13.8" height="24.2" fill="#4575B5"/>
<rect x="395.17" y="2280.4" width="13.8" height="24.2" fill="#4575B5"/>
<rect x="413.29" y="2280.4" width="13.8" height="24.2" fill="#4575B5"/>
<rect x="431.42" y="2280.4" width="13.8" height="24.2" fill="#DDF0F9"/>
<rect x="449.54" y="2280.4" width="13.8" height="24.2" fill="#DDF0F9"/>
<rect x="467.67" y="2280.4" width="13.8" height="24.2" fill="#DDF0F9"/>
<rect x="485.8" y="2280.4" width="13.8" height="24.2" fill="#DDF0F9"/>
<rect x="503.92" y="2280.4" width="13.8" height="24.2" fill="#DDF0F9"/>
<rect x="522.05" y="2280.4" width="13.8" height="24.2" fill="#4575B5"/>
<rect x="540.17" y="2280.4" width="13.8" height="24.2" fill="#4575B5"/>
<rect x="558.3" y="2280.4" width="13.8" height="24.2" fill="#4575B5"/>
<rect x="576.43" y="2280.4" width="13.8" height="24.2" fill="#4575B5"/>
<rect x="594.55" y="2280.4" width="13.8" height="24.2" fill="#4575B5"/>
<rect x="612.68" y="2280.4" width="13.8" height="24.2" fill="#4575B5"/>
<rect x="630.8" y="2280.4" width="13.8" height="24.2" fill="#DE9C2F"/>
<rect x="648.93" y="2280.4" width="13.8" height="24.2" fill="#DE9C2F"/>
<rect x="667.06" y="2280.4" width="13.8" height="24.2" fill="#DE9C2F"/>
<rect x="685.18" y="2280.4" width="13.8" height="24.2" fill="#DDF0F9"/>
<rect x="703.31" y="2280.4" width="13.8" height="24.2" fill="#DDF0F9"/>
<rect x="721.43" y="2280.4" width="13.8" height="24.2" fill="#DE9C2F"/>
<rect x="739.56" y="2280.4" width="13.8" height="24.2" fill="#DE9C2F"/>
<rect x="757.69" y="2280.4" width="13.8" height="24.2" fill="#DE9C2F"/>
<rect x="775.81" y="2280.4" width="13.8" height="24.2" fill="#DE9C2F"/>
<rect x="793.94" y="2280.4" width="13.8" height="24.2" fill="#DE9C2F"/>
<rect x="812.07" y="2280.4" width="13.8" height="24.2" fill="#DE9C2F"/>
<rect x="830.19" y="2280.4" width="13.8" height="24.2" fill="#DE9C2F"/>
<rect x="848.32" y="2280.4" width="13.8" height="24.2" fill="#DDF0F9"/>
<rect x="866.44" y="2280.4" width="13.8" height="24.2" fill="#DDF0F9"/>
<rect x="884.57" y="2280.4" width="13.8" height="24.2" fill="#DDF0F9"/>
<rect x="902.7" y="2280.4" width="13.8" height="24.2" fill="#DDF0F9"/>
<rect x="920.82" y="2280.4" width="13.8" height="24.2" fill="#DDF0F9"/>
<rect x="938.95" y="2280.4" width="13.8" height="24.2" fill="#DDF0F9"/>
<rect x="957.07" y="2280.4" width="13.8" height="24.2" fill="#4575B5"/>
<rect x="975.2" y="2280.4" width="13.8" height="24.2" fill="#4575B5"/>
<rect x="993.33" y="2280.4" width="13.8" height="24.2" fill="#4575B5"/>
<rect x="1011.45" y="2280.4" width="13.8" height="24.2" fill="#4575B5"/>
<rect x="1029.58" y="2280.4" width="13.8" height="24.2" fill="#4575B5"/>
<rect x="1047.7" y="2280.4" width="13.8" height="24.2" fill="#4575B5"/>
<rect x="1065.83" y="2280.4" width="13.8" height="24.2" fill="#4575B5"/>
<rect x="1083.96" y="2280.4" width="13.8" height="24.2" fill="#4575B5"/>
<rect x="1102.08" y="2280.4" width="13.8" height="24.2" fill="#4575B5"/>
<rect x="1120.21" y="2280.4" width="13.8" height="24.2" fill="#4575B5"/>
<rect x="1138.33" y="2280.4" width="13.8" height="24.2" fill="#4575B5"/>
<rect x="1156.46" y="2280.4" width="13.8" height="24.2" fill="#4575B5"/>
<rect x="1174.59" y="2280.4" width="13.8" height="24.2" fill="#4575B5"/>
<rect x="1192.71" y="2280.4" width="13.8" height="24.2" fill="#4575B5"/>
<rect x="1210.84" y="2280.4" width="13.8" height="24.2" fill="#4575B5"/>
<rect x="1228.97" y="2280.4" width="13.8" height="24.2" fill="#4575B5"/>
<rect x="1247.09" y="2280.4" width="13.8" height="24.2" fill="#4575B5"/>
<rect x="1265.22" y="2280.4" width="13.8" height="24.2" fill="#4575B5"/>
<rect x="1283.34" y="2280.4" width="13.8" height="24.2" fill="#DDF0F9"/>
<rect x="1301.47" y="2280.4" width="13.8" height="24.2" fill="#DDF0F9"/>
<rect x="1319.6" y="2280.4" width="13.8" height="24.2" fill="#DDF0F9"/>
<rect x="1337.72" y="2280.4" width="13.8" height="24.2" fill="#DDF0F9"/>
<rect x="1355.85" y="2280.4" width="13.8" height="24.2" fill="#DDF0F9"/>
<rect x="1373.97" y="2280.4" width="13.8" height="24.2" fill="#DDF0F9"/>
<rect x="1392.1" y="2280.4" width="13.8" height="24.2" fill="#DDF0F9"/>
<rect x="1410.23" y="2280.4" width="13.8" height="24.2" fill="#DDF0F9"/>
<rect x="1428.35" y="2280.4" width="13.8" height="24.2" fill="#DDF0F9"/>
<rect x="1446.48" y="2280.4" width="13.8" height="24.2" fill="#DDF0F9"/>
<rect x="1464.6" y="2280.4" width="13.8" height="24.2" fill="#DE9C2F"/>
<rect x="1482.73" y="2280.4" width="13.8" height="24.2" fill="#DE9C2F"/>
<rect x="1500.86" y="2280.4" width="13.8" height="24.2" fill="#DDF0F9"/>
<rect x="1518.98" y="2280.4" width="13.8" height="24.2" fill="#DDF0F9"/>
<rect x="1537.11" y="2280.4" width="13.8" height="24.2" fill="#DDF0F9"/>
<rect x="1555.23" y="2280.4" width="13.8" height="24.2" fill="#DDF0F9"/>
<rect x="1573.36" y="2280.4" width="13.8" height="24.2" fill="#DDF0F9"/>
<rect x="1591.49" y="2280.4" width="13.8" height="24.2" fill="#DDF0F9"/>
<rect x="1609.61" y="2280.4" width="13.8" height="24.2" fill="#4575B5"/>
<rect x="1627.74" y="2280.4" width="13.8" height="24.2" fill="#4575B5"/>
<rect x="1645.87" y="2280.4" width="13.8" height="24.2" fill="#4575B5"/>
<rect x="1663.99" y="2280.4" width="13.8" height="24.2" fill="#4575B5"/>
<rect x="1682.12" y="2280.4" width="13.8" height="24.2" fill="#4575B5"/>
<rect x="1700.24" y="2280.4" width="13.8" height="24.2" fill="#DDF0F9"/>
<rect x="1718.37" y="2280.4" width="13.8" height="24.2" fill="#DDF0F9"/>
<rect x="1736.5" y="2280.4" width="13.8" height="24.2" fill="#DDF0F9"/>
<rect x="1754.62" y="2280.4" width="13.8" height="24.2" fill="#DDF0F9"/>
<rect x="1772.75" y="2280.4" width="13.8" height="24.2" fill="#DDF0F9"/>
<rect x="1790.87" y="2280.4" width="13.8" height="24.2" fill="#DDF0F9"/>
<rect x="1809" y="2280.4" width="13.8" height="24.2" fill="#DDF0F9"/>
<text x="125.9" y="2300.4" font-size="23.4" text-anchor="end" fill="#000">TMB+</text>
<rect x="141.4" y="2311.7" width="13.8" height="24.2" fill="#4575B5"/>
<rect x="159.53" y="2311.7" width="13.8" height="24.2" fill="#DDF0F9"/>
<rect x="177.65" y="2311.7" width="13.8" height="24.2" fill="#DDF0F9"/>
<rect x="195.78" y="2311.7" width="13.8" height="24.2" fill="#DDF0F9"/>
<rect x="213.9" y="2311.7" width="13.8" height="24.2" fill="#DDF0F9"/>
<rect x="232.03" y="2311.7" width="13.8" height="24.2" fill="#DE9C2F"/>
<rect x="250.16" y="2311.7" width="13.8" height="24.2" fill="#DE9C2F"/>
<rect x="268.28" y="2311.7" width="13.8" height="24.2" fill="#DE9C2F"/>
<rect x="286.41" y="2311.7" width="13.8" height="24.2" fill="#DDF0F9"/>
<rect x="304.53" y="2311.7" width="13.8" height="24.2" fill="#DDF0F9"/>
<rect x="322.66" y="2311.7" width="13.8" height="24.2" fill="#D3D3D3"/>
<rect x="340.79" y="2311.7" width="13.8" height="24.2" fill="#D3D3D3"/>
<rect x="358.91" y="2311.7" width="13.8" height="24.2" fill="#D3D3D3"/>
<rect x="377.04" y="2311.7" width="13.8" height="24.2" fill="#D3D3D3"/>
<rect x="395.17" y="2311.7" width="13.8" height="24.2" fill="#D3D3D3"/>
<rect x="413.29" y="2311.7" width="13.8" height="24.2" fill="#D3D3D3"/>
<rect x="431.42" y="2311.7" width="13.8" height="24.2" fill="#4575B5"/>
<rect x="449.54" y="2311.7" width="13.8" height="24.2" fill="#4575B5"/>
<rect x="467.67" y="2311.7" width="13.8" height="24.2" fill="#DDF0F9"/>
<rect x="485.8" y="2311.7" width="13.8" height="24.2" fill="#D3D3D3"/>
<rect x="503.92" y="2311.7" width="13.8" height="24.2" fill="#D3D3D3"/>
<rect x="522.05" y="2311.7" width="13.8" height="24.2" fill="#4575B5"/>
<rect x="540.17" y="2311.7" width="13.8" height="24.2" fill="#4575B5"/>
<rect x="558.3" y="2311.7" width="13.8" height="24.2" fill="#4575B5"/>
<rect x="576.43" y="2311.7" width="13.8" height="24.2" fill="#4575B5"/>
<rect x="594.55" y="2311.7" width="13.8" height="24.2" fill="#DE9C2F"/>
<rect x="612.68" y="2311.7" width="13.8" height="24.2" fill="#D3D3D3"/>
<rect x="630.8" y="2311.7" width="13.8" height="24.2" fill="#4575B5"/>
<rect x="648.93" y="2311.7" width="13.8" height="24.2" fill="#4575B5"/>
<rect x="667.06" y="2311.7" width="13.8" height="24.2" fill="#DDF0F9"/>
<rect x="685.18" y="2311.7" width="13.8" height="24.2" fill="#4575B5"/>
<rect x="703.31" y="2311.7" width="13.8" height="24.2" fill="#4575B5"/>
<rect x="721.43" y="2311.7" width="13.8" height="24.2" fill="#DE9C2F"/>
<rect x="739.56" y="2311.7" width="13.8" height="24.2" fill="#DE9C2F"/>
<rect x="757.69" y="2311.7" width="13.8" height="24.2" fill="#DE9C2F"/>
<rect x="775.81" y="2311.7" width="13.8" height="24.2" fill="#DE9C2F"/>
<rect x="793.94" y="2311.7" width="13.8" height="24.2" fill="#DE9C2F"/>
<rect x="812.07" y="2311.7" width="13.8" height="24.2" fill="#D3D3D3"/>
<rect x="830.19" y="2311.7" width="13.8" height="24.2" fill="#D3D3D3"/>
<rect x="848.32" y="2311.7" width="13.8" height="24.2" fill="#DE9C2F"/>
<rect x="866.44" y="2311.7" width="13.8" height="24.2" fill="#DE9C2F"/>
<rect x="884.57" y="2311.7" width="13.8" height="24.2" fill="#DE9C2F"/>
<rect x="902.7" y="2311.7" width="13.8" height="24.2" fill="#D3D3D3"/>
<rect x="920.82" y="2311.7" width="13.8" height="24.2" fill="#D3D3D3"/>
<rect x="938.95" y="2311.7" width="13.8" height="24.2" fill="#D3D3D3"/>
<rect x="957.07" y="2311.7" width="13.8" height="24.2" fill="#4575B5"/>
<rect x="975.2" y="2311.7" width="13.8" height="24.2" fill="#4575B5"/>
<rect x="993.33" y="2311.7" width="13.8" height="24.2" fill="#4575B5"/>
<rect x="1011.45" y="2311.7" width="13.8" height="24.2" fill="#4575B5"/>
<rect x="1029.58" y="2311.7" width="13.8" height="24.2" fill="#4575B5"/>
<rect x="1047.7" y="2311.7" width="13.8" height="24.2" fill="#DE9C2F"/>
<rect x="1065.83" y="2311.7" width="13.8" height="24.2" fill="#DE9C2F"/>
<rect x="1083.96" y="2311.7" width="13.8" height="24.2" fill="#DE9C2F"/>
<rect x="1102.08" y="2311.7" width="13.8" height="24.2" fill="#DDF0F9"/>
<rect x="1120.21" y="2311.7" width="13.8" height="24.2" fill="#DDF0F9"/>
<rect x="1138.33" y="2311.7" width="13.8" height="24.2" fill="#DDF0F9"/>
<rect x="1156.46" y="2311.7" width="13.8" height="24.2" fill="#DDF0F9"/>
<rect x="1174.59" y="2311.7" width="13.8" height="24.2" fill="#D3D3D3"/>
<rect x="1192.71" y="2311.7" width="13.8" height="24.2" fill="#D3D3D3"/>
<rect x="1210.84" y="2311.7" width="13.8" height="24.2" fill="#D3D3D3"/>
<rect x="1228.97" y="2311.7" width="13.8" height="24.2" fill="#D3D3D3"/>
<rect x="1247.09" y="2311.7" width="13.8" height="24.2" fill="#D3D3D3"/>
<rect x="1265.22" y="2311.7" width="13.8" height="24.2" fill="#D3D3D3"/>
<rect x="1283.34" y="2311.7" width="13.8" height="24.2" fill="#4575B5"/>
<rect x="1301.47" y="2311.7" width="13.8" height="24.2" fill="#4575B5"/>
<rect x="1319.6" y="2311.7" width="13.8" height="24.2" fill="#4575B5"/>
<rect x="1337.72" y="2311.7" width="13.8" height="24.2" fill="#4575B5"/>
<rect x="1355.85" y="2311.7" width="13.8" height="24.2" fill="#4575B5"/>
<rect x="1373.97" y="2311.7" width="13.8" height="24.2" fill="#4575B5"/>
<rect x="1392.1" y="2311.7" width="13.8" height="24.2" fill="#4575B5"/>
<rect x="1410.23" y="2311.7" width="13.8" height="24.2" fill="#4575B5"/>
<rect x="1428.35" y="2311.7" width="13.8" height="24.2" fill="#4575B5"/>
<rect x="1446.48" y="2311.7" width="13.8" height="24.2" fill="#DDF0F9"/>
<rect x="1464.6" y="2311.7" width="13.8" height="24.2" fill="#DDF0F9"/>
<rect x="1482.73" y="2311.7" width="13.8" height="24.2" fill="#D3D3D3"/>
<rect x="1500.86" y="2311.7" width="13.8" height="24.2" fill="#DE9C2F"/>
<rect x="1518.98" y="2311.7" width="13.8" height="24.2" fill="#DE9C2F"/>
<rect x="1537.11" y="2311.7" width="13.8" height="24.2" fill="#DDF0F9"/>
<rect x="1555.23" y="2311.7" width="13.8" height="24.2" fill="#D3D3D3"/>
<rect x="1573.36" y="2311.7" width="13.8" height="24.2" fill="#D3D3D3"/>
<rect x="1591.49" y="2311.7" width="13.8" height="24.2" fill="#D3D3D3"/>
<rect x="1609.61" y="2311.7" width="13.8" height="24.2" fill="#D3D3D3"/>
<rect x="1627.74" y="2311.7" width="13.8" height="24.2" fill="#D3D3D3"/>
<rect x="1645.87" y="2311.7" width="13.8" height="24.2" fill="#D3D3D3"/>
<rect x="1663.99" y="2311.7" width="13.8" height="24.2" fill="#D3D3D3"/>
<rect x="1682.12" y="2311.7" width="13.8" height="24.2" fill="#D3D3D3"/>
<rect x="1700.24" y="2311.7" width="13.8" height="24.2" fill="#D3D3D3"/>
<rect x="1718.37" y="2311.7" width="13.8" height="24.2" fill="#D3D3D3"/>
<rect x="1736.5" y="2311.7" width="13.8" height="24.2" fill="#D3D3D3"/>
<rect x="1754.62" y="2311.7" width="13.8" height="24.2" fill="#D3D3D3"/>
<rect x="1772.75" y="2311.7" width="13.8" height="24.2" fill="#D3D3D3"/>
<rect x="1790.87" y="2311.7" width="13.8" height="24.2" fill="#D3D3D3"/>
<rect x="1809" y="2311.7" width="13.8" height="24.2" fill="#D3D3D3"/>
<text x="125.9" y="2331.7" font-size="23.4" text-anchor="end" fill="#000">TIDE</text>
<rect x="141.4" y="2343" width="13.8" height="24.2" fill="#DDF0F9"/>
<rect x="159.53" y="2343" width="13.8" height="24.2" fill="#4575B5"/>
<rect x="177.65" y="2343" width="13.8" height="24.2" fill="#4575B5"/>
<rect x="195.78" y="2343" width="13.8" height="24.2" fill="#4575B5"/>
<rect x="213.9" y="2343" width="13.8" height="24.2" fill="#4575B5"/>
<rect x="232.03" y="2343" width="13.8" height="24.2" fill="#DDF0F9"/>
<rect x="250.16" y="2343" width="13.8" height="24.2" fill="#DDF0F9"/>
<rect x="268.28" y="2343" width="13.8" height="24.2" fill="#DDF0F9"/>
<rect x="286.41" y="2343" width="13.8" height="24.2" fill="#DE9C2F"/>
<rect x="304.53" y="2343" width="13.8" height="24.2" fill="#DE9C2F"/>
<rect x="322.66" y="2343" width="13.8" height="24.2" fill="#D3D3D3"/>
<rect x="340.79" y="2343" width="13.8" height="24.2" fill="#D3D3D3"/>
<rect x="358.91" y="2343" width="13.8" height="24.2" fill="#D3D3D3"/>
<rect x="377.04" y="2343" width="13.8" height="24.2" fill="#D3D3D3"/>
<rect x="395.17" y="2343" width="13.8" height="24.2" fill="#D3D3D3"/>
<rect x="413.29" y="2343" width="13.8" height="24.2" fill="#D3D3D3"/>
<rect x="431.42" y="2343" width="13.8" height="24.2" fill="#DE9C2F"/>
<rect x="449.54" y="2343" width="13.8" height="24.2" fill="#DDF0F9"/>
<rect x="467.67" y="2343" width="13.8" height="24.2" fill="#4575B5"/>
<rect x="485.8" y="2343" width="13.8" height="24.2" fill="#D3D3D3"/>
<rect x="503.92" y="2343" width="13.8" height="24.2" fill="#D3D3D3"/>
<rect x="522.05" y="2343" width="13.8" height="24.2" fill="#DDF0F9"/>
<rect x="540.17" y="2343" width="13.8" height="24.2" fill="#DDF0F9"/>
<rect x="558.3" y="2343" width="13.8" height="24.2" fill="#DDF0F9"/>
<rect x="576.43" y="2343" width="13.8" height="24.2" fill="#DDF0F9"/>
<rect x="594.55" y="2343" width="13.8" height="24.2" fill="#DE9C2F"/>
<rect x="612.68" y="2343" width="13.8" height="24.2" fill="#D3D3D3"/>
<rect x="630.8" y="2343" width="13.8" height="24.2" fill="#DDF0F9"/>
<rect x="648.93" y="2343" width="13.8" height="24.2" fill="#DDF0F9"/>
<rect x="667.06" y="2343" width="13.8" height="24.2" fill="#4575B5"/>
<rect x="685.18" y="2343" width="13.8" height="24.2" fill="#DDF0F9"/>
<rect x="703.31" y="2343" width="13.8" height="24.2" fill="#DDF0F9"/>
<rect x="721.43" y="2343" width="13.8" height="24.2" fill="#DE9C2F"/>
<rect x="739.56" y="2343" width="13.8" height="24.2" fill="#DE9C2F"/>
<rect x="757.69" y="2343" width="13.8" height="24.2" fill="#DDF0F9"/>
<rect x="775.81" y="2343" width="13.8" height="24.2" fill="#DDF0F9"/>
<rect x="793.94" y="2343" width="13.8" height="24.2" fill="#DDF0F9"/>
<rect x="812.07" y="2343" width="13.8" height="24.2" fill="#D3D3D3"/>
<rect x="830.19" y="2343" width="13.8" height="24.2" fill="#D3D3D3"/>
<rect x="848.32" y="2343" width="13.8" height="24.2" fill="#DE9C2F"/>
<rect x="866.44" y="2343" width="13.8" height="24.2" fill="#DE9C2F"/>
<rect x="884.57" y="2343" width="13.8" height="24.2" fill="#DDF0F9"/>
<rect x="902.7" y="2343" width="13.8" height="24.2" fill="#D3D3D3"/>
<rect x="920.82" y="2343" width="13.8" height="24.2" fill="#D3D3D3"/>
<rect x="938.95" y="2343" width="13.8" height="24.2" fill="#D3D3D3"/>
<rect x="957.07" y="2343" width="13.8" height="24.2" fill="#DDF0F9"/>
<rect x="975.2" y="2343" width="13.8" height="24.2" fill="#DDF0F9"/>
<rect x="993.33" y="2343" width="13.8" height="24.2" fill="#DDF0F9"/>
<rect x="1011.45" y="2343" width="13.8" height="24.2" fill="#DDF0F9"/>
<rect x="1029.58" y="2343" width="13.8" height="24.2" fill="#DDF0F9"/>
<rect x="1047.7" y="2343" width="13.8" height="24.2" fill="#DE9C2F"/>
<rect x="1065.83" y="2343" width="13.8" height="24.2" fill="#DE9C2F"/>
<rect x="1083.96" y="2343" width="13.8" height="24.2" fill="#DDF0F9"/>
<rect x="1102.08" y="2343" width="13.8" height="24.2" fill="#DE9C2F"/>
<rect x="1120.21" y="2343" width="13.8" height="24.2" fill="#DDF0F9"/>
<rect x="1138.33" y="2343" width="13.8" height="24.2" fill="#DDF0F9"/>
<rect x="1156.46" y="2343" width="13.8" height="24.2" fill="#DDF0F9"/>
<rect x="1174.59" y="2343" width="13.8" height="24.2" fill="#D3D3D3"/>
<rect x="1192.71" y="2343" width="13.8" height="24.2" fill="#D3D3D3"/>
<rect x="1210.84" y="2343" width="13.8" height="24.2" fill="#D3D3D3"/>
<rect x="1228.97" y="2343" width="13.8" height="24.2" fill="#D3D3D3"/>
<rect x="1247.09" y="2343" width="13.8" height="24.2" fill="#D3D3D3"/>
<rect x="1265.22" y="2343" width="13.8" height="24.2" fill="#D3D3D3"/>
<rect x="1283.34" y="2343" width="13.8" height="24.2" fill="#DE9C2F"/>
<rect x="1301.47" y="2343" width="13.8" height="24.2" fill="#DDF0F9"/>
<rect x="1319.6" y="2343" width="13.8" height="24.2" fill="#DDF0F9"/>
<rect x="1337.72" y="2343" width="13.8" height="24.2" fill="#DDF0F9"/>
<rect x="1355.85" y="2343" width="13.8" height="24.2" fill="#DDF0F9"/>
<rect x="1373.97" y="2343" width="13.8" height="24.2" fill="#DDF0F9"/>
<rect x="1392.1" y="2343" width="13.8" height="24.2" fill="#DDF0F9"/>
<rect x="1410.23" y="2343" width="13.8" height="24.2" fill="#DDF0F9"/>
<rect x="1428.35" y="2343" width="13.8" height="24.2" fill="#DDF0F9"/>
<rect x="1446.48" y="2343" width="13.8" height="24.2" fill="#4575B5"/>
<rect x="1464.6" y="2343" width="13.8" height="24.2" fill="#DDF0F9"/>
<rect x="1482.73" y="2343" width="13.8" height="24.2" fill="#D3D3D3"/>
<rect x="1500.86" y="2343" width="13.8" height="24.2" fill="#DDF0F9"/>
<rect x="1518.98" y="2343" width="13.8" height="24.2" fill="#DDF0F9"/>
<rect x="1537.11" y="2343" width="13.8" height="24.2" fill="#DE9C2F"/>
<rect x="1555.23" y="2343" width="13.8" height="24.2" fill="#D3D3D3"/>
<rect x="1573.36" y="2343" width="13.8" height="24.2" fill="#D3D3D3"/>
<rect x="1591.49" y="2343" width="13.8" height="24.2" fill="#D3D3D3"/>
<rect x="1609.61" y="2343" width="13.8" height="24.2" fill="#D3D3D3"/>
<rect x="1627.74" y="2343" width="13.8" height="24.2" fill="#D3D3D3"/>
<rect x="1645.87" y="2343" width="13.8" height="24.2" fill="#D3D3D3"/>
<rect x="1663.99" y="2343" width="13.8" height="24.2" fill="#D3D3D3"/>
<rect x="1682.12" y="2343" width="13.8" height="24.2" fill="#D3D3D3"/>
<rect x="1700.24" y="2343" width="13.8" height="24.2" fill="#D3D3D3"/>
<rect x="1718.37" y="2343" width="13.8" height="24.2" fill="#D3D3D3"/>
<rect x="1736.5" y="2343" width="13.8" height="24.2" fill="#D3D3D3"/>
<rect x="1754.62" y="2343" width="13.8" height="24.2" fill="#D3D3D3"/>
<rect x="1772.75" y="2343" width="13.8" height="24.2" fill="#D3D3D3"/>
<rect x="1790.87" y="2343" width="13.8" height="24.2" fill="#D3D3D3"/>
<rect x="1809" y="2343" width="13.8" height="24.2" fill="#D3D3D3"/>
<text x="125.9" y="2363" font-size="23.4" text-anchor="end" fill="#000">IPRES</text>
<text x="1839.3" y="2239.1" font-size="23.5" text-anchor="start" fill="#000">Enrichment in</text>
<text x="1839.3" y="2268.1" font-size="23.5" text-anchor="start" fill="#000">het. immune:*</text>
<text x="1839.3" y="2305.7" font-size="23.5" text-anchor="start" font-weight="bold" fill="#000">p: 7e-04</text>
<text x="1839.3" y="2336.7" font-size="23.5" text-anchor="start" font-weight="bold" fill="#000">p: 0.05</text>
<text x="1839.3" y="2367.8" font-size="23.5" text-anchor="start" fill="#000">p: 0.75</text>
<rect x="28.9" y="2407.8" width="24.2" height="25.4" fill="#272C7E"/>
<text x="64.5" y="2432.3" font-size="27" text-anchor="start" fill="#000">lung adeno.</text>
<rect x="400.5" y="2411" width="24.2" height="25.4" fill="#8E181B"/>
<text x="436.1" y="2432.3" font-size="27" text-anchor="start" fill="#000">lung squam.</text>
<rect x="769.2" y="2410" width="24.2" height="25.4" fill="#D3D3D3"/>
<text x="805.6" y="2432.3" font-size="27" text-anchor="start" fill="#000">NA</text>
<rect x="28.9" y="2449.2" width="24.2" height="25.4" fill="#BF2033"/>
<text x="64.5" y="2474.6" font-size="27" text-anchor="start" fill="#000">tumor with high immune</text>
<rect x="400.5" y="2451" width="24.2" height="25.4" fill="#2AABE2"/>
<text x="436.1" y="2474.6" font-size="27" text-anchor="start" fill="#000">tumor with low immune</text>
<rect x="769.2" y="2451" width="24.2" height="25.4" fill="#DE9C2F"/>
<text x="805.6" y="2474.6" font-size="27" text-anchor="start" fill="#000">tumor with heterogeneous immune</text>
<rect x="28.9" y="2488" width="24.2" height="25.4" fill="#4575B5"/>
<text x="64.5" y="2513.3" font-size="27" text-anchor="start" fill="#000">tumor with high score/TMB</text>
<rect x="400.5" y="2490" width="24.2" height="25.4" fill="#C8E9F8"/>
<text x="436.1" y="2513.3" font-size="27" text-anchor="start" fill="#000">tumor with low score/TMB</text>
<rect x="769.2" y="2490" width="24.2" height="25.4" fill="#DE9C2F"/>
<text x="805.6" y="2513.3" font-size="27" text-anchor="start" fill="#000">tumor with heterogeneous score/TMB</text>
<text x="1253.8" y="2474.6" font-size="27" text-anchor="start" fill="#000">* only considering tumors with &gt;1 RNAseq region</text>
</svg>
</body></html>
